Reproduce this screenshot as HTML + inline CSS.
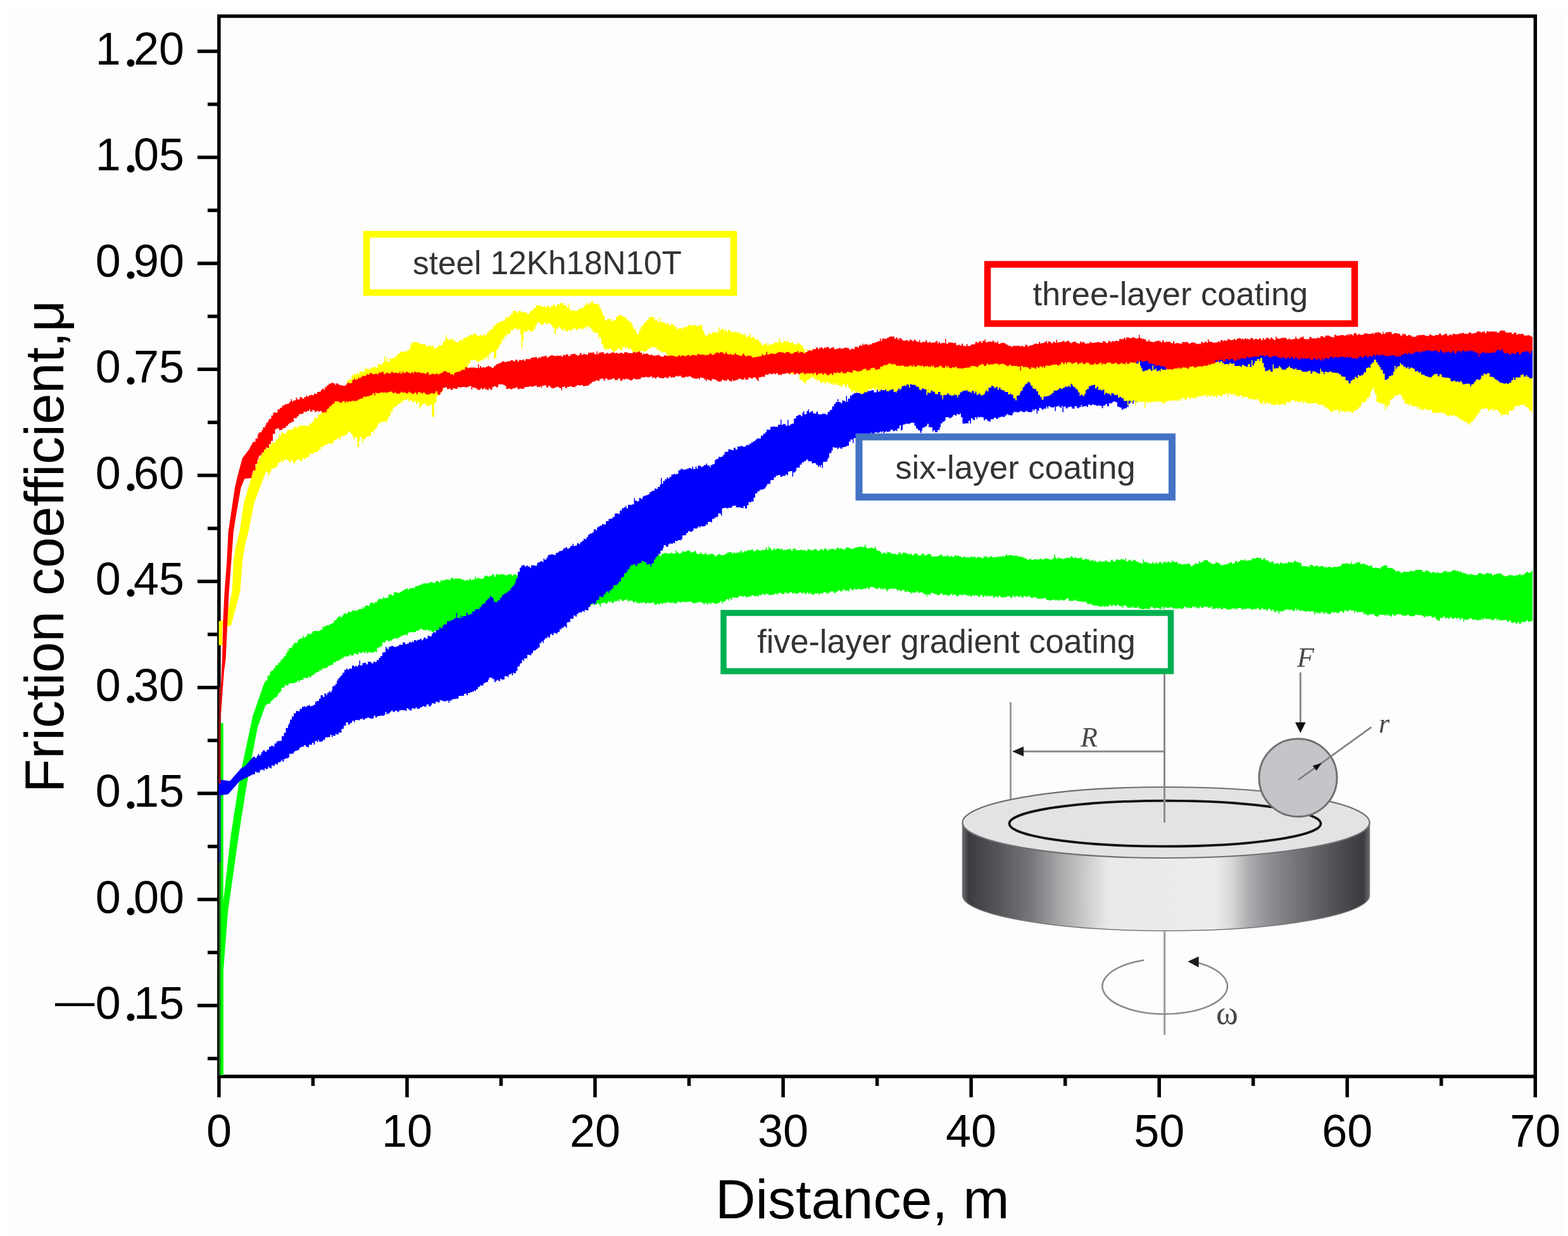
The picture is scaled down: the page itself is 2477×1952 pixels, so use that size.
<!DOCTYPE html>
<html><head><meta charset="utf-8"><title>Friction coefficient vs distance</title>
<style>
html,body{margin:0;padding:0;background:#fff;width:2477px;height:1952px;overflow:hidden}
svg{display:block}
.tk{font-family:"Liberation Sans",Arial,sans-serif;font-size:72px;fill:#000}
.tk .dot{font-family:"Liberation Serif",serif;font-weight:bold;font-size:74px}
.mn{font-weight:normal}
.ttl{font-family:"Liberation Sans",Arial,sans-serif;font-size:87.5px;fill:#000}
.lg{font-family:"Liberation Sans",Arial,sans-serif;font-size:52px;fill:#333}
.it{font-family:"Liberation Serif","Times New Roman",serif;font-style:italic;fill:#484848}
.sf{font-family:"Liberation Serif","Times New Roman",serif;fill:#484848}
</style></head><body>
<svg width="2477" height="1952" viewBox="0 0 2477 1952">
<rect width="2477" height="1952" fill="#ffffff"/><rect x="15" y="14" width="2454" height="1938" fill="#fdfdfd"/>
<rect x="345.9" y="25.5" width="2079.4" height="1674.5" fill="none" stroke="#000" stroke-width="5.5"/>
<line x1="312" y1="81.0" x2="346" y2="81.0" stroke="#000" stroke-width="5.5"/>
<line x1="328" y1="164.7" x2="346" y2="164.7" stroke="#000" stroke-width="5.5"/>
<line x1="312" y1="248.4" x2="346" y2="248.4" stroke="#000" stroke-width="5.5"/>
<line x1="328" y1="332.2" x2="346" y2="332.2" stroke="#000" stroke-width="5.5"/>
<line x1="312" y1="415.9" x2="346" y2="415.9" stroke="#000" stroke-width="5.5"/>
<line x1="328" y1="499.6" x2="346" y2="499.6" stroke="#000" stroke-width="5.5"/>
<line x1="312" y1="583.3" x2="346" y2="583.3" stroke="#000" stroke-width="5.5"/>
<line x1="328" y1="667.1" x2="346" y2="667.1" stroke="#000" stroke-width="5.5"/>
<line x1="312" y1="750.8" x2="346" y2="750.8" stroke="#000" stroke-width="5.5"/>
<line x1="328" y1="834.5" x2="346" y2="834.5" stroke="#000" stroke-width="5.5"/>
<line x1="312" y1="918.2" x2="346" y2="918.2" stroke="#000" stroke-width="5.5"/>
<line x1="328" y1="1001.9" x2="346" y2="1001.9" stroke="#000" stroke-width="5.5"/>
<line x1="312" y1="1085.7" x2="346" y2="1085.7" stroke="#000" stroke-width="5.5"/>
<line x1="328" y1="1169.4" x2="346" y2="1169.4" stroke="#000" stroke-width="5.5"/>
<line x1="312" y1="1253.1" x2="346" y2="1253.1" stroke="#000" stroke-width="5.5"/>
<line x1="328" y1="1336.8" x2="346" y2="1336.8" stroke="#000" stroke-width="5.5"/>
<line x1="312" y1="1420.6" x2="346" y2="1420.6" stroke="#000" stroke-width="5.5"/>
<line x1="328" y1="1504.3" x2="346" y2="1504.3" stroke="#000" stroke-width="5.5"/>
<line x1="312" y1="1588.0" x2="346" y2="1588.0" stroke="#000" stroke-width="5.5"/>
<line x1="328" y1="1671.7" x2="346" y2="1671.7" stroke="#000" stroke-width="5.5"/>
<line x1="345.9" y1="1700" x2="345.9" y2="1733" stroke="#000" stroke-width="5.5"/>
<line x1="494.4" y1="1700" x2="494.4" y2="1715" stroke="#000" stroke-width="5.5"/>
<line x1="643.0" y1="1700" x2="643.0" y2="1733" stroke="#000" stroke-width="5.5"/>
<line x1="791.5" y1="1700" x2="791.5" y2="1715" stroke="#000" stroke-width="5.5"/>
<line x1="940.0" y1="1700" x2="940.0" y2="1733" stroke="#000" stroke-width="5.5"/>
<line x1="1088.5" y1="1700" x2="1088.5" y2="1715" stroke="#000" stroke-width="5.5"/>
<line x1="1237.1" y1="1700" x2="1237.1" y2="1733" stroke="#000" stroke-width="5.5"/>
<line x1="1385.6" y1="1700" x2="1385.6" y2="1715" stroke="#000" stroke-width="5.5"/>
<line x1="1534.1" y1="1700" x2="1534.1" y2="1733" stroke="#000" stroke-width="5.5"/>
<line x1="1682.7" y1="1700" x2="1682.7" y2="1715" stroke="#000" stroke-width="5.5"/>
<line x1="1831.2" y1="1700" x2="1831.2" y2="1733" stroke="#000" stroke-width="5.5"/>
<line x1="1979.7" y1="1700" x2="1979.7" y2="1715" stroke="#000" stroke-width="5.5"/>
<line x1="2128.2" y1="1700" x2="2128.2" y2="1733" stroke="#000" stroke-width="5.5"/>
<line x1="2276.8" y1="1700" x2="2276.8" y2="1715" stroke="#000" stroke-width="5.5"/>
<line x1="2425.3" y1="1700" x2="2425.3" y2="1733" stroke="#000" stroke-width="5.5"/>
<rect x="348.3" y="1142" width="4.5" height="556" fill="#00ff00"/>
<path d="M348.3 1698.0 L348.3 1500.0 L351.0 1440.0 L364.5 1320.0 L378.5 1230.0 L381.2 1215.6 L399.3 1130.5 L417.3 1079.0 L420.0 1074.5 L422.5 1074.5 L422.5 1067.8 L424.0 1067.8 L424.0 1066.6 L426.5 1066.6 L426.5 1060.9 L428.5 1060.9 L428.5 1058.9 L430.0 1058.9 L430.0 1059.2 L431.5 1059.2 L431.5 1056.6 L433.5 1056.6 L433.5 1054.6 L435.0 1054.6 L435.0 1050.7 L437.0 1050.7 L437.0 1050.0 L439.5 1050.0 L439.5 1046.5 L443.0 1046.5 L443.0 1042.5 L445.0 1042.5 L445.0 1040.7 L447.0 1040.7 L447.0 1039.0 L448.5 1039.0 L448.5 1036.3 L451.5 1036.3 L451.5 1031.5 L454.0 1031.5 L454.0 1027.3 L456.5 1027.3 L456.5 1023.2 L458.5 1023.2 L458.5 1022.9 L461.5 1022.9 L461.5 1018.9 L464.0 1018.9 L464.0 1015.6 L467.5 1015.6 L467.5 1015.4 L469.5 1015.4 L469.5 1013.2 L471.0 1013.2 L471.0 1009.9 L473.5 1009.9 L473.5 1008.6 L476.5 1008.6 L476.5 1008.4 L478.0 1008.4 L478.0 1004.2 L479.5 1004.2 L479.5 1006.8 L483.0 1006.8 L483.0 1004.4 L485.5 1004.4 L485.5 1000.5 L488.0 1000.5 L488.0 1001.8 L490.0 1001.8 L490.0 1001.6 L492.0 1001.6 L492.0 999.2 L494.0 999.2 L494.0 996.8 L497.0 996.8 L497.0 996.2 L500.5 996.2 L500.5 997.0 L503.5 997.0 L503.5 995.9 L506.5 995.9 L506.5 994.3 L509.5 994.3 L509.5 989.9 L511.5 989.9 L511.5 990.3 L513.0 990.3 L513.0 988.5 L515.5 988.5 L515.5 987.4 L519.0 987.4 L519.0 987.3 L521.0 987.3 L521.0 985.3 L524.5 985.3 L524.5 984.0 L527.5 984.0 L527.5 979.6 L531.0 979.6 L531.0 978.2 L532.5 978.2 L532.5 975.3 L534.5 975.3 L534.5 974.1 L536.5 974.1 L536.5 972.4 L538.0 972.4 L538.0 975.2 L539.5 975.2 L539.5 973.8 L541.0 973.8 L541.0 971.6 L543.0 971.6 L543.0 968.6 L546.5 968.6 L546.5 969.6 L549.5 969.6 L549.5 966.0 L552.5 966.0 L552.5 966.9 L555.0 966.9 L555.0 965.3 L557.0 965.3 L557.0 963.9 L560.5 963.9 L560.5 964.7 L562.0 964.7 L562.0 964.0 L563.5 964.0 L563.5 964.3 L566.0 964.3 L566.0 962.1 L568.0 962.1 L568.0 961.8 L570.5 961.8 L570.5 961.8 L572.5 961.8 L572.5 958.5 L574.5 958.5 L574.5 960.8 L576.0 960.8 L576.0 956.7 L579.0 956.7 L579.0 956.1 L581.5 956.1 L581.5 956.9 L584.0 956.9 L584.0 952.4 L586.0 952.4 L586.0 951.6 L588.5 951.6 L588.5 952.7 L592.0 952.7 L592.0 951.1 L594.5 951.1 L594.5 950.7 L596.0 950.7 L596.0 948.2 L598.0 948.2 L598.0 945.7 L600.5 945.7 L600.5 946.1 L603.5 946.1 L603.5 946.2 L605.0 946.2 L605.0 942.7 L607.0 942.7 L607.0 944.7 L610.0 944.7 L610.0 944.1 L613.5 944.1 L613.5 939.5 L616.0 939.5 L616.0 938.1 L617.5 938.1 L617.5 939.6 L619.0 939.6 L619.0 940.5 L622.0 940.5 L622.0 935.6 L624.0 935.6 L624.0 935.6 L627.5 935.6 L627.5 935.9 L630.0 935.9 L630.0 936.7 L631.5 936.7 L631.5 935.1 L634.5 935.1 L634.5 933.1 L638.0 933.1 L638.0 930.9 L641.5 930.9 L641.5 929.5 L645.0 929.5 L645.0 931.0 L647.0 931.0 L647.0 928.6 L649.0 928.6 L649.0 929.6 L650.5 929.6 L650.5 928.5 L654.0 928.5 L654.0 928.9 L655.5 928.9 L655.5 925.8 L657.5 925.8 L657.5 925.4 L661.0 925.4 L661.0 924.4 L662.5 924.4 L662.5 924.0 L666.0 924.0 L666.0 922.2 L668.5 922.2 L668.5 921.3 L671.5 921.3 L671.5 921.5 L675.0 921.5 L675.0 921.0 L677.5 921.0 L677.5 920.7 L679.5 920.7 L679.5 918.9 L681.0 918.9 L681.0 919.0 L683.0 919.0 L683.0 920.4 L685.5 920.4 L685.5 921.1 L687.5 921.1 L687.5 917.9 L690.0 917.9 L690.0 917.8 L693.0 917.8 L693.0 919.8 L696.0 919.8 L696.0 916.3 L698.0 916.3 L698.0 916.7 L701.5 916.7 L701.5 915.7 L704.0 915.7 L704.0 915.3 L705.5 915.3 L705.5 915.1 L707.0 915.1 L707.0 915.2 L709.5 915.2 L709.5 916.5 L711.5 916.5 L711.5 913.2 L714.0 913.2 L714.0 912.6 L716.0 912.6 L716.0 914.7 L719.0 914.7 L719.0 913.2 L721.5 913.2 L721.5 914.1 L725.0 914.1 L725.0 913.2 L726.5 913.2 L726.5 914.0 L728.5 914.0 L728.5 915.0 L730.0 915.0 L730.0 915.0 L731.5 915.0 L731.5 916.2 L734.0 916.2 L734.0 917.0 L736.5 917.0 L736.5 915.7 L739.0 915.7 L739.0 917.2 L741.0 917.2 L741.0 913.9 L743.5 913.9 L743.5 916.5 L746.0 916.5 L746.0 915.3 L748.0 915.3 L748.0 914.8 L750.0 914.8 L750.0 910.4 L751.5 910.4 L751.5 914.8 L753.5 914.8 L753.5 912.4 L756.5 912.4 L756.5 913.8 L759.5 913.8 L759.5 914.2 L762.5 914.2 L762.5 913.5 L764.5 913.5 L764.5 910.6 L766.5 910.6 L766.5 908.7 L768.0 908.7 L768.0 909.6 L770.5 909.6 L770.5 910.6 L773.5 910.6 L773.5 909.4 L776.0 909.4 L776.0 908.8 L777.5 908.8 L777.5 907.0 L780.5 907.0 L780.5 910.8 L783.0 910.8 L783.0 907.0 L785.0 907.0 L785.0 905.7 L786.5 905.7 L786.5 907.9 L789.5 907.9 L789.5 906.5 L791.0 906.5 L791.0 907.2 L792.5 907.2 L792.5 906.7 L795.5 906.7 L795.5 906.9 L797.5 906.9 L797.5 909.1 L799.5 909.1 L799.5 908.0 L803.0 908.0 L803.0 907.0 L806.0 907.0 L806.0 906.5 L808.0 906.5 L808.0 908.8 L811.5 908.8 L811.5 906.7 L815.0 906.7 L815.0 908.4 L818.5 908.4 L818.5 909.3 L820.0 909.3 L820.0 906.3 L822.0 906.3 L822.0 909.5 L824.5 909.5 L824.5 907.5 L827.5 907.5 L827.5 907.6 L831.0 907.6 L831.0 906.3 L832.5 906.3 L832.5 907.8 L836.0 907.8 L836.0 903.9 L839.5 903.9 L839.5 906.5 L842.0 906.5 L842.0 905.9 L844.0 905.9 L844.0 904.6 L847.0 904.6 L847.0 905.8 L850.0 905.8 L850.0 904.3 L851.5 904.3 L851.5 904.0 L853.0 904.0 L853.0 903.9 L855.5 903.9 L855.5 901.2 L858.5 901.2 L858.5 903.4 L860.0 903.4 L860.0 903.2 L862.5 903.2 L862.5 901.9 L865.5 901.9 L865.5 900.3 L869.0 900.3 L869.0 899.2 L872.0 899.2 L872.0 902.5 L875.5 902.5 L875.5 899.8 L878.0 899.8 L878.0 898.2 L880.0 898.2 L880.0 898.6 L883.5 898.6 L883.5 900.3 L887.0 900.3 L887.0 899.5 L888.5 899.5 L888.5 897.9 L891.5 897.9 L891.5 898.7 L894.5 898.7 L894.5 897.3 L896.5 897.3 L896.5 895.3 L898.0 895.3 L898.0 895.5 L901.0 895.5 L901.0 898.3 L902.5 898.3 L902.5 894.7 L905.0 894.7 L905.0 894.3 L908.5 894.3 L908.5 897.0 L911.0 897.0 L911.0 896.7 L912.5 896.7 L912.5 894.1 L914.5 894.1 L914.5 894.0 L918.0 894.0 L918.0 895.8 L921.0 895.8 L921.0 895.5 L924.0 895.5 L924.0 892.2 L927.5 892.2 L927.5 892.7 L930.5 892.7 L930.5 892.5 L933.0 892.5 L933.0 890.6 L936.5 890.6 L936.5 890.8 L939.0 890.8 L939.0 891.0 L941.5 891.0 L941.5 891.2 L944.5 891.2 L944.5 891.2 L946.5 891.2 L946.5 891.8 L950.0 891.8 L950.0 889.7 L952.0 889.7 L952.0 889.2 L955.0 889.2 L955.0 887.5 L957.0 887.5 L957.0 888.2 L958.5 888.2 L958.5 887.4 L962.0 887.4 L962.0 887.6 L965.0 887.6 L965.0 887.3 L967.0 887.3 L967.0 887.5 L968.5 887.5 L968.5 885.7 L971.0 885.7 L971.0 885.3 L973.0 885.3 L973.0 886.2 L976.0 886.2 L976.0 887.6 L978.5 887.6 L978.5 884.4 L980.0 884.4 L980.0 887.5 L983.0 887.5 L983.0 884.8 L984.5 884.8 L984.5 886.3 L988.0 886.3 L988.0 885.7 L990.0 885.7 L990.0 884.3 L992.0 884.3 L992.0 882.2 L995.0 882.2 L995.0 884.7 L996.5 884.7 L996.5 884.0 L998.0 884.0 L998.0 883.6 L1000.0 883.6 L1000.0 883.6 L1003.0 883.6 L1003.0 881.7 L1004.5 881.7 L1004.5 881.8 L1006.5 881.8 L1006.5 879.8 L1010.0 879.8 L1010.0 880.5 L1013.0 880.5 L1013.0 880.9 L1015.0 880.9 L1015.0 878.9 L1017.0 878.9 L1017.0 878.7 L1019.5 878.7 L1019.5 878.4 L1022.5 878.4 L1022.5 881.3 L1025.5 881.3 L1025.5 880.1 L1027.0 880.1 L1027.0 879.8 L1029.5 879.8 L1029.5 879.6 L1032.0 879.6 L1032.0 878.4 L1034.0 878.4 L1034.0 877.0 L1036.0 877.0 L1036.0 876.2 L1038.5 876.2 L1038.5 876.1 L1042.0 876.1 L1042.0 878.3 L1045.0 878.3 L1045.0 874.6 L1048.5 874.6 L1048.5 873.6 L1050.5 873.6 L1050.5 873.2 L1053.5 873.2 L1053.5 874.2 L1056.5 874.2 L1056.5 874.8 L1059.0 874.8 L1059.0 872.7 L1061.0 872.7 L1061.0 874.1 L1064.5 874.1 L1064.5 874.3 L1067.5 874.3 L1067.5 869.2 L1069.0 869.2 L1069.0 872.3 L1071.5 872.3 L1071.5 874.3 L1075.0 874.3 L1075.0 873.3 L1077.5 873.3 L1077.5 870.4 L1080.5 870.4 L1080.5 871.4 L1082.5 871.4 L1082.5 871.1 L1084.5 871.1 L1084.5 869.8 L1087.5 869.8 L1087.5 869.6 L1090.5 869.6 L1090.5 872.5 L1092.0 872.5 L1092.0 872.6 L1094.0 872.6 L1094.0 871.4 L1096.5 871.4 L1096.5 870.5 L1100.0 870.5 L1100.0 874.5 L1102.5 874.5 L1102.5 874.9 L1106.0 874.9 L1106.0 871.7 L1107.5 871.7 L1107.5 874.8 L1110.5 874.8 L1110.5 875.6 L1113.5 875.6 L1113.5 873.4 L1116.5 873.4 L1116.5 876.4 L1118.0 876.4 L1118.0 875.9 L1120.0 875.9 L1120.0 875.6 L1122.5 875.6 L1122.5 874.5 L1126.0 874.5 L1126.0 875.6 L1128.0 875.6 L1128.0 876.8 L1129.5 876.8 L1129.5 879.1 L1131.5 879.1 L1131.5 876.4 L1133.0 876.4 L1133.0 876.8 L1134.5 876.8 L1134.5 875.3 L1137.5 875.3 L1137.5 876.5 L1140.5 876.5 L1140.5 876.8 L1144.0 876.8 L1144.0 876.0 L1145.5 876.0 L1145.5 874.8 L1148.0 874.8 L1148.0 872.8 L1150.5 872.8 L1150.5 872.5 L1152.5 872.5 L1152.5 871.8 L1156.0 871.8 L1156.0 874.4 L1158.5 874.4 L1158.5 872.6 L1160.5 872.6 L1160.5 873.4 L1163.5 873.4 L1163.5 872.7 L1166.5 872.7 L1166.5 872.6 L1169.5 872.6 L1169.5 869.7 L1172.0 869.7 L1172.0 872.5 L1175.5 872.5 L1175.5 869.9 L1177.0 869.9 L1177.0 870.7 L1180.0 870.7 L1180.0 868.5 L1181.5 868.5 L1181.5 869.3 L1185.0 869.3 L1185.0 868.3 L1187.5 868.3 L1187.5 867.7 L1190.0 867.7 L1190.0 870.7 L1192.0 870.7 L1192.0 870.0 L1195.0 870.0 L1195.0 867.4 L1197.5 867.4 L1197.5 869.1 L1200.5 869.1 L1200.5 869.9 L1202.0 869.9 L1202.0 869.2 L1204.0 869.2 L1204.0 868.1 L1206.0 868.1 L1206.0 869.0 L1208.5 869.0 L1208.5 867.5 L1210.0 867.5 L1210.0 864.3 L1211.5 864.3 L1211.5 868.6 L1214.0 868.6 L1214.0 862.8 L1215.5 862.8 L1215.5 866.1 L1218.5 866.1 L1218.5 869.0 L1222.0 869.0 L1222.0 865.8 L1224.0 865.8 L1224.0 867.8 L1226.0 867.8 L1226.0 867.6 L1227.5 867.6 L1227.5 866.0 L1231.0 866.0 L1231.0 867.5 L1233.0 867.5 L1233.0 867.0 L1234.5 867.0 L1234.5 866.8 L1236.5 866.8 L1236.5 869.5 L1238.0 869.5 L1238.0 868.1 L1239.5 868.1 L1239.5 869.3 L1241.0 869.3 L1241.0 868.3 L1243.0 868.3 L1243.0 867.5 L1246.5 867.5 L1246.5 866.7 L1249.5 866.7 L1249.5 869.8 L1252.5 869.8 L1252.5 866.6 L1255.0 866.6 L1255.0 866.4 L1257.0 866.4 L1257.0 869.0 L1258.5 869.0 L1258.5 868.8 L1261.5 868.8 L1261.5 869.0 L1264.0 869.0 L1264.0 868.2 L1266.0 868.2 L1266.0 868.6 L1269.0 868.6 L1269.0 869.2 L1270.5 869.2 L1270.5 868.5 L1272.5 868.5 L1272.5 870.2 L1275.5 870.2 L1275.5 867.3 L1278.5 867.3 L1278.5 868.5 L1281.5 868.5 L1281.5 869.2 L1285.0 869.2 L1285.0 867.5 L1287.0 867.5 L1287.0 867.3 L1290.5 867.3 L1290.5 869.4 L1293.5 869.4 L1293.5 870.1 L1295.0 870.1 L1295.0 867.3 L1296.5 867.3 L1296.5 867.5 L1299.5 867.5 L1299.5 869.0 L1301.5 869.0 L1301.5 866.4 L1303.5 866.4 L1303.5 866.6 L1306.0 866.6 L1306.0 869.4 L1308.5 869.4 L1308.5 867.6 L1311.0 867.6 L1311.0 867.8 L1313.0 867.8 L1313.0 866.6 L1315.0 866.6 L1315.0 866.8 L1317.0 866.8 L1317.0 867.8 L1319.5 867.8 L1319.5 868.1 L1321.5 868.1 L1321.5 864.9 L1325.0 864.9 L1325.0 866.7 L1328.0 866.7 L1328.0 865.3 L1329.5 865.3 L1329.5 867.1 L1332.5 867.1 L1332.5 868.0 L1335.5 868.0 L1335.5 865.1 L1338.0 865.1 L1338.0 864.4 L1340.0 864.4 L1340.0 864.7 L1341.5 864.7 L1341.5 866.0 L1344.0 866.0 L1344.0 866.9 L1347.5 866.9 L1347.5 866.1 L1349.0 866.1 L1349.0 865.5 L1351.5 865.5 L1351.5 864.4 L1355.0 864.4 L1355.0 863.8 L1358.0 863.8 L1358.0 863.1 L1359.5 863.1 L1359.5 863.2 L1362.0 863.2 L1362.0 864.4 L1364.0 864.4 L1364.0 863.5 L1366.0 863.5 L1366.0 859.8 L1367.5 859.8 L1367.5 864.4 L1369.5 864.4 L1369.5 866.1 L1371.5 866.1 L1371.5 865.8 L1374.5 865.8 L1374.5 865.1 L1376.0 865.1 L1376.0 864.8 L1378.5 864.8 L1378.5 866.3 L1382.0 866.3 L1382.0 863.3 L1383.5 863.3 L1383.5 866.9 L1385.0 866.9 L1385.0 869.9 L1386.5 869.9 L1386.5 870.1 L1390.0 870.1 L1390.0 871.4 L1392.0 871.4 L1392.0 874.2 L1395.5 874.2 L1395.5 872.7 L1399.0 872.7 L1399.0 874.5 L1401.5 874.5 L1401.5 871.2 L1403.0 871.2 L1403.0 872.3 L1406.0 872.3 L1406.0 872.9 L1408.0 872.9 L1408.0 874.6 L1410.0 874.6 L1410.0 874.8 L1412.5 874.8 L1412.5 874.7 L1416.0 874.7 L1416.0 875.9 L1419.5 875.9 L1419.5 872.3 L1421.5 872.3 L1421.5 873.0 L1423.5 873.0 L1423.5 875.8 L1425.5 875.8 L1425.5 872.8 L1428.0 872.8 L1428.0 873.1 L1431.5 873.1 L1431.5 874.3 L1435.0 874.3 L1435.0 876.0 L1436.5 876.0 L1436.5 875.0 L1438.5 875.0 L1438.5 874.4 L1440.5 874.4 L1440.5 876.7 L1444.0 876.7 L1444.0 873.7 L1445.5 873.7 L1445.5 874.8 L1447.5 874.8 L1447.5 873.6 L1449.0 873.6 L1449.0 876.4 L1450.5 876.4 L1450.5 877.2 L1452.0 877.2 L1452.0 877.1 L1454.0 877.1 L1454.0 877.5 L1455.5 877.5 L1455.5 874.6 L1458.5 874.6 L1458.5 874.5 L1460.0 874.5 L1460.0 877.8 L1461.5 877.8 L1461.5 876.5 L1464.0 876.5 L1464.0 876.0 L1466.0 876.0 L1466.0 875.0 L1468.5 875.0 L1468.5 875.3 L1471.0 875.3 L1471.0 878.4 L1473.5 878.4 L1473.5 878.9 L1476.5 878.9 L1476.5 878.8 L1478.0 878.8 L1478.0 878.8 L1481.5 878.8 L1481.5 877.9 L1483.0 877.9 L1483.0 878.1 L1484.5 878.1 L1484.5 875.9 L1487.5 875.9 L1487.5 875.9 L1489.0 875.9 L1489.0 878.7 L1492.0 878.7 L1492.0 878.4 L1495.0 878.4 L1495.0 877.2 L1498.5 877.2 L1498.5 879.5 L1501.0 879.5 L1501.0 878.2 L1503.0 878.2 L1503.0 878.3 L1504.5 878.3 L1504.5 879.5 L1508.0 879.5 L1508.0 876.8 L1510.5 876.8 L1510.5 878.2 L1512.0 878.2 L1512.0 877.4 L1514.5 877.4 L1514.5 878.6 L1518.0 878.6 L1518.0 880.5 L1520.0 880.5 L1520.0 879.8 L1523.5 879.8 L1523.5 878.2 L1525.0 878.2 L1525.0 880.5 L1527.0 880.5 L1527.0 880.2 L1530.5 880.2 L1530.5 880.4 L1533.5 880.4 L1533.5 878.4 L1535.5 878.4 L1535.5 880.1 L1537.5 880.1 L1537.5 878.9 L1541.0 878.9 L1541.0 881.5 L1543.0 881.5 L1543.0 879.5 L1545.5 879.5 L1545.5 880.1 L1547.5 880.1 L1547.5 879.8 L1549.0 879.8 L1549.0 880.5 L1551.0 880.5 L1551.0 881.7 L1553.5 881.7 L1553.5 879.0 L1555.5 879.0 L1555.5 879.1 L1558.0 879.1 L1558.0 878.2 L1559.5 878.2 L1559.5 880.7 L1562.5 880.7 L1562.5 879.5 L1565.0 879.5 L1565.0 878.1 L1566.5 878.1 L1566.5 880.0 L1569.5 880.0 L1569.5 880.3 L1572.5 880.3 L1572.5 880.0 L1576.0 880.0 L1576.0 878.1 L1577.5 878.1 L1577.5 879.7 L1579.0 879.7 L1579.0 878.8 L1582.0 878.8 L1582.0 879.1 L1584.5 879.1 L1584.5 878.0 L1586.0 878.0 L1586.0 878.9 L1588.0 878.9 L1588.0 876.7 L1589.5 876.7 L1589.5 875.1 L1591.0 875.1 L1591.0 877.7 L1593.0 877.7 L1593.0 876.7 L1595.0 876.7 L1595.0 876.4 L1598.5 876.4 L1598.5 877.3 L1601.5 877.3 L1601.5 877.9 L1604.0 877.9 L1604.0 877.2 L1607.0 877.2 L1607.0 879.0 L1610.0 879.0 L1610.0 879.0 L1613.5 879.0 L1613.5 879.7 L1616.0 879.7 L1616.0 880.2 L1617.5 880.2 L1617.5 881.3 L1620.0 881.3 L1620.0 882.4 L1622.5 882.4 L1622.5 884.0 L1626.0 884.0 L1626.0 882.6 L1629.0 882.6 L1629.0 884.4 L1630.5 884.4 L1630.5 884.2 L1633.5 884.2 L1633.5 882.9 L1635.5 882.9 L1635.5 883.2 L1638.5 883.2 L1638.5 883.7 L1642.0 883.7 L1642.0 882.3 L1645.0 882.3 L1645.0 883.6 L1647.5 883.6 L1647.5 883.3 L1650.5 883.3 L1650.5 881.8 L1653.0 881.8 L1653.0 882.2 L1655.5 882.2 L1655.5 882.8 L1657.0 882.8 L1657.0 883.4 L1659.5 883.4 L1659.5 883.5 L1663.0 883.5 L1663.0 881.8 L1665.0 881.8 L1665.0 875.7 L1666.5 875.7 L1666.5 880.4 L1669.0 880.4 L1669.0 882.7 L1671.0 882.7 L1671.0 880.5 L1674.0 880.5 L1674.0 882.1 L1677.0 882.1 L1677.0 882.7 L1680.5 882.7 L1680.5 881.7 L1684.0 881.7 L1684.0 880.4 L1686.0 880.4 L1686.0 881.3 L1687.5 881.3 L1687.5 880.4 L1689.0 880.4 L1689.0 881.4 L1691.0 881.4 L1691.0 878.4 L1694.5 878.4 L1694.5 881.4 L1696.5 881.4 L1696.5 881.0 L1698.5 881.0 L1698.5 879.8 L1700.0 879.8 L1700.0 881.5 L1703.5 881.5 L1703.5 881.5 L1706.5 881.5 L1706.5 881.0 L1708.0 881.0 L1708.0 880.6 L1709.5 880.6 L1709.5 884.1 L1712.0 884.1 L1712.0 883.2 L1715.0 883.2 L1715.0 882.4 L1716.5 882.4 L1716.5 883.2 L1718.5 883.2 L1718.5 883.6 L1721.0 883.6 L1721.0 885.7 L1724.5 885.7 L1724.5 884.5 L1727.5 884.5 L1727.5 886.8 L1729.0 886.8 L1729.0 885.4 L1732.0 885.4 L1732.0 887.7 L1734.5 887.7 L1734.5 887.2 L1736.5 887.2 L1736.5 885.7 L1739.0 885.7 L1739.0 887.5 L1741.0 887.5 L1741.0 886.6 L1742.5 886.6 L1742.5 887.0 L1745.5 887.0 L1745.5 884.9 L1748.0 884.9 L1748.0 886.7 L1751.0 886.7 L1751.0 887.5 L1754.5 887.5 L1754.5 884.1 L1758.0 884.1 L1758.0 886.7 L1761.5 886.7 L1761.5 885.6 L1763.0 885.6 L1763.0 883.2 L1765.0 883.2 L1765.0 884.3 L1766.5 884.3 L1766.5 883.9 L1768.0 883.9 L1768.0 884.5 L1770.5 884.5 L1770.5 882.7 L1773.0 882.7 L1773.0 883.5 L1774.5 883.5 L1774.5 883.6 L1776.0 883.6 L1776.0 884.9 L1777.5 884.9 L1777.5 881.4 L1779.0 881.4 L1779.0 886.4 L1782.5 886.4 L1782.5 884.8 L1784.5 884.8 L1784.5 883.5 L1786.0 883.5 L1786.0 886.0 L1788.0 886.0 L1788.0 886.5 L1789.5 886.5 L1789.5 884.9 L1791.0 884.9 L1791.0 884.5 L1794.0 884.5 L1794.0 886.6 L1796.0 886.6 L1796.0 886.6 L1797.5 886.6 L1797.5 888.3 L1799.5 888.3 L1799.5 888.7 L1803.0 888.7 L1803.0 890.0 L1805.5 890.0 L1805.5 883.6 L1807.0 883.6 L1807.0 887.4 L1810.5 887.4 L1810.5 888.2 L1814.0 888.2 L1814.0 889.8 L1817.0 889.8 L1817.0 890.0 L1820.5 890.0 L1820.5 887.5 L1822.5 887.5 L1822.5 890.6 L1825.0 890.6 L1825.0 888.5 L1828.0 888.5 L1828.0 890.2 L1831.0 890.2 L1831.0 887.5 L1834.5 887.5 L1834.5 889.9 L1838.0 889.9 L1838.0 887.1 L1841.5 887.1 L1841.5 888.9 L1843.0 888.9 L1843.0 887.8 L1845.5 887.8 L1845.5 886.8 L1847.5 886.8 L1847.5 888.5 L1851.0 888.5 L1851.0 884.9 L1852.5 884.9 L1852.5 886.9 L1855.5 886.9 L1855.5 887.8 L1857.0 887.8 L1857.0 887.6 L1860.5 887.6 L1860.5 890.4 L1864.0 890.4 L1864.0 890.3 L1866.5 890.3 L1866.5 891.8 L1869.5 891.8 L1869.5 890.2 L1871.5 890.2 L1871.5 891.3 L1874.5 891.3 L1874.5 889.7 L1876.0 889.7 L1876.0 890.6 L1879.5 890.6 L1879.5 891.6 L1881.0 891.6 L1881.0 894.5 L1883.5 894.5 L1883.5 892.7 L1886.5 892.7 L1886.5 890.3 L1888.5 890.3 L1888.5 890.0 L1891.0 890.0 L1891.0 890.4 L1894.0 890.4 L1894.0 886.4 L1896.0 886.4 L1896.0 888.7 L1898.5 888.7 L1898.5 887.1 L1901.5 887.1 L1901.5 884.6 L1905.0 884.6 L1905.0 885.1 L1908.5 885.1 L1908.5 887.6 L1912.0 887.6 L1912.0 889.8 L1914.5 889.8 L1914.5 890.2 L1916.0 890.2 L1916.0 890.7 L1919.5 890.7 L1919.5 888.6 L1921.0 888.6 L1921.0 887.9 L1924.0 887.9 L1924.0 889.5 L1927.5 889.5 L1927.5 892.4 L1930.5 892.4 L1930.5 892.4 L1932.0 892.4 L1932.0 892.0 L1933.5 892.0 L1933.5 891.7 L1936.0 891.7 L1936.0 891.1 L1939.5 891.1 L1939.5 890.3 L1941.5 890.3 L1941.5 889.0 L1943.5 889.0 L1943.5 888.0 L1946.0 888.0 L1946.0 890.6 L1947.5 890.6 L1947.5 889.5 L1951.0 889.5 L1951.0 886.1 L1954.0 886.1 L1954.0 889.0 L1955.5 889.0 L1955.5 887.1 L1958.0 887.1 L1958.0 886.2 L1959.5 886.2 L1959.5 884.2 L1962.5 884.2 L1962.5 885.0 L1964.5 885.0 L1964.5 884.8 L1966.0 884.8 L1966.0 883.3 L1967.5 883.3 L1967.5 886.1 L1969.0 886.1 L1969.0 885.2 L1971.0 885.2 L1971.0 885.0 L1974.0 885.0 L1974.0 885.0 L1977.0 885.0 L1977.0 882.5 L1979.0 882.5 L1979.0 881.6 L1981.0 881.6 L1981.0 882.7 L1983.0 882.7 L1983.0 881.3 L1985.0 881.3 L1985.0 880.7 L1988.0 880.7 L1988.0 881.5 L1990.5 881.5 L1990.5 881.0 L1992.5 881.0 L1992.5 884.4 L1995.5 884.4 L1995.5 882.1 L1999.0 882.1 L1999.0 885.1 L2001.0 885.1 L2001.0 884.4 L2002.5 884.4 L2002.5 885.8 L2005.0 885.8 L2005.0 888.5 L2007.0 888.5 L2007.0 887.2 L2009.5 887.2 L2009.5 887.0 L2012.0 887.0 L2012.0 890.6 L2015.0 890.6 L2015.0 889.9 L2017.0 889.9 L2017.0 889.5 L2020.5 889.5 L2020.5 891.7 L2022.0 891.7 L2022.0 888.4 L2025.5 888.4 L2025.5 890.3 L2029.0 890.3 L2029.0 889.3 L2031.0 889.3 L2031.0 889.4 L2034.5 889.4 L2034.5 886.9 L2036.5 886.9 L2036.5 888.2 L2038.5 888.2 L2038.5 888.3 L2040.0 888.3 L2040.0 887.4 L2041.5 887.4 L2041.5 888.5 L2044.0 888.5 L2044.0 885.8 L2047.0 885.8 L2047.0 887.2 L2050.0 887.2 L2050.0 888.5 L2052.0 888.5 L2052.0 888.8 L2054.5 888.8 L2054.5 889.4 L2056.0 889.4 L2056.0 894.3 L2059.0 894.3 L2059.0 894.0 L2061.5 894.0 L2061.5 894.5 L2064.0 894.5 L2064.0 894.6 L2067.5 894.6 L2067.5 895.6 L2069.0 895.6 L2069.0 892.2 L2072.5 892.2 L2072.5 892.4 L2074.5 892.4 L2074.5 895.0 L2076.5 895.0 L2076.5 893.7 L2079.0 893.7 L2079.0 892.9 L2080.5 892.9 L2080.5 894.1 L2082.5 894.1 L2082.5 895.1 L2086.0 895.1 L2086.0 894.0 L2089.0 894.0 L2089.0 894.0 L2091.0 894.0 L2091.0 896.3 L2094.0 896.3 L2094.0 894.7 L2095.5 894.7 L2095.5 896.5 L2097.5 896.5 L2097.5 895.1 L2099.5 895.1 L2099.5 895.2 L2102.5 895.2 L2102.5 896.6 L2105.5 896.6 L2105.5 895.2 L2109.0 895.2 L2109.0 895.6 L2110.5 895.6 L2110.5 895.5 L2112.5 895.5 L2112.5 894.7 L2116.0 894.7 L2116.0 894.1 L2119.0 894.1 L2119.0 890.6 L2122.5 890.6 L2122.5 890.3 L2125.0 890.3 L2125.0 890.3 L2126.5 890.3 L2126.5 889.7 L2128.0 889.7 L2128.0 889.0 L2129.5 889.0 L2129.5 890.7 L2132.5 890.7 L2132.5 890.5 L2134.0 890.5 L2134.0 887.4 L2135.5 887.4 L2135.5 891.0 L2138.0 891.0 L2138.0 890.5 L2141.5 890.5 L2141.5 888.3 L2143.0 888.3 L2143.0 888.2 L2146.0 888.2 L2146.0 888.5 L2147.5 888.5 L2147.5 887.5 L2149.0 887.5 L2149.0 890.9 L2152.5 890.9 L2152.5 890.3 L2156.0 890.3 L2156.0 891.1 L2157.5 891.1 L2157.5 892.1 L2160.5 892.1 L2160.5 893.6 L2162.0 893.6 L2162.0 893.9 L2165.0 893.9 L2165.0 893.3 L2168.0 893.3 L2168.0 897.1 L2171.0 897.1 L2171.0 896.5 L2174.0 896.5 L2174.0 896.8 L2176.0 896.8 L2176.0 897.0 L2179.5 897.0 L2179.5 898.4 L2181.0 898.4 L2181.0 895.4 L2183.0 895.4 L2183.0 894.6 L2185.5 894.6 L2185.5 892.9 L2188.0 892.9 L2188.0 893.0 L2191.5 893.0 L2191.5 896.7 L2194.5 896.7 L2194.5 896.7 L2197.5 896.7 L2197.5 897.4 L2201.0 897.4 L2201.0 899.3 L2203.0 899.3 L2203.0 901.1 L2205.0 901.1 L2205.0 902.6 L2207.5 902.6 L2207.5 901.5 L2210.5 901.5 L2210.5 903.1 L2212.5 903.1 L2212.5 904.9 L2215.5 904.9 L2215.5 903.1 L2218.5 903.1 L2218.5 902.8 L2220.5 902.8 L2220.5 903.2 L2224.0 903.2 L2224.0 903.2 L2227.0 903.2 L2227.0 901.2 L2229.5 901.2 L2229.5 902.1 L2233.0 902.1 L2233.0 902.5 L2234.5 902.5 L2234.5 900.6 L2237.5 900.6 L2237.5 899.9 L2241.0 899.9 L2241.0 899.9 L2244.5 899.9 L2244.5 900.1 L2247.0 900.1 L2247.0 903.0 L2249.0 903.0 L2249.0 903.1 L2252.0 903.1 L2252.0 900.1 L2253.5 900.1 L2253.5 901.4 L2256.5 901.4 L2256.5 902.8 L2259.0 902.8 L2259.0 904.4 L2262.5 904.4 L2262.5 903.2 L2265.5 903.2 L2265.5 904.7 L2269.0 904.7 L2269.0 904.5 L2270.5 904.5 L2270.5 903.3 L2272.0 903.3 L2272.0 905.1 L2275.5 905.1 L2275.5 905.1 L2277.5 905.1 L2277.5 904.1 L2280.5 904.1 L2280.5 902.1 L2284.0 902.1 L2284.0 901.2 L2285.5 901.2 L2285.5 903.7 L2287.0 903.7 L2287.0 902.9 L2288.5 902.9 L2288.5 903.4 L2291.0 903.4 L2291.0 902.4 L2294.0 902.4 L2294.0 900.5 L2297.5 900.5 L2297.5 901.1 L2300.5 901.1 L2300.5 901.6 L2304.0 901.6 L2304.0 902.9 L2305.5 902.9 L2305.5 902.4 L2309.0 902.4 L2309.0 905.4 L2310.5 905.4 L2310.5 904.2 L2312.5 904.2 L2312.5 905.2 L2316.0 905.2 L2316.0 907.1 L2319.5 907.1 L2319.5 907.3 L2321.5 907.3 L2321.5 907.7 L2323.5 907.7 L2323.5 906.0 L2325.0 906.0 L2325.0 907.5 L2328.5 907.5 L2328.5 908.6 L2331.5 908.6 L2331.5 908.0 L2333.0 908.0 L2333.0 908.1 L2335.0 908.1 L2335.0 905.3 L2337.0 905.3 L2337.0 905.3 L2340.5 905.3 L2340.5 906.5 L2344.0 906.5 L2344.0 907.2 L2347.0 907.2 L2347.0 905.0 L2350.0 905.0 L2350.0 904.9 L2352.0 904.9 L2352.0 905.9 L2354.0 905.9 L2354.0 905.7 L2357.0 905.7 L2357.0 908.4 L2360.0 908.4 L2360.0 907.3 L2363.0 907.3 L2363.0 906.2 L2366.0 906.2 L2366.0 905.4 L2369.0 905.4 L2369.0 906.2 L2370.5 906.2 L2370.5 905.7 L2372.5 905.7 L2372.5 908.2 L2375.5 908.2 L2375.5 909.8 L2379.0 909.8 L2379.0 910.4 L2380.5 910.4 L2380.5 909.0 L2383.0 909.0 L2383.0 908.2 L2386.0 908.2 L2386.0 908.5 L2387.5 908.5 L2387.5 908.5 L2389.5 908.5 L2389.5 908.8 L2391.5 908.8 L2391.5 910.2 L2393.5 910.2 L2393.5 908.5 L2395.5 908.5 L2395.5 908.6 L2398.5 908.6 L2398.5 907.5 L2400.5 907.5 L2400.5 906.6 L2402.5 906.6 L2402.5 908.8 L2404.5 908.8 L2404.5 907.8 L2408.0 907.8 L2408.0 905.4 L2410.5 905.4 L2410.5 903.2 L2414.0 903.2 L2414.0 904.5 L2415.5 904.5 L2415.5 904.4 L2418.0 904.4 L2418.0 903.8 L2419.5 903.8 L2419.5 901.0 L2421.0 901.0 L2421.0 979.5 L2420.5 979.5 L2420.5 981.0 L2417.0 981.0 L2417.0 982.0 L2414.0 982.0 L2414.0 980.2 L2410.5 980.2 L2410.5 981.9 L2408.5 981.9 L2408.5 982.3 L2406.5 982.3 L2406.5 982.2 L2403.0 982.2 L2403.0 984.9 L2399.5 984.9 L2399.5 981.8 L2397.5 981.8 L2397.5 984.7 L2394.5 984.7 L2394.5 983.1 L2393.0 983.1 L2393.0 982.2 L2391.0 982.2 L2391.0 983.9 L2388.5 983.9 L2388.5 983.4 L2387.0 983.4 L2387.0 980.0 L2384.0 980.0 L2384.0 982.1 L2380.5 982.1 L2380.5 978.9 L2378.0 978.9 L2378.0 979.3 L2374.5 979.3 L2374.5 979.5 L2372.5 979.5 L2372.5 979.8 L2369.5 979.8 L2369.5 979.8 L2368.0 979.8 L2368.0 977.8 L2366.0 977.8 L2366.0 980.2 L2364.5 980.2 L2364.5 976.8 L2361.0 976.8 L2361.0 978.9 L2359.5 978.9 L2359.5 979.4 L2357.0 979.4 L2357.0 978.2 L2353.5 978.2 L2353.5 977.5 L2350.5 977.5 L2350.5 977.4 L2347.5 977.4 L2347.5 976.9 L2346.0 976.9 L2346.0 976.4 L2343.5 976.4 L2343.5 979.6 L2342.0 979.6 L2342.0 976.4 L2340.5 976.4 L2340.5 978.9 L2338.5 978.9 L2338.5 979.0 L2335.5 979.0 L2335.5 979.7 L2332.0 979.7 L2332.0 978.3 L2328.5 978.3 L2328.5 979.1 L2326.0 979.1 L2326.0 976.9 L2324.5 976.9 L2324.5 976.5 L2322.5 976.5 L2322.5 977.0 L2320.0 977.0 L2320.0 978.6 L2318.0 978.6 L2318.0 979.3 L2316.5 979.3 L2316.5 978.3 L2313.0 978.3 L2313.0 982.1 L2311.5 982.1 L2311.5 976.4 L2308.0 976.4 L2308.0 978.6 L2305.5 978.6 L2305.5 975.6 L2303.0 975.6 L2303.0 976.9 L2300.5 976.9 L2300.5 975.7 L2297.0 975.7 L2297.0 977.5 L2295.5 977.5 L2295.5 976.8 L2293.0 976.8 L2293.0 974.6 L2290.5 974.6 L2290.5 977.7 L2288.5 977.7 L2288.5 975.5 L2285.0 975.5 L2285.0 976.7 L2282.5 976.7 L2282.5 973.7 L2279.5 973.7 L2279.5 976.1 L2277.5 976.1 L2277.5 975.9 L2274.5 975.9 L2274.5 980.6 L2271.0 980.6 L2271.0 978.3 L2268.0 978.3 L2268.0 974.6 L2266.5 974.6 L2266.5 974.6 L2264.5 974.6 L2264.5 975.5 L2261.5 975.5 L2261.5 973.1 L2258.5 973.1 L2258.5 972.8 L2256.0 972.8 L2256.0 974.1 L2254.0 974.1 L2254.0 972.0 L2252.5 972.0 L2252.5 974.5 L2249.5 974.5 L2249.5 973.3 L2247.0 973.3 L2247.0 971.4 L2243.5 971.4 L2243.5 971.5 L2240.0 971.5 L2240.0 971.0 L2238.0 971.0 L2238.0 971.0 L2235.0 971.0 L2235.0 972.9 L2232.5 972.9 L2232.5 973.3 L2229.5 973.3 L2229.5 973.1 L2226.5 973.1 L2226.5 971.6 L2224.5 971.6 L2224.5 970.7 L2223.0 970.7 L2223.0 972.0 L2221.5 972.0 L2221.5 972.5 L2219.0 972.5 L2219.0 971.9 L2216.5 971.9 L2216.5 972.4 L2215.0 972.4 L2215.0 971.2 L2213.0 971.2 L2213.0 970.0 L2211.0 970.0 L2211.0 970.6 L2209.5 970.6 L2209.5 969.7 L2207.0 969.7 L2207.0 971.1 L2204.5 971.1 L2204.5 972.7 L2201.5 972.7 L2201.5 970.2 L2199.0 970.2 L2199.0 973.7 L2197.0 973.7 L2197.0 972.3 L2194.0 972.3 L2194.0 972.0 L2192.0 972.0 L2192.0 970.1 L2190.5 970.1 L2190.5 972.1 L2187.5 972.1 L2187.5 971.1 L2184.5 971.1 L2184.5 971.1 L2181.0 971.1 L2181.0 970.9 L2178.0 970.9 L2178.0 973.7 L2176.5 973.7 L2176.5 973.4 L2173.5 973.4 L2173.5 973.0 L2171.5 973.0 L2171.5 969.7 L2168.5 969.7 L2168.5 970.2 L2166.5 970.2 L2166.5 970.1 L2163.5 970.1 L2163.5 971.2 L2162.0 971.2 L2162.0 971.5 L2158.5 971.5 L2158.5 969.3 L2156.0 969.3 L2156.0 970.0 L2154.0 970.0 L2154.0 966.6 L2150.5 966.6 L2150.5 966.6 L2148.0 966.6 L2148.0 966.8 L2145.5 966.8 L2145.5 966.8 L2143.0 966.8 L2143.0 965.0 L2140.5 965.0 L2140.5 968.2 L2139.0 968.2 L2139.0 964.1 L2137.0 964.1 L2137.0 964.7 L2135.0 964.7 L2135.0 963.7 L2133.0 963.7 L2133.0 963.3 L2130.5 963.3 L2130.5 965.6 L2127.0 965.6 L2127.0 964.0 L2123.5 964.0 L2123.5 967.5 L2120.5 967.5 L2120.5 965.1 L2118.0 965.1 L2118.0 966.1 L2116.0 966.1 L2116.0 967.7 L2114.0 967.7 L2114.0 968.4 L2111.5 968.4 L2111.5 966.8 L2108.5 966.8 L2108.5 968.3 L2107.0 968.3 L2107.0 966.5 L2104.5 966.5 L2104.5 967.4 L2102.0 967.4 L2102.0 970.1 L2099.0 970.1 L2099.0 969.2 L2096.0 969.2 L2096.0 967.2 L2092.5 967.2 L2092.5 969.8 L2090.5 969.8 L2090.5 966.5 L2088.0 966.5 L2088.0 967.2 L2085.5 967.2 L2085.5 969.0 L2083.5 969.0 L2083.5 967.3 L2081.5 967.3 L2081.5 968.8 L2079.5 968.8 L2079.5 966.5 L2077.5 966.5 L2077.5 970.5 L2076.0 970.5 L2076.0 966.8 L2074.5 966.8 L2074.5 965.0 L2071.0 965.0 L2071.0 966.1 L2068.5 966.1 L2068.5 965.5 L2066.0 965.5 L2066.0 964.7 L2064.0 964.7 L2064.0 966.3 L2061.5 966.3 L2061.5 965.0 L2058.5 965.0 L2058.5 964.3 L2055.0 964.3 L2055.0 964.8 L2052.5 964.8 L2052.5 963.0 L2050.5 963.0 L2050.5 962.2 L2049.0 962.2 L2049.0 964.8 L2047.5 964.8 L2047.5 960.9 L2046.0 960.9 L2046.0 964.8 L2043.5 964.8 L2043.5 964.6 L2041.5 964.6 L2041.5 962.4 L2038.5 962.4 L2038.5 963.9 L2037.0 963.9 L2037.0 962.4 L2035.5 962.4 L2035.5 962.5 L2032.0 962.5 L2032.0 962.9 L2029.0 962.9 L2029.0 964.8 L2027.0 964.8 L2027.0 965.6 L2023.5 965.6 L2023.5 965.5 L2021.0 965.5 L2021.0 969.3 L2019.5 969.3 L2019.5 965.0 L2018.0 965.0 L2018.0 964.2 L2016.5 964.2 L2016.5 966.3 L2014.5 966.3 L2014.5 966.2 L2012.0 966.2 L2012.0 962.7 L2010.0 962.7 L2010.0 964.4 L2007.0 964.4 L2007.0 961.7 L2005.0 961.7 L2005.0 961.3 L2003.0 961.3 L2003.0 964.8 L2001.0 964.8 L2001.0 962.1 L1999.0 962.1 L1999.0 962.4 L1996.5 962.4 L1996.5 962.2 L1995.0 962.2 L1995.0 960.3 L1993.0 960.3 L1993.0 962.7 L1990.5 962.7 L1990.5 962.8 L1988.0 962.8 L1988.0 960.1 L1985.5 960.1 L1985.5 961.9 L1982.5 961.9 L1982.5 961.2 L1981.0 961.2 L1981.0 962.4 L1977.5 962.4 L1977.5 962.5 L1976.0 962.5 L1976.0 961.2 L1974.5 961.2 L1974.5 960.9 L1972.0 960.9 L1972.0 961.0 L1969.0 961.0 L1969.0 961.9 L1966.0 961.9 L1966.0 960.9 L1964.5 960.9 L1964.5 962.7 L1961.0 962.7 L1961.0 959.9 L1957.5 959.9 L1957.5 960.4 L1954.5 960.4 L1954.5 962.5 L1952.5 962.5 L1952.5 960.7 L1951.0 960.7 L1951.0 961.6 L1948.0 961.6 L1948.0 960.8 L1946.0 960.8 L1946.0 962.1 L1944.0 962.1 L1944.0 962.2 L1942.5 962.2 L1942.5 962.9 L1939.0 962.9 L1939.0 961.8 L1936.0 961.8 L1936.0 960.6 L1933.5 960.6 L1933.5 959.7 L1932.0 959.7 L1932.0 961.9 L1930.0 961.9 L1930.0 962.2 L1928.0 962.2 L1928.0 960.0 L1926.5 960.0 L1926.5 960.1 L1924.5 960.1 L1924.5 962.3 L1923.0 962.3 L1923.0 960.1 L1920.5 960.1 L1920.5 961.3 L1917.0 961.3 L1917.0 962.0 L1915.0 962.0 L1915.0 958.1 L1912.5 958.1 L1912.5 960.1 L1909.0 960.1 L1909.0 959.2 L1907.5 959.2 L1907.5 958.1 L1906.0 958.1 L1906.0 958.6 L1902.5 958.6 L1902.5 957.8 L1901.0 957.8 L1901.0 960.4 L1899.5 960.4 L1899.5 959.7 L1897.0 959.7 L1897.0 957.5 L1895.0 957.5 L1895.0 960.5 L1892.5 960.5 L1892.5 960.7 L1891.0 960.7 L1891.0 959.0 L1889.0 959.0 L1889.0 958.9 L1886.5 958.9 L1886.5 958.1 L1883.5 958.1 L1883.5 960.2 L1880.0 960.2 L1880.0 960.4 L1878.5 960.4 L1878.5 959.0 L1877.0 959.0 L1877.0 960.5 L1875.5 960.5 L1875.5 960.4 L1874.0 960.4 L1874.0 958.3 L1870.5 958.3 L1870.5 960.3 L1868.5 960.3 L1868.5 961.7 L1866.0 961.7 L1866.0 960.9 L1863.5 960.9 L1863.5 960.4 L1860.5 960.4 L1860.5 962.0 L1859.0 962.0 L1859.0 960.9 L1857.5 960.9 L1857.5 960.7 L1856.0 960.7 L1856.0 960.9 L1852.5 960.9 L1852.5 959.2 L1849.0 959.2 L1849.0 959.1 L1847.0 959.1 L1847.0 960.4 L1845.5 960.4 L1845.5 960.0 L1843.0 960.0 L1843.0 958.9 L1839.5 958.9 L1839.5 961.9 L1837.5 961.9 L1837.5 958.3 L1835.0 958.3 L1835.0 961.8 L1831.5 961.8 L1831.5 960.5 L1828.5 960.5 L1828.5 959.4 L1826.0 959.4 L1826.0 961.3 L1823.0 961.3 L1823.0 960.1 L1821.0 960.1 L1821.0 958.4 L1818.5 958.4 L1818.5 959.3 L1816.5 959.3 L1816.5 962.1 L1813.0 962.1 L1813.0 961.5 L1810.0 961.5 L1810.0 961.0 L1808.5 961.0 L1808.5 962.0 L1807.0 962.0 L1807.0 962.0 L1805.0 962.0 L1805.0 962.0 L1802.0 962.0 L1802.0 960.4 L1800.0 960.4 L1800.0 961.0 L1798.5 961.0 L1798.5 958.0 L1796.5 958.0 L1796.5 959.9 L1793.0 959.9 L1793.0 960.3 L1790.5 960.3 L1790.5 957.3 L1789.0 957.3 L1789.0 960.1 L1787.0 960.1 L1787.0 959.1 L1784.5 959.1 L1784.5 959.9 L1781.0 959.9 L1781.0 958.3 L1779.0 958.3 L1779.0 956.2 L1776.0 956.2 L1776.0 955.8 L1774.5 955.8 L1774.5 959.9 L1773.0 959.9 L1773.0 957.3 L1771.5 957.3 L1771.5 957.5 L1768.0 957.5 L1768.0 956.0 L1766.5 956.0 L1766.5 954.0 L1765.0 954.0 L1765.0 956.7 L1761.5 956.7 L1761.5 956.3 L1759.5 956.3 L1759.5 954.8 L1758.0 954.8 L1758.0 957.3 L1755.0 957.3 L1755.0 954.7 L1752.5 954.7 L1752.5 957.4 L1749.0 957.4 L1749.0 958.2 L1747.0 958.2 L1747.0 956.9 L1745.5 956.9 L1745.5 958.6 L1743.5 958.6 L1743.5 956.6 L1742.0 956.6 L1742.0 958.3 L1740.0 958.3 L1740.0 957.3 L1738.5 957.3 L1738.5 958.5 L1736.5 958.5 L1736.5 957.1 L1733.5 957.1 L1733.5 956.4 L1730.5 956.4 L1730.5 956.2 L1728.5 956.2 L1728.5 956.3 L1727.0 956.3 L1727.0 955.4 L1724.0 955.4 L1724.0 953.4 L1721.0 953.4 L1721.0 954.3 L1717.5 954.3 L1717.5 951.5 L1715.0 951.5 L1715.0 949.6 L1713.0 949.6 L1713.0 951.0 L1710.0 951.0 L1710.0 949.9 L1707.5 949.9 L1707.5 950.1 L1704.0 950.1 L1704.0 949.3 L1702.5 949.3 L1702.5 949.1 L1699.0 949.1 L1699.0 947.0 L1697.0 947.0 L1697.0 949.3 L1695.0 949.3 L1695.0 948.7 L1692.0 948.7 L1692.0 948.9 L1689.5 948.9 L1689.5 948.4 L1688.0 948.4 L1688.0 945.1 L1685.0 945.1 L1685.0 946.1 L1683.5 946.1 L1683.5 947.9 L1680.5 947.9 L1680.5 948.2 L1679.0 948.2 L1679.0 948.0 L1676.5 948.0 L1676.5 946.5 L1675.0 946.5 L1675.0 948.6 L1673.5 948.6 L1673.5 948.4 L1671.5 948.4 L1671.5 947.2 L1669.0 947.2 L1669.0 948.5 L1667.0 948.5 L1667.0 947.0 L1663.5 947.0 L1663.5 947.3 L1661.5 947.3 L1661.5 948.2 L1658.0 948.2 L1658.0 947.9 L1655.5 947.9 L1655.5 947.7 L1653.5 947.7 L1653.5 946.2 L1652.0 946.2 L1652.0 944.5 L1650.0 944.5 L1650.0 944.4 L1648.0 944.4 L1648.0 945.4 L1644.5 945.4 L1644.5 945.5 L1641.5 945.5 L1641.5 945.5 L1639.0 945.5 L1639.0 945.8 L1637.5 945.8 L1637.5 943.2 L1634.5 943.2 L1634.5 943.5 L1631.5 943.5 L1631.5 944.5 L1629.0 944.5 L1629.0 942.7 L1626.0 942.7 L1626.0 941.1 L1624.0 941.1 L1624.0 942.7 L1620.5 942.7 L1620.5 941.4 L1618.5 941.4 L1618.5 941.2 L1616.5 941.2 L1616.5 944.2 L1614.0 944.2 L1614.0 942.2 L1612.5 942.2 L1612.5 940.5 L1611.0 940.5 L1611.0 942.7 L1608.0 942.7 L1608.0 941.4 L1605.0 941.4 L1605.0 942.1 L1603.5 942.1 L1603.5 943.7 L1602.0 943.7 L1602.0 940.4 L1599.5 940.4 L1599.5 944.2 L1596.0 944.2 L1596.0 941.5 L1594.0 941.5 L1594.0 941.4 L1590.5 941.4 L1590.5 943.4 L1589.0 943.4 L1589.0 942.7 L1586.0 942.7 L1586.0 943.8 L1583.0 943.8 L1583.0 943.3 L1581.5 943.3 L1581.5 942.3 L1579.5 942.3 L1579.5 940.9 L1577.5 940.9 L1577.5 943.4 L1575.0 943.4 L1575.0 942.0 L1571.5 942.0 L1571.5 943.7 L1570.0 943.7 L1570.0 943.9 L1568.5 943.9 L1568.5 940.6 L1566.0 940.6 L1566.0 942.1 L1564.0 942.1 L1564.0 941.3 L1561.5 941.3 L1561.5 941.3 L1559.0 941.3 L1559.0 942.7 L1557.5 942.7 L1557.5 940.2 L1555.0 940.2 L1555.0 942.8 L1552.0 942.8 L1552.0 939.6 L1548.5 939.6 L1548.5 943.0 L1546.0 943.0 L1546.0 940.4 L1543.5 940.4 L1543.5 941.0 L1542.0 941.0 L1542.0 939.9 L1540.5 939.9 L1540.5 940.8 L1537.5 940.8 L1537.5 939.7 L1536.0 939.7 L1536.0 941.9 L1532.5 941.9 L1532.5 939.5 L1530.5 939.5 L1530.5 941.4 L1528.5 941.4 L1528.5 939.9 L1525.0 939.9 L1525.0 938.4 L1522.5 938.4 L1522.5 939.5 L1520.0 939.5 L1520.0 940.6 L1518.5 940.6 L1518.5 939.1 L1515.0 939.1 L1515.0 941.3 L1512.5 941.3 L1512.5 941.5 L1510.0 941.5 L1510.0 938.8 L1506.5 938.8 L1506.5 940.3 L1504.5 940.3 L1504.5 938.1 L1503.0 938.1 L1503.0 938.3 L1501.0 938.3 L1501.0 940.6 L1499.5 940.6 L1499.5 940.7 L1497.5 940.7 L1497.5 940.1 L1495.0 940.1 L1495.0 939.2 L1492.0 939.2 L1492.0 939.8 L1489.0 939.8 L1489.0 937.2 L1485.5 937.2 L1485.5 939.5 L1483.0 939.5 L1483.0 939.9 L1481.0 939.9 L1481.0 938.9 L1477.5 938.9 L1477.5 937.4 L1475.0 937.4 L1475.0 936.6 L1473.0 936.6 L1473.0 936.4 L1470.0 936.4 L1470.0 939.4 L1466.5 939.4 L1466.5 937.7 L1465.0 937.7 L1465.0 941.9 L1463.5 941.9 L1463.5 938.8 L1462.0 938.8 L1462.0 938.6 L1459.0 938.6 L1459.0 936.0 L1456.5 936.0 L1456.5 935.5 L1453.0 935.5 L1453.0 936.4 L1450.5 936.4 L1450.5 934.0 L1447.5 934.0 L1447.5 936.0 L1444.0 936.0 L1444.0 935.6 L1441.5 935.6 L1441.5 936.2 L1440.0 936.2 L1440.0 937.4 L1438.5 937.4 L1438.5 935.1 L1435.0 935.1 L1435.0 933.5 L1432.5 933.5 L1432.5 934.7 L1429.0 934.7 L1429.0 931.7 L1427.0 931.7 L1427.0 931.9 L1424.5 931.9 L1424.5 933.6 L1421.5 933.6 L1421.5 930.9 L1420.0 930.9 L1420.0 932.5 L1417.0 932.5 L1417.0 930.3 L1414.5 930.3 L1414.5 929.4 L1411.0 929.4 L1411.0 930.4 L1409.5 930.4 L1409.5 929.4 L1406.5 929.4 L1406.5 930.2 L1403.5 930.2 L1403.5 932.1 L1402.0 932.1 L1402.0 934.1 L1400.5 934.1 L1400.5 930.6 L1398.0 930.6 L1398.0 928.6 L1396.5 928.6 L1396.5 930.8 L1394.0 930.8 L1394.0 928.9 L1392.5 928.9 L1392.5 930.7 L1390.5 930.7 L1390.5 927.7 L1388.5 927.7 L1388.5 929.7 L1386.0 929.7 L1386.0 930.4 L1384.5 930.4 L1384.5 928.9 L1381.0 928.9 L1381.0 927.3 L1377.5 927.3 L1377.5 927.0 L1374.0 927.0 L1374.0 930.2 L1371.5 930.2 L1371.5 927.8 L1369.5 927.8 L1369.5 929.7 L1366.5 929.7 L1366.5 929.5 L1364.0 929.5 L1364.0 930.6 L1361.5 930.6 L1361.5 931.1 L1359.5 931.1 L1359.5 930.8 L1358.0 930.8 L1358.0 930.0 L1355.0 930.0 L1355.0 931.3 L1353.5 931.3 L1353.5 931.1 L1351.0 931.1 L1351.0 929.3 L1349.0 929.3 L1349.0 931.8 L1347.0 931.8 L1347.0 931.8 L1345.0 931.8 L1345.0 929.4 L1342.0 929.4 L1342.0 933.4 L1339.5 933.4 L1339.5 932.4 L1336.5 932.4 L1336.5 933.6 L1334.5 933.6 L1334.5 930.8 L1333.0 930.8 L1333.0 931.1 L1331.0 931.1 L1331.0 934.1 L1327.5 934.1 L1327.5 932.6 L1325.5 932.6 L1325.5 932.2 L1324.0 932.2 L1324.0 934.3 L1320.5 934.3 L1320.5 936.6 L1318.0 936.6 L1318.0 935.9 L1316.5 935.9 L1316.5 934.1 L1313.0 934.1 L1313.0 934.1 L1311.5 934.1 L1311.5 936.0 L1308.0 936.0 L1308.0 938.0 L1306.0 938.0 L1306.0 935.8 L1304.0 935.8 L1304.0 935.2 L1300.5 935.2 L1300.5 937.3 L1298.0 937.3 L1298.0 936.9 L1295.0 936.9 L1295.0 939.4 L1293.5 939.4 L1293.5 937.0 L1290.5 937.0 L1290.5 937.1 L1289.0 937.1 L1289.0 937.2 L1287.0 937.2 L1287.0 939.0 L1283.5 939.0 L1283.5 938.2 L1280.5 938.2 L1280.5 935.7 L1279.0 935.7 L1279.0 937.9 L1277.0 937.9 L1277.0 935.8 L1274.0 935.8 L1274.0 938.6 L1271.5 938.6 L1271.5 936.1 L1269.0 936.1 L1269.0 937.2 L1266.0 937.2 L1266.0 935.4 L1263.5 935.4 L1263.5 936.0 L1261.0 936.0 L1261.0 937.5 L1257.5 937.5 L1257.5 937.4 L1255.5 937.4 L1255.5 935.8 L1254.0 935.8 L1254.0 937.4 L1251.5 937.4 L1251.5 935.7 L1250.0 935.7 L1250.0 935.0 L1247.5 935.0 L1247.5 936.9 L1244.0 936.9 L1244.0 937.5 L1242.5 937.5 L1242.5 935.5 L1239.5 935.5 L1239.5 938.0 L1237.5 938.0 L1237.5 938.0 L1234.0 938.0 L1234.0 936.1 L1231.0 936.1 L1231.0 937.1 L1229.0 937.1 L1229.0 939.4 L1227.0 939.4 L1227.0 937.1 L1224.5 937.1 L1224.5 938.8 L1221.0 938.8 L1221.0 939.6 L1219.0 939.6 L1219.0 939.5 L1217.0 939.5 L1217.0 940.0 L1215.5 940.0 L1215.5 939.1 L1212.5 939.1 L1212.5 937.4 L1209.5 937.4 L1209.5 939.8 L1207.5 939.8 L1207.5 938.8 L1205.5 938.8 L1205.5 937.5 L1203.5 937.5 L1203.5 940.3 L1201.0 940.3 L1201.0 939.3 L1199.0 939.3 L1199.0 942.7 L1197.5 942.7 L1197.5 941.1 L1195.5 941.1 L1195.5 941.3 L1192.5 941.3 L1192.5 941.7 L1190.5 941.7 L1190.5 940.0 L1187.5 940.0 L1187.5 941.8 L1185.5 941.8 L1185.5 942.0 L1183.5 942.0 L1183.5 942.4 L1180.0 942.4 L1180.0 944.0 L1178.5 944.0 L1178.5 941.4 L1176.5 941.4 L1176.5 941.2 L1174.5 941.2 L1174.5 942.6 L1171.5 942.6 L1171.5 941.0 L1170.0 941.0 L1170.0 941.5 L1166.5 941.5 L1166.5 944.2 L1164.5 944.2 L1164.5 943.7 L1161.5 943.7 L1161.5 944.1 L1159.0 944.1 L1159.0 943.1 L1156.5 943.1 L1156.5 947.4 L1154.5 947.4 L1154.5 945.0 L1152.0 945.0 L1152.0 948.4 L1150.5 948.4 L1150.5 946.3 L1147.0 946.3 L1147.0 948.7 L1145.5 948.7 L1145.5 950.0 L1143.5 950.0 L1143.5 950.0 L1141.5 950.0 L1141.5 953.4 L1140.0 953.4 L1140.0 949.6 L1137.0 949.6 L1137.0 952.2 L1134.5 952.2 L1134.5 953.1 L1131.5 953.1 L1131.5 953.8 L1130.0 953.8 L1130.0 953.0 L1127.0 953.0 L1127.0 951.6 L1124.0 951.6 L1124.0 953.6 L1121.0 953.6 L1121.0 951.2 L1119.5 951.2 L1119.5 954.4 L1116.5 954.4 L1116.5 952.0 L1113.5 952.0 L1113.5 953.9 L1111.0 953.9 L1111.0 951.8 L1107.5 951.8 L1107.5 950.7 L1104.0 950.7 L1104.0 951.5 L1101.5 951.5 L1101.5 951.7 L1098.5 951.7 L1098.5 952.7 L1097.0 952.7 L1097.0 952.7 L1095.5 952.7 L1095.5 952.2 L1093.0 952.2 L1093.0 950.4 L1091.5 950.4 L1091.5 949.9 L1088.5 949.9 L1088.5 950.5 L1086.0 950.5 L1086.0 950.6 L1084.0 950.6 L1084.0 951.6 L1082.5 951.6 L1082.5 950.2 L1079.5 950.2 L1079.5 950.8 L1076.0 950.8 L1076.0 951.5 L1073.5 951.5 L1073.5 950.3 L1070.0 950.3 L1070.0 952.7 L1067.0 952.7 L1067.0 952.7 L1064.0 952.7 L1064.0 951.2 L1062.5 951.2 L1062.5 952.3 L1059.0 952.3 L1059.0 951.8 L1056.5 951.8 L1056.5 951.0 L1053.5 951.0 L1053.5 951.9 L1052.0 951.9 L1052.0 953.2 L1050.0 953.2 L1050.0 951.4 L1048.0 951.4 L1048.0 954.1 L1046.0 954.1 L1046.0 952.4 L1042.5 952.4 L1042.5 955.1 L1040.5 955.1 L1040.5 953.3 L1038.0 953.3 L1038.0 954.8 L1035.5 954.8 L1035.5 954.9 L1033.5 954.9 L1033.5 951.5 L1031.0 951.5 L1031.0 952.2 L1027.5 952.2 L1027.5 952.6 L1024.5 952.6 L1024.5 952.1 L1021.5 952.1 L1021.5 953.2 L1018.5 953.2 L1018.5 950.9 L1015.0 950.9 L1015.0 952.4 L1012.0 952.4 L1012.0 951.4 L1010.5 951.4 L1010.5 952.9 L1009.0 952.9 L1009.0 952.5 L1007.0 952.5 L1007.0 951.5 L1004.5 951.5 L1004.5 949.3 L1003.0 949.3 L1003.0 951.4 L1000.0 951.4 L1000.0 948.8 L997.0 948.8 L997.0 948.3 L994.5 948.3 L994.5 950.1 L991.5 950.1 L991.5 946.7 L988.0 946.7 L988.0 947.8 L985.5 947.8 L985.5 949.3 L982.0 949.3 L982.0 946.7 L980.5 946.7 L980.5 946.3 L978.5 946.3 L978.5 949.5 L976.5 949.5 L976.5 948.3 L975.0 948.3 L975.0 949.2 L973.5 949.2 L973.5 949.9 L971.5 949.9 L971.5 948.4 L970.0 948.4 L970.0 952.0 L967.0 952.0 L967.0 952.0 L965.5 952.0 L965.5 948.9 L964.0 948.9 L964.0 951.3 L962.0 951.3 L962.0 949.4 L960.5 949.4 L960.5 951.9 L959.0 951.9 L959.0 953.4 L956.0 953.4 L956.0 951.6 L953.0 951.6 L953.0 952.4 L951.0 952.4 L951.0 952.7 L949.0 952.7 L949.0 958.5 L947.5 958.5 L947.5 953.8 L945.0 953.8 L945.0 953.0 L943.0 953.0 L943.0 954.6 L941.5 954.6 L941.5 955.1 L939.5 955.1 L939.5 952.7 L936.5 952.7 L936.5 954.9 L934.0 954.9 L934.0 956.0 L931.0 956.0 L931.0 953.9 L928.5 953.9 L928.5 956.9 L926.0 956.9 L926.0 956.5 L922.5 956.5 L922.5 957.2 L920.0 957.2 L920.0 957.0 L917.5 957.0 L917.5 955.2 L914.5 955.2 L914.5 954.7 L912.5 954.7 L912.5 958.4 L909.5 958.4 L909.5 955.3 L907.0 955.3 L907.0 958.5 L905.5 958.5 L905.5 955.9 L904.0 955.9 L904.0 957.6 L901.0 957.6 L901.0 958.5 L899.0 958.5 L899.0 958.0 L897.0 958.0 L897.0 958.7 L895.0 958.7 L895.0 960.5 L893.0 960.5 L893.0 958.2 L891.0 958.2 L891.0 959.5 L887.5 959.5 L887.5 960.4 L886.0 960.4 L886.0 961.2 L883.0 961.2 L883.0 959.2 L880.5 959.2 L880.5 962.0 L879.0 962.0 L879.0 960.6 L876.5 960.6 L876.5 963.4 L873.0 963.4 L873.0 963.0 L871.5 963.0 L871.5 961.3 L868.0 961.3 L868.0 963.0 L864.5 963.0 L864.5 964.7 L861.0 964.7 L861.0 963.3 L858.5 963.3 L858.5 965.1 L855.0 965.1 L855.0 965.1 L853.5 965.1 L853.5 964.3 L852.0 964.3 L852.0 965.2 L849.5 965.2 L849.5 966.9 L846.5 966.9 L846.5 968.0 L843.5 968.0 L843.5 964.8 L842.0 964.8 L842.0 965.5 L839.5 965.5 L839.5 967.8 L838.0 967.8 L838.0 966.9 L836.0 966.9 L836.0 968.5 L834.5 968.5 L834.5 967.4 L832.5 967.4 L832.5 968.2 L829.0 968.2 L829.0 969.8 L827.0 969.8 L827.0 968.5 L825.5 968.5 L825.5 969.4 L822.0 969.4 L822.0 970.3 L820.5 970.3 L820.5 970.1 L818.0 970.1 L818.0 971.8 L815.5 971.8 L815.5 971.5 L812.5 971.5 L812.5 973.7 L809.5 973.7 L809.5 975.3 L807.0 975.3 L807.0 974.1 L805.5 974.1 L805.5 972.4 L803.0 972.4 L803.0 975.0 L799.5 975.0 L799.5 974.7 L797.5 974.7 L797.5 977.8 L795.0 977.8 L795.0 976.6 L792.0 976.6 L792.0 975.7 L790.0 975.7 L790.0 980.3 L788.0 980.3 L788.0 978.6 L784.5 978.6 L784.5 981.6 L782.0 981.6 L782.0 980.2 L779.0 980.2 L779.0 981.0 L777.0 981.0 L777.0 983.2 L774.5 983.2 L774.5 983.7 L772.5 983.7 L772.5 984.8 L770.0 984.8 L770.0 985.1 L766.5 985.1 L766.5 986.8 L765.0 986.8 L765.0 987.4 L763.5 987.4 L763.5 988.3 L760.0 988.3 L760.0 986.8 L757.5 986.8 L757.5 987.3 L754.5 987.3 L754.5 989.9 L752.5 989.9 L752.5 991.2 L749.5 991.2 L749.5 989.7 L746.5 989.7 L746.5 990.2 L744.0 990.2 L744.0 990.8 L741.0 990.8 L741.0 990.8 L739.5 990.8 L739.5 993.9 L737.0 993.9 L737.0 992.2 L735.5 992.2 L735.5 994.6 L733.5 994.6 L733.5 994.3 L731.5 994.3 L731.5 993.6 L728.0 993.6 L728.0 995.1 L726.0 995.1 L726.0 996.2 L724.5 996.2 L724.5 995.2 L722.5 995.2 L722.5 999.8 L721.0 999.8 L721.0 996.2 L718.5 996.2 L718.5 997.9 L715.5 997.9 L715.5 997.3 L713.5 997.3 L713.5 995.7 L712.0 995.7 L712.0 996.4 L709.0 996.4 L709.0 996.6 L706.0 996.6 L706.0 998.0 L704.0 998.0 L704.0 1000.7 L701.5 1000.7 L701.5 999.4 L698.0 999.4 L698.0 1000.2 L695.5 1000.2 L695.5 998.9 L693.0 998.9 L693.0 999.8 L691.5 999.8 L691.5 999.3 L689.0 999.3 L689.0 996.3 L686.5 996.3 L686.5 997.4 L684.5 997.4 L684.5 998.3 L681.5 998.3 L681.5 995.5 L678.5 995.5 L678.5 996.8 L677.0 996.8 L677.0 994.6 L674.0 994.6 L674.0 994.9 L672.0 994.9 L672.0 995.4 L670.0 995.4 L670.0 995.0 L667.0 995.0 L667.0 992.8 L663.5 992.8 L663.5 994.6 L662.0 994.6 L662.0 995.9 L660.0 995.9 L660.0 996.1 L657.0 996.1 L657.0 998.3 L653.5 998.3 L653.5 998.4 L650.0 998.4 L650.0 998.3 L647.0 998.3 L647.0 999.1 L645.5 999.1 L645.5 999.8 L644.0 999.8 L644.0 1003.5 L642.0 1003.5 L642.0 1002.2 L639.0 1002.2 L639.0 1003.3 L636.0 1003.3 L636.0 1004.4 L632.5 1004.4 L632.5 1006.6 L629.5 1006.6 L629.5 1007.9 L628.0 1007.9 L628.0 1008.6 L625.5 1008.6 L625.5 1007.8 L623.0 1007.8 L623.0 1008.9 L620.5 1008.9 L620.5 1010.1 L619.0 1010.1 L619.0 1011.8 L616.0 1011.8 L616.0 1012.5 L612.5 1012.5 L612.5 1011.2 L609.0 1011.2 L609.0 1014.7 L606.5 1014.7 L606.5 1014.6 L604.0 1014.6 L604.0 1020.2 L602.0 1020.2 L602.0 1021.8 L600.5 1021.8 L600.5 1021.5 L599.0 1021.5 L599.0 1023.3 L595.5 1023.3 L595.5 1030.1 L594.0 1030.1 L594.0 1028.5 L592.5 1028.5 L592.5 1029.7 L589.5 1029.7 L589.5 1030.8 L587.5 1030.8 L587.5 1030.4 L585.0 1030.4 L585.0 1029.7 L582.0 1029.7 L582.0 1031.6 L579.0 1031.6 L579.0 1028.2 L577.5 1028.2 L577.5 1031.4 L575.0 1031.4 L575.0 1029.5 L573.0 1029.5 L573.0 1030.6 L571.0 1030.6 L571.0 1031.6 L568.5 1031.6 L568.5 1029.7 L566.5 1029.7 L566.5 1033.5 L563.0 1033.5 L563.0 1032.2 L561.0 1032.2 L561.0 1031.6 L559.5 1031.6 L559.5 1034.7 L557.0 1034.7 L557.0 1035.4 L554.5 1035.4 L554.5 1033.7 L552.0 1033.7 L552.0 1036.4 L549.0 1036.4 L549.0 1036.5 L545.5 1036.5 L545.5 1037.2 L542.5 1037.2 L542.5 1039.9 L541.0 1039.9 L541.0 1039.7 L538.5 1039.7 L538.5 1042.0 L536.0 1042.0 L536.0 1043.3 L533.5 1043.3 L533.5 1044.0 L531.0 1044.0 L531.0 1046.0 L528.5 1046.0 L528.5 1045.6 L526.5 1045.6 L526.5 1049.7 L523.5 1049.7 L523.5 1050.4 L521.5 1050.4 L521.5 1050.7 L520.0 1050.7 L520.0 1051.9 L518.0 1051.9 L518.0 1053.7 L515.5 1053.7 L515.5 1055.4 L512.0 1055.4 L512.0 1055.6 L509.0 1055.6 L509.0 1058.8 L507.0 1058.8 L507.0 1058.0 L505.5 1058.0 L505.5 1058.7 L504.0 1058.7 L504.0 1061.3 L502.0 1061.3 L502.0 1061.8 L498.5 1061.8 L498.5 1064.3 L496.5 1064.3 L496.5 1065.3 L494.5 1065.3 L494.5 1066.8 L491.5 1066.8 L491.5 1069.7 L488.5 1069.7 L488.5 1068.2 L487.0 1068.2 L487.0 1071.1 L483.5 1071.1 L483.5 1070.5 L482.0 1070.5 L482.0 1070.5 L479.5 1070.5 L479.5 1073.3 L477.5 1073.3 L477.5 1074.1 L474.0 1074.1 L474.0 1076.4 L471.5 1076.4 L471.5 1074.1 L470.0 1074.1 L470.0 1077.2 L467.0 1077.2 L467.0 1078.5 L464.0 1078.5 L464.0 1078.9 L462.0 1078.9 L462.0 1078.9 L458.5 1078.9 L458.5 1079.4 L456.0 1079.4 L456.0 1082.0 L454.5 1082.0 L454.5 1083.0 L452.5 1083.0 L452.5 1081.5 L450.0 1081.5 L450.0 1085.6 L447.5 1085.6 L447.5 1086.0 L444.5 1086.0 L444.5 1092.2 L442.0 1092.2 L442.0 1094.5 L439.5 1094.5 L439.5 1098.4 L437.5 1098.4 L437.5 1101.0 L434.5 1101.0 L434.5 1102.9 L431.5 1102.9 L431.5 1105.6 L430.0 1105.6 L430.0 1106.9 L427.5 1106.9 L427.5 1111.3 L424.0 1111.3 L424.0 1111.6 L422.0 1111.6 L422.0 1113.1 L420.0 1113.1 L419.9 1112.5 L407.0 1148.6 L394.0 1215.6 L388.0 1250.0 L377.0 1320.0 L360.0 1440.0 L352.8 1535.0 L352.8 1698.0Z" fill="#00ff00"/>
<path d="M345.6 1231.0 L363.2 1233.6 L381.2 1213.0 L387.0 1210.0 L400.0 1195.3 L403.0 1195.3 L403.0 1197.1 L405.5 1197.1 L405.5 1193.9 L407.5 1193.9 L407.5 1191.1 L409.5 1191.1 L409.5 1193.5 L411.5 1193.5 L411.5 1191.3 L413.0 1191.3 L413.0 1187.8 L415.0 1187.8 L415.0 1185.0 L418.5 1185.0 L418.5 1187.0 L421.5 1187.0 L421.5 1184.0 L425.0 1184.0 L425.0 1179.3 L428.0 1179.3 L428.0 1177.8 L431.5 1177.8 L431.5 1179.1 L433.5 1179.1 L433.5 1174.2 L436.5 1174.2 L436.5 1171.2 L439.0 1171.2 L439.0 1169.7 L440.5 1169.7 L440.5 1170.5 L442.0 1170.5 L442.0 1170.0 L445.0 1170.0 L445.0 1162.6 L448.5 1162.6 L448.5 1157.2 L451.5 1157.2 L451.5 1149.7 L455.0 1149.7 L455.0 1145.2 L456.5 1145.2 L456.5 1142.0 L458.0 1142.0 L458.0 1136.6 L461.0 1136.6 L461.0 1131.4 L464.0 1131.4 L464.0 1126.5 L467.5 1126.5 L467.5 1122.8 L470.5 1122.8 L470.5 1123.3 L473.5 1123.3 L473.5 1119.2 L475.5 1119.2 L475.5 1119.7 L477.0 1119.7 L477.0 1116.6 L479.5 1116.6 L479.5 1115.5 L482.0 1115.5 L482.0 1116.5 L484.5 1116.5 L484.5 1114.5 L488.0 1114.5 L488.0 1113.2 L489.5 1113.2 L489.5 1115.6 L491.0 1115.6 L491.0 1115.0 L494.0 1115.0 L494.0 1114.1 L495.5 1114.1 L495.5 1113.0 L498.0 1113.0 L498.0 1108.0 L500.5 1108.0 L500.5 1107.0 L504.0 1107.0 L504.0 1103.6 L506.5 1103.6 L506.5 1098.1 L510.0 1098.1 L510.0 1100.7 L512.5 1100.7 L512.5 1095.3 L515.5 1095.3 L515.5 1097.8 L517.0 1097.8 L517.0 1094.2 L519.5 1094.2 L519.5 1092.1 L522.0 1092.1 L522.0 1093.4 L523.5 1093.4 L523.5 1090.4 L525.0 1090.4 L525.0 1084.3 L527.0 1084.3 L527.0 1082.7 L530.0 1082.7 L530.0 1080.0 L532.0 1080.0 L532.0 1075.0 L533.5 1075.0 L533.5 1072.5 L535.0 1072.5 L535.0 1070.6 L537.0 1070.6 L537.0 1068.2 L539.0 1068.2 L539.0 1066.2 L541.0 1066.2 L541.0 1062.5 L544.0 1062.5 L544.0 1057.9 L547.0 1057.9 L547.0 1056.0 L549.0 1056.0 L549.0 1057.4 L551.5 1057.4 L551.5 1055.8 L554.5 1055.8 L554.5 1056.1 L556.0 1056.1 L556.0 1051.3 L559.5 1051.3 L559.5 1053.2 L561.0 1053.2 L561.0 1051.8 L564.0 1051.8 L564.0 1053.0 L565.5 1053.0 L565.5 1050.2 L567.5 1050.2 L567.5 1043.3 L569.0 1043.3 L569.0 1050.7 L572.5 1050.7 L572.5 1047.3 L575.0 1047.3 L575.0 1046.8 L578.5 1046.8 L578.5 1049.3 L581.0 1049.3 L581.0 1045.0 L584.5 1045.0 L584.5 1045.2 L586.5 1045.2 L586.5 1047.6 L590.0 1047.6 L590.0 1044.7 L592.5 1044.7 L592.5 1045.6 L595.0 1045.6 L595.0 1042.4 L598.5 1042.4 L598.5 1038.9 L601.0 1038.9 L601.0 1036.0 L604.0 1036.0 L604.0 1030.6 L606.0 1030.6 L606.0 1030.1 L609.0 1030.1 L609.0 1021.2 L610.5 1021.2 L610.5 1023.8 L612.5 1023.8 L612.5 1025.4 L614.0 1025.4 L614.0 1021.8 L616.5 1021.8 L616.5 1020.6 L619.0 1020.6 L619.0 1019.9 L621.5 1019.9 L621.5 1021.5 L624.0 1021.5 L624.0 1021.5 L627.5 1021.5 L627.5 1020.0 L630.5 1020.0 L630.5 1017.9 L633.0 1017.9 L633.0 1018.5 L636.0 1018.5 L636.0 1014.8 L637.5 1014.8 L637.5 1014.5 L640.0 1014.5 L640.0 1017.3 L643.5 1017.3 L643.5 1016.2 L646.0 1016.2 L646.0 1013.8 L648.0 1013.8 L648.0 1014.4 L651.0 1014.4 L651.0 1012.4 L652.5 1012.4 L652.5 1014.5 L654.0 1014.5 L654.0 1011.1 L657.5 1011.1 L657.5 1012.6 L659.0 1012.6 L659.0 1010.5 L661.5 1010.5 L661.5 1010.5 L663.5 1010.5 L663.5 1008.8 L666.0 1008.8 L666.0 1011.3 L668.0 1011.3 L668.0 1009.4 L669.5 1009.4 L669.5 1006.7 L672.5 1006.7 L672.5 1008.7 L675.5 1008.7 L675.5 1004.0 L678.5 1004.0 L678.5 1005.1 L682.0 1005.1 L682.0 1000.7 L684.0 1000.7 L684.0 998.4 L686.5 998.4 L686.5 999.1 L688.5 999.1 L688.5 995.6 L691.0 995.6 L691.0 994.7 L694.0 994.7 L694.0 990.8 L696.0 990.8 L696.0 992.2 L699.0 992.2 L699.0 988.1 L701.0 988.1 L701.0 986.0 L703.5 986.0 L703.5 986.2 L706.0 986.2 L706.0 981.0 L709.0 981.0 L709.0 981.3 L711.5 981.3 L711.5 979.8 L714.0 979.8 L714.0 979.2 L716.0 979.2 L716.0 977.5 L718.0 977.5 L718.0 976.3 L720.5 976.3 L720.5 968.1 L722.0 968.1 L722.0 975.9 L724.0 975.9 L724.0 975.8 L726.0 975.8 L726.0 976.8 L727.5 976.8 L727.5 972.5 L729.0 972.5 L729.0 975.4 L730.5 975.4 L730.5 973.1 L734.0 973.1 L734.0 972.9 L736.5 972.9 L736.5 967.6 L738.5 967.6 L738.5 971.2 L740.5 971.2 L740.5 970.6 L742.5 970.6 L742.5 969.6 L746.0 969.6 L746.0 965.5 L749.0 965.5 L749.0 965.6 L750.5 965.6 L750.5 962.0 L753.5 962.0 L753.5 961.8 L756.0 961.8 L756.0 962.3 L757.5 962.3 L757.5 958.7 L760.5 958.7 L760.5 955.4 L762.5 955.4 L762.5 953.7 L764.5 953.7 L764.5 952.7 L767.0 952.7 L767.0 948.8 L769.0 948.8 L769.0 947.4 L770.5 947.4 L770.5 945.0 L774.0 945.0 L774.0 941.1 L775.5 941.1 L775.5 943.1 L778.5 943.1 L778.5 945.8 L780.0 945.8 L780.0 950.2 L782.0 950.2 L782.0 951.0 L785.5 951.0 L785.5 948.6 L787.0 948.6 L787.0 948.2 L788.5 948.2 L788.5 947.5 L790.0 947.5 L790.0 944.3 L791.5 944.3 L791.5 943.2 L793.0 943.2 L793.0 939.9 L795.5 939.9 L795.5 938.0 L798.5 938.0 L798.5 936.2 L801.0 936.2 L801.0 935.5 L802.5 935.5 L802.5 933.2 L804.5 933.2 L804.5 932.4 L806.5 932.4 L806.5 928.6 L809.0 928.6 L809.0 926.6 L810.5 926.6 L810.5 924.8 L812.5 924.8 L812.5 921.4 L814.5 921.4 L814.5 915.6 L816.0 915.6 L816.0 912.8 L818.0 912.8 L818.0 902.9 L821.0 902.9 L821.0 896.5 L823.5 896.5 L823.5 893.3 L826.0 893.3 L826.0 892.5 L829.0 892.5 L829.0 894.9 L830.5 894.9 L830.5 894.1 L832.0 894.1 L832.0 893.2 L834.5 893.2 L834.5 895.0 L837.5 895.0 L837.5 896.9 L839.0 896.9 L839.0 892.8 L842.0 892.8 L842.0 892.8 L845.0 892.8 L845.0 893.5 L847.0 893.5 L847.0 893.3 L848.5 893.3 L848.5 888.9 L850.0 888.9 L850.0 888.4 L851.5 888.4 L851.5 887.6 L854.0 887.6 L854.0 886.1 L856.5 886.1 L856.5 887.4 L858.5 887.4 L858.5 882.0 L860.0 882.0 L860.0 884.0 L863.0 884.0 L863.0 881.3 L865.0 881.3 L865.0 877.7 L866.5 877.7 L866.5 876.3 L868.5 876.3 L868.5 875.7 L871.0 875.7 L871.0 875.4 L874.5 875.4 L874.5 876.5 L878.0 876.5 L878.0 873.2 L881.5 873.2 L881.5 871.7 L883.5 871.7 L883.5 870.0 L886.0 870.0 L886.0 870.3 L888.0 870.3 L888.0 868.8 L890.0 868.8 L890.0 865.9 L893.5 865.9 L893.5 864.2 L896.0 864.2 L896.0 866.4 L899.0 866.4 L899.0 865.0 L901.0 865.0 L901.0 862.3 L904.5 862.3 L904.5 858.8 L906.0 858.8 L906.0 862.3 L908.5 862.3 L908.5 861.8 L911.5 861.8 L911.5 858.1 L914.5 858.1 L914.5 859.4 L916.5 859.4 L916.5 856.3 L919.5 856.3 L919.5 854.0 L922.0 854.0 L922.0 850.5 L923.5 850.5 L923.5 851.5 L926.5 851.5 L926.5 848.3 L929.0 848.3 L929.0 844.4 L931.5 844.4 L931.5 842.4 L933.5 842.4 L933.5 842.4 L936.0 842.4 L936.0 840.6 L938.0 840.6 L938.0 835.8 L941.0 835.8 L941.0 837.5 L943.0 837.5 L943.0 833.0 L945.0 833.0 L945.0 831.5 L947.0 831.5 L947.0 830.7 L948.5 830.7 L948.5 829.7 L951.0 829.7 L951.0 827.6 L953.5 827.6 L953.5 828.3 L957.0 828.3 L957.0 822.9 L960.0 822.9 L960.0 823.0 L961.5 823.0 L961.5 819.5 L964.0 819.5 L964.0 819.2 L967.5 819.2 L967.5 816.4 L971.0 816.4 L971.0 811.3 L973.5 811.3 L973.5 810.4 L975.5 810.4 L975.5 811.6 L979.0 811.6 L979.0 806.2 L982.5 806.2 L982.5 802.5 L986.0 802.5 L986.0 801.1 L988.0 801.1 L988.0 798.8 L989.5 798.8 L989.5 802.7 L992.0 802.7 L992.0 797.3 L995.0 797.3 L995.0 797.5 L998.0 797.5 L998.0 796.4 L1001.5 796.4 L1001.5 786.4 L1003.0 786.4 L1003.0 790.7 L1006.0 790.7 L1006.0 791.8 L1009.5 791.8 L1009.5 786.6 L1012.5 786.6 L1012.5 788.1 L1015.0 788.1 L1015.0 784.7 L1016.5 784.7 L1016.5 782.7 L1018.0 782.7 L1018.0 783.2 L1020.0 783.2 L1020.0 782.1 L1023.5 782.1 L1023.5 780.8 L1026.0 780.8 L1026.0 777.2 L1028.0 777.2 L1028.0 777.2 L1029.5 777.2 L1029.5 775.0 L1031.5 775.0 L1031.5 775.1 L1034.0 775.1 L1034.0 771.5 L1036.5 771.5 L1036.5 772.3 L1039.0 772.3 L1039.0 768.9 L1042.5 768.9 L1042.5 765.2 L1044.0 765.2 L1044.0 754.8 L1045.5 754.8 L1045.5 764.0 L1047.5 764.0 L1047.5 759.7 L1050.5 759.7 L1050.5 756.7 L1053.5 756.7 L1053.5 754.0 L1055.0 754.0 L1055.0 755.5 L1057.5 755.5 L1057.5 753.2 L1060.5 753.2 L1060.5 749.4 L1064.0 749.4 L1064.0 748.3 L1066.0 748.3 L1066.0 749.3 L1068.0 749.3 L1068.0 748.5 L1071.5 748.5 L1071.5 742.8 L1075.0 742.8 L1075.0 740.6 L1078.5 740.6 L1078.5 741.7 L1081.0 741.7 L1081.0 741.4 L1084.5 741.4 L1084.5 740.5 L1086.5 740.5 L1086.5 739.8 L1089.0 739.8 L1089.0 739.1 L1091.5 739.1 L1091.5 740.6 L1093.5 740.6 L1093.5 736.7 L1095.0 736.7 L1095.0 740.7 L1098.5 740.7 L1098.5 737.1 L1100.5 737.1 L1100.5 740.1 L1102.5 740.1 L1102.5 735.5 L1104.0 735.5 L1104.0 735.6 L1107.0 735.6 L1107.0 737.5 L1110.0 737.5 L1110.0 736.2 L1112.0 736.2 L1112.0 734.5 L1115.5 734.5 L1115.5 732.0 L1117.0 732.0 L1117.0 734.7 L1118.5 734.7 L1118.5 735.2 L1121.0 735.2 L1121.0 737.9 L1122.5 737.9 L1122.5 734.5 L1125.5 734.5 L1125.5 732.9 L1129.0 732.9 L1129.0 726.4 L1131.5 726.4 L1131.5 724.7 L1135.0 724.7 L1135.0 721.4 L1137.0 721.4 L1137.0 721.8 L1140.0 721.8 L1140.0 721.0 L1142.0 721.0 L1142.0 718.6 L1144.5 718.6 L1144.5 714.1 L1146.5 714.1 L1146.5 713.5 L1148.0 713.5 L1148.0 713.5 L1150.5 713.5 L1150.5 709.6 L1153.5 709.6 L1153.5 710.3 L1156.0 710.3 L1156.0 711.1 L1159.0 711.1 L1159.0 707.2 L1162.0 707.2 L1162.0 710.0 L1165.0 710.0 L1165.0 705.3 L1168.5 705.3 L1168.5 705.1 L1170.5 705.1 L1170.5 704.1 L1172.0 704.1 L1172.0 704.7 L1173.5 704.7 L1173.5 705.6 L1177.0 705.6 L1177.0 705.0 L1178.5 705.0 L1178.5 702.8 L1180.5 702.8 L1180.5 702.8 L1182.5 702.8 L1182.5 702.7 L1184.0 702.7 L1184.0 700.5 L1187.0 700.5 L1187.0 698.6 L1190.0 698.6 L1190.0 696.7 L1193.0 696.7 L1193.0 694.6 L1195.5 694.6 L1195.5 692.5 L1198.5 692.5 L1198.5 692.6 L1202.0 692.6 L1202.0 688.1 L1205.5 688.1 L1205.5 684.9 L1209.0 684.9 L1209.0 682.5 L1211.0 682.5 L1211.0 678.6 L1214.5 678.6 L1214.5 678.8 L1217.0 678.8 L1217.0 674.1 L1220.5 674.1 L1220.5 673.7 L1222.0 673.7 L1222.0 673.5 L1224.0 673.5 L1224.0 674.0 L1227.5 674.0 L1227.5 674.0 L1229.0 674.0 L1229.0 670.7 L1230.5 670.7 L1230.5 670.8 L1233.0 670.8 L1233.0 662.7 L1234.5 662.7 L1234.5 671.2 L1236.5 671.2 L1236.5 669.8 L1239.5 669.8 L1239.5 669.7 L1241.0 669.7 L1241.0 672.5 L1244.0 672.5 L1244.0 663.0 L1245.5 663.0 L1245.5 672.0 L1248.5 672.0 L1248.5 670.1 L1250.5 670.1 L1250.5 669.1 L1254.0 669.1 L1254.0 661.0 L1257.5 661.0 L1257.5 656.9 L1260.5 656.9 L1260.5 655.3 L1263.5 655.3 L1263.5 655.5 L1265.5 655.5 L1265.5 657.4 L1267.5 657.4 L1267.5 652.0 L1269.0 652.0 L1269.0 649.4 L1270.5 649.4 L1270.5 654.5 L1272.5 654.5 L1272.5 653.8 L1274.5 653.8 L1274.5 649.3 L1276.5 649.3 L1276.5 646.6 L1278.0 646.6 L1278.0 651.5 L1280.5 651.5 L1280.5 649.8 L1282.0 649.8 L1282.0 649.6 L1284.5 649.6 L1284.5 653.1 L1288.0 653.1 L1288.0 653.6 L1289.5 653.6 L1289.5 650.3 L1292.0 650.3 L1292.0 654.0 L1294.5 654.0 L1294.5 654.5 L1298.0 654.5 L1298.0 653.7 L1299.5 653.7 L1299.5 653.3 L1302.5 653.3 L1302.5 653.6 L1304.5 653.6 L1304.5 654.8 L1307.5 654.8 L1307.5 650.5 L1310.5 650.5 L1310.5 648.1 L1312.0 648.1 L1312.0 647.2 L1314.5 647.2 L1314.5 641.8 L1317.5 641.8 L1317.5 637.9 L1320.0 637.9 L1320.0 635.1 L1323.0 635.1 L1323.0 630.3 L1324.5 630.3 L1324.5 635.0 L1328.0 635.0 L1328.0 636.8 L1330.5 636.8 L1330.5 632.3 L1332.0 632.3 L1332.0 632.9 L1335.0 632.9 L1335.0 635.0 L1336.5 635.0 L1336.5 625.3 L1338.0 625.3 L1338.0 634.4 L1339.5 634.4 L1339.5 629.6 L1343.0 629.6 L1343.0 624.7 L1346.0 624.7 L1346.0 622.9 L1348.5 622.9 L1348.5 621.1 L1350.0 621.1 L1350.0 621.1 L1352.5 621.1 L1352.5 620.0 L1354.0 620.0 L1354.0 620.6 L1356.0 620.6 L1356.0 620.7 L1358.5 620.7 L1358.5 619.1 L1362.0 619.1 L1362.0 618.1 L1365.5 618.1 L1365.5 616.4 L1369.0 616.4 L1369.0 617.2 L1372.0 617.2 L1372.0 617.8 L1374.5 617.8 L1374.5 617.0 L1377.0 617.0 L1377.0 616.3 L1380.5 616.3 L1380.5 619.7 L1382.5 619.7 L1382.5 619.4 L1385.0 619.4 L1385.0 615.2 L1387.0 615.2 L1387.0 618.4 L1389.0 618.4 L1389.0 615.6 L1390.5 615.6 L1390.5 615.5 L1393.0 615.5 L1393.0 616.0 L1395.0 616.0 L1395.0 615.4 L1396.5 615.4 L1396.5 616.2 L1398.5 616.2 L1398.5 613.9 L1401.5 613.9 L1401.5 613.2 L1404.5 613.2 L1404.5 612.4 L1407.0 612.4 L1407.0 609.0 L1409.5 609.0 L1409.5 606.6 L1413.0 606.6 L1413.0 607.2 L1415.0 607.2 L1415.0 602.5 L1418.5 602.5 L1418.5 601.3 L1420.5 601.3 L1420.5 601.9 L1424.0 601.9 L1424.0 601.3 L1426.5 601.3 L1426.5 598.1 L1429.0 598.1 L1429.0 600.5 L1431.0 600.5 L1431.0 596.4 L1433.0 596.4 L1433.0 596.7 L1436.5 596.7 L1436.5 598.0 L1438.0 598.0 L1438.0 596.1 L1441.5 596.1 L1441.5 599.5 L1444.0 599.5 L1444.0 595.7 L1445.5 595.7 L1445.5 599.0 L1447.0 599.0 L1447.0 594.0 L1450.0 594.0 L1450.0 597.5 L1453.0 597.5 L1453.0 595.3 L1455.0 595.3 L1455.0 593.4 L1458.5 593.4 L1458.5 595.8 L1462.0 595.8 L1462.0 593.5 L1465.0 593.5 L1465.0 587.3 L1466.5 587.3 L1466.5 591.6 L1470.0 591.6 L1470.0 593.8 L1473.0 593.8 L1473.0 595.2 L1475.0 595.2 L1475.0 592.5 L1477.5 592.5 L1477.5 594.0 L1481.0 594.0 L1481.0 592.7 L1483.5 592.7 L1483.5 592.2 L1486.0 592.2 L1486.0 590.9 L1489.5 590.9 L1489.5 589.9 L1492.0 589.9 L1492.0 591.7 L1494.5 591.7 L1494.5 590.2 L1498.0 590.2 L1498.0 589.1 L1501.5 589.1 L1501.5 588.3 L1505.0 588.3 L1505.0 588.4 L1507.0 588.4 L1507.0 588.2 L1509.5 588.2 L1509.5 589.6 L1512.5 589.6 L1512.5 591.2 L1514.5 591.2 L1514.5 587.5 L1517.5 587.5 L1517.5 591.5 L1519.0 591.5 L1519.0 591.8 L1522.5 591.8 L1522.5 590.8 L1524.5 590.8 L1524.5 588.6 L1526.5 588.6 L1526.5 588.8 L1529.5 588.8 L1529.5 579.8 L1531.0 579.8 L1531.0 587.7 L1534.0 587.7 L1534.0 586.8 L1535.5 586.8 L1535.5 590.9 L1538.5 590.9 L1538.5 591.3 L1541.5 591.3 L1541.5 588.3 L1545.0 588.3 L1545.0 589.5 L1548.0 589.5 L1548.0 588.8 L1549.5 588.8 L1549.5 588.7 L1551.0 588.7 L1551.0 588.7 L1552.5 588.7 L1552.5 589.1 L1556.0 589.1 L1556.0 588.4 L1559.5 588.4 L1559.5 586.2 L1562.0 586.2 L1562.0 587.3 L1565.5 587.3 L1565.5 590.3 L1568.5 590.3 L1568.5 588.1 L1572.0 588.1 L1572.0 588.7 L1575.5 588.7 L1575.5 586.7 L1579.0 586.7 L1579.0 590.1 L1582.0 590.1 L1582.0 587.6 L1583.5 587.6 L1583.5 590.2 L1587.0 590.2 L1587.0 586.8 L1590.0 586.8 L1590.0 588.8 L1591.5 588.8 L1591.5 585.9 L1593.0 585.9 L1593.0 589.0 L1594.5 589.0 L1594.5 589.1 L1596.5 589.1 L1596.5 589.2 L1599.5 589.2 L1599.5 589.9 L1603.0 589.9 L1603.0 587.8 L1606.5 587.8 L1606.5 586.1 L1608.0 586.1 L1608.0 589.5 L1611.0 589.5 L1611.0 585.6 L1614.0 585.6 L1614.0 584.8 L1615.5 584.8 L1615.5 584.8 L1618.5 584.8 L1618.5 586.5 L1620.0 586.5 L1620.0 586.1 L1621.5 586.1 L1621.5 585.1 L1624.5 585.1 L1624.5 587.3 L1626.0 587.3 L1626.0 586.8 L1629.0 586.8 L1629.0 585.3 L1630.5 585.3 L1630.5 578.0 L1632.0 578.0 L1632.0 584.7 L1634.5 584.7 L1634.5 587.3 L1637.5 587.3 L1637.5 588.9 L1640.0 588.9 L1640.0 585.5 L1642.0 585.5 L1642.0 588.2 L1644.0 588.2 L1644.0 587.9 L1646.5 587.9 L1646.5 584.5 L1648.5 584.5 L1648.5 585.0 L1650.5 585.0 L1650.5 584.7 L1652.0 584.7 L1652.0 585.2 L1653.5 585.2 L1653.5 588.2 L1656.0 588.2 L1656.0 584.4 L1659.5 584.4 L1659.5 585.5 L1662.0 585.5 L1662.0 583.8 L1664.0 583.8 L1664.0 587.9 L1665.5 587.9 L1665.5 584.6 L1667.5 584.6 L1667.5 586.4 L1670.5 586.4 L1670.5 584.9 L1673.5 584.9 L1673.5 586.7 L1676.5 586.7 L1676.5 584.9 L1680.0 584.9 L1680.0 583.3 L1683.0 583.3 L1683.0 586.6 L1685.5 586.6 L1685.5 585.1 L1688.0 585.1 L1688.0 584.3 L1691.0 584.3 L1691.0 587.4 L1692.5 587.4 L1692.5 584.9 L1696.0 584.9 L1696.0 583.9 L1699.0 583.9 L1699.0 585.9 L1702.5 585.9 L1702.5 584.3 L1706.0 584.3 L1706.0 586.2 L1709.0 586.2 L1709.0 583.5 L1711.5 583.5 L1711.5 586.0 L1713.0 586.0 L1713.0 583.3 L1715.5 583.3 L1715.5 583.3 L1718.0 583.3 L1718.0 583.2 L1721.5 583.2 L1721.5 581.4 L1723.5 581.4 L1723.5 584.7 L1727.0 584.7 L1727.0 581.4 L1728.5 581.4 L1728.5 581.7 L1731.5 581.7 L1731.5 573.8 L1733.0 573.8 L1733.0 583.0 L1735.0 583.0 L1735.0 579.8 L1736.5 579.8 L1736.5 580.8 L1738.5 580.8 L1738.5 581.9 L1741.0 581.9 L1741.0 581.9 L1744.0 581.9 L1744.0 579.7 L1745.5 579.7 L1745.5 581.4 L1747.0 581.4 L1747.0 581.6 L1750.0 581.6 L1750.0 579.2 L1752.0 579.2 L1752.0 580.5 L1755.5 580.5 L1755.5 579.5 L1758.0 579.5 L1758.0 577.5 L1761.0 577.5 L1761.0 578.0 L1764.5 578.0 L1764.5 577.1 L1766.5 577.1 L1766.5 581.1 L1768.0 581.1 L1768.0 578.6 L1770.5 578.6 L1770.5 576.6 L1774.0 576.6 L1774.0 579.3 L1776.0 579.3 L1776.0 576.5 L1779.0 576.5 L1779.0 577.2 L1781.5 577.2 L1781.5 577.1 L1784.0 577.1 L1784.0 573.0 L1785.5 573.0 L1785.5 574.4 L1788.5 574.4 L1788.5 574.4 L1791.5 574.4 L1791.5 568.6 L1794.5 568.6 L1794.5 570.6 L1797.5 570.6 L1797.5 567.4 L1799.5 567.4 L1799.5 567.3 L1802.5 567.3 L1802.5 568.4 L1805.0 568.4 L1805.0 564.7 L1808.5 564.7 L1808.5 565.2 L1812.0 565.2 L1812.0 563.6 L1814.5 563.6 L1814.5 567.4 L1817.5 567.4 L1817.5 566.0 L1820.0 566.0 L1820.0 565.0 L1822.0 565.0 L1822.0 566.3 L1824.5 566.3 L1824.5 567.6 L1827.0 567.6 L1827.0 563.9 L1830.0 563.9 L1830.0 562.1 L1831.5 562.1 L1831.5 566.7 L1834.5 566.7 L1834.5 564.5 L1837.5 564.5 L1837.5 566.5 L1841.0 566.5 L1841.0 565.8 L1842.5 565.8 L1842.5 564.0 L1844.0 564.0 L1844.0 571.2 L1846.0 571.2 L1846.0 575.5 L1849.5 575.5 L1849.5 577.9 L1853.0 577.9 L1853.0 580.2 L1855.0 580.2 L1855.0 575.6 L1856.5 575.6 L1856.5 577.9 L1858.5 577.9 L1858.5 575.5 L1861.0 575.5 L1861.0 579.6 L1863.0 579.6 L1863.0 576.7 L1866.5 576.7 L1866.5 579.1 L1869.5 579.1 L1869.5 575.9 L1873.0 575.9 L1873.0 575.2 L1874.5 575.2 L1874.5 578.0 L1876.5 578.0 L1876.5 574.0 L1879.0 574.0 L1879.0 575.1 L1881.5 575.1 L1881.5 574.2 L1884.0 574.2 L1884.0 575.1 L1886.5 575.1 L1886.5 574.5 L1889.5 574.5 L1889.5 575.5 L1892.5 575.5 L1892.5 576.7 L1896.0 576.7 L1896.0 574.8 L1898.5 574.8 L1898.5 575.3 L1901.0 575.3 L1901.0 575.8 L1903.5 575.8 L1903.5 572.9 L1906.0 572.9 L1906.0 566.5 L1907.5 566.5 L1907.5 568.4 L1909.5 568.4 L1909.5 568.1 L1912.5 568.1 L1912.5 566.1 L1914.0 566.1 L1914.0 566.5 L1917.0 566.5 L1917.0 566.2 L1918.5 566.2 L1918.5 563.3 L1921.0 563.3 L1921.0 562.5 L1924.5 562.5 L1924.5 561.1 L1926.0 561.1 L1926.0 558.1 L1929.0 558.1 L1929.0 559.7 L1931.5 559.7 L1931.5 561.1 L1934.0 561.1 L1934.0 557.1 L1936.5 557.1 L1936.5 557.9 L1939.5 557.9 L1939.5 560.2 L1941.0 560.2 L1941.0 559.7 L1943.0 559.7 L1943.0 557.1 L1945.0 557.1 L1945.0 558.3 L1947.5 558.3 L1947.5 560.1 L1949.0 560.1 L1949.0 560.2 L1952.0 560.2 L1952.0 560.1 L1954.5 560.1 L1954.5 560.1 L1958.0 560.1 L1958.0 556.1 L1960.0 556.1 L1960.0 557.7 L1963.5 557.7 L1963.5 560.2 L1965.0 560.2 L1965.0 550.8 L1966.5 550.8 L1966.5 560.0 L1969.5 560.0 L1969.5 548.8 L1971.0 548.8 L1971.0 557.7 L1973.5 557.7 L1973.5 559.8 L1976.5 559.8 L1976.5 549.7 L1978.0 549.7 L1978.0 556.0 L1981.5 556.0 L1981.5 554.0 L1983.0 554.0 L1983.0 556.9 L1984.5 556.9 L1984.5 559.0 L1987.5 559.0 L1987.5 556.2 L1989.0 556.2 L1989.0 554.9 L1992.0 554.9 L1992.0 557.9 L1995.0 557.9 L1995.0 555.1 L1998.0 555.1 L1998.0 555.9 L1999.5 555.9 L1999.5 554.0 L2003.0 554.0 L2003.0 556.1 L2006.5 556.1 L2006.5 554.2 L2008.5 554.2 L2008.5 555.1 L2010.5 555.1 L2010.5 554.4 L2013.5 554.4 L2013.5 555.9 L2016.5 555.9 L2016.5 557.3 L2018.5 557.3 L2018.5 554.2 L2020.5 554.2 L2020.5 557.4 L2023.5 557.4 L2023.5 556.3 L2026.0 556.3 L2026.0 558.4 L2028.5 558.4 L2028.5 555.7 L2030.5 555.7 L2030.5 556.7 L2033.0 556.7 L2033.0 556.4 L2036.5 556.4 L2036.5 556.8 L2038.0 556.8 L2038.0 556.4 L2041.0 556.4 L2041.0 554.1 L2042.5 554.1 L2042.5 553.8 L2045.5 553.8 L2045.5 555.3 L2049.0 555.3 L2049.0 554.8 L2052.0 554.8 L2052.0 547.3 L2053.5 547.3 L2053.5 556.0 L2056.5 556.0 L2056.5 555.3 L2058.0 555.3 L2058.0 554.3 L2059.5 554.3 L2059.5 557.9 L2062.0 557.9 L2062.0 558.0 L2063.5 558.0 L2063.5 555.7 L2065.5 555.7 L2065.5 555.7 L2068.5 555.7 L2068.5 557.5 L2070.5 557.5 L2070.5 554.1 L2073.0 554.1 L2073.0 558.1 L2076.0 558.1 L2076.0 557.2 L2079.0 557.2 L2079.0 556.8 L2082.0 556.8 L2082.0 554.2 L2085.5 554.2 L2085.5 555.6 L2087.0 555.6 L2087.0 556.4 L2088.5 556.4 L2088.5 556.4 L2090.5 556.4 L2090.5 555.4 L2093.5 555.4 L2093.5 552.0 L2097.0 552.0 L2097.0 550.5 L2098.5 550.5 L2098.5 549.2 L2100.0 549.2 L2100.0 550.7 L2102.0 550.7 L2102.0 549.7 L2103.5 549.7 L2103.5 548.3 L2105.5 548.3 L2105.5 548.2 L2109.0 548.2 L2109.0 548.6 L2111.5 548.6 L2111.5 549.6 L2114.0 549.6 L2114.0 548.6 L2116.5 548.6 L2116.5 548.1 L2120.0 548.1 L2120.0 551.6 L2122.0 551.6 L2122.0 549.2 L2124.0 549.2 L2124.0 551.4 L2127.0 551.4 L2127.0 551.0 L2129.0 551.0 L2129.0 551.3 L2132.0 551.3 L2132.0 552.0 L2134.0 552.0 L2134.0 549.0 L2136.0 549.0 L2136.0 547.7 L2138.0 547.7 L2138.0 549.6 L2141.0 549.6 L2141.0 547.9 L2143.0 547.9 L2143.0 548.3 L2146.5 548.3 L2146.5 547.8 L2149.5 547.8 L2149.5 547.9 L2151.0 547.9 L2151.0 549.3 L2154.5 549.3 L2154.5 550.9 L2157.0 550.9 L2157.0 550.3 L2158.5 550.3 L2158.5 543.7 L2160.0 543.7 L2160.0 547.1 L2163.5 547.1 L2163.5 547.7 L2166.5 547.7 L2166.5 550.4 L2170.0 550.4 L2170.0 550.9 L2171.5 550.9 L2171.5 548.6 L2173.0 548.6 L2173.0 548.1 L2176.5 548.1 L2176.5 551.3 L2178.5 551.3 L2178.5 549.7 L2182.0 549.7 L2182.0 547.8 L2184.5 547.8 L2184.5 551.4 L2186.5 551.4 L2186.5 548.3 L2190.0 548.3 L2190.0 548.1 L2193.0 548.1 L2193.0 550.7 L2195.0 550.7 L2195.0 548.8 L2198.5 548.8 L2198.5 544.1 L2200.0 544.1 L2200.0 548.6 L2203.5 548.6 L2203.5 550.7 L2206.5 550.7 L2206.5 548.0 L2208.0 548.0 L2208.0 546.8 L2209.5 546.8 L2209.5 546.8 L2211.5 546.8 L2211.5 548.6 L2213.0 548.6 L2213.0 549.3 L2216.0 549.3 L2216.0 547.6 L2218.5 547.6 L2218.5 548.2 L2220.5 548.2 L2220.5 547.9 L2223.0 547.9 L2223.0 547.1 L2226.5 547.1 L2226.5 548.6 L2228.0 548.6 L2228.0 550.2 L2231.0 550.2 L2231.0 548.6 L2234.5 548.6 L2234.5 548.7 L2236.0 548.7 L2236.0 550.2 L2238.0 550.2 L2238.0 545.9 L2241.0 545.9 L2241.0 549.3 L2243.0 549.3 L2243.0 547.3 L2245.5 547.3 L2245.5 549.1 L2248.0 549.1 L2248.0 548.9 L2250.5 548.9 L2250.5 547.9 L2253.5 547.9 L2253.5 547.1 L2256.0 547.1 L2256.0 549.3 L2257.5 549.3 L2257.5 549.1 L2260.0 549.1 L2260.0 549.3 L2262.5 549.3 L2262.5 547.7 L2265.0 547.7 L2265.0 549.4 L2266.5 549.4 L2266.5 548.9 L2268.0 548.9 L2268.0 545.6 L2271.0 545.6 L2271.0 546.8 L2274.5 546.8 L2274.5 547.4 L2276.5 547.4 L2276.5 546.0 L2278.0 546.0 L2278.0 550.0 L2280.0 550.0 L2280.0 549.3 L2283.5 549.3 L2283.5 541.1 L2285.0 541.1 L2285.0 547.1 L2287.0 547.1 L2287.0 545.9 L2289.0 545.9 L2289.0 547.1 L2292.5 547.1 L2292.5 545.1 L2295.0 545.1 L2295.0 548.5 L2297.0 548.5 L2297.0 544.4 L2298.5 544.4 L2298.5 548.4 L2300.5 548.4 L2300.5 548.0 L2304.0 548.0 L2304.0 542.2 L2305.5 542.2 L2305.5 547.7 L2308.5 547.7 L2308.5 546.6 L2310.0 546.6 L2310.0 546.7 L2313.0 546.7 L2313.0 545.1 L2316.0 545.1 L2316.0 545.2 L2317.5 545.2 L2317.5 546.1 L2319.5 546.1 L2319.5 547.0 L2321.0 547.0 L2321.0 549.4 L2324.5 549.4 L2324.5 547.7 L2328.0 547.7 L2328.0 548.8 L2330.0 548.8 L2330.0 547.2 L2331.5 547.2 L2331.5 546.7 L2335.0 546.7 L2335.0 549.4 L2337.0 549.4 L2337.0 546.2 L2339.0 546.2 L2339.0 544.8 L2341.5 544.8 L2341.5 549.1 L2344.0 549.1 L2344.0 547.4 L2347.0 547.4 L2347.0 547.8 L2350.5 547.8 L2350.5 546.6 L2353.5 546.6 L2353.5 544.5 L2356.5 544.5 L2356.5 545.9 L2360.0 545.9 L2360.0 548.6 L2363.5 548.6 L2363.5 548.5 L2366.5 548.5 L2366.5 547.9 L2369.0 547.9 L2369.0 545.8 L2370.5 545.8 L2370.5 546.1 L2373.0 546.1 L2373.0 545.7 L2375.5 545.7 L2375.5 544.8 L2378.0 544.8 L2378.0 547.0 L2379.5 547.0 L2379.5 546.3 L2381.0 546.3 L2381.0 548.9 L2383.5 548.9 L2383.5 544.0 L2385.0 544.0 L2385.0 546.6 L2388.0 546.6 L2388.0 546.6 L2390.5 546.6 L2390.5 545.2 L2394.0 545.2 L2394.0 544.2 L2396.5 544.2 L2396.5 548.2 L2399.5 548.2 L2399.5 540.9 L2401.0 540.9 L2401.0 545.6 L2402.5 545.6 L2402.5 546.5 L2404.5 546.5 L2404.5 544.2 L2407.5 544.2 L2407.5 546.3 L2409.0 546.3 L2409.0 544.4 L2410.5 544.4 L2410.5 545.9 L2413.5 545.9 L2413.5 548.2 L2415.5 548.2 L2415.5 548.2 L2418.0 548.2 L2418.0 546.9 L2421.0 546.9 L2421.0 607.7 L2418.5 607.7 L2418.5 605.0 L2415.5 605.0 L2415.5 608.6 L2413.0 608.6 L2413.0 605.3 L2411.5 605.3 L2411.5 604.2 L2409.5 604.2 L2409.5 612.8 L2408.0 612.8 L2408.0 605.2 L2405.0 605.2 L2405.0 606.8 L2402.5 606.8 L2402.5 604.1 L2399.5 604.1 L2399.5 605.5 L2396.0 605.5 L2396.0 607.2 L2393.5 607.2 L2393.5 611.2 L2391.0 611.2 L2391.0 611.5 L2389.0 611.5 L2389.0 612.0 L2386.5 612.0 L2386.5 613.8 L2385.0 613.8 L2385.0 613.9 L2383.0 613.9 L2383.0 617.5 L2381.0 617.5 L2381.0 618.9 L2379.5 618.9 L2379.5 615.9 L2376.0 615.9 L2376.0 617.7 L2373.5 617.7 L2373.5 615.9 L2370.0 615.9 L2370.0 615.4 L2367.0 615.4 L2367.0 610.0 L2365.5 610.0 L2365.5 611.2 L2363.0 611.2 L2363.0 610.5 L2361.5 610.5 L2361.5 610.8 L2359.5 610.8 L2359.5 605.4 L2358.0 605.4 L2358.0 605.3 L2355.5 605.3 L2355.5 610.6 L2354.0 610.6 L2354.0 606.1 L2352.0 606.1 L2352.0 605.5 L2350.5 605.5 L2350.5 601.1 L2349.0 601.1 L2349.0 604.0 L2345.5 604.0 L2345.5 605.6 L2342.0 605.6 L2342.0 604.5 L2340.0 604.5 L2340.0 606.6 L2338.5 606.6 L2338.5 607.7 L2335.0 607.7 L2335.0 613.5 L2333.5 613.5 L2333.5 615.6 L2330.0 615.6 L2330.0 616.6 L2328.5 616.6 L2328.5 616.9 L2325.5 616.9 L2325.5 614.1 L2324.0 614.1 L2324.0 618.2 L2322.5 618.2 L2322.5 616.0 L2320.5 616.0 L2320.5 614.9 L2318.0 614.9 L2318.0 617.2 L2315.0 617.2 L2315.0 615.5 L2311.5 615.5 L2311.5 615.9 L2308.0 615.9 L2308.0 617.3 L2306.0 617.3 L2306.0 613.8 L2303.0 613.8 L2303.0 616.8 L2301.0 616.8 L2301.0 614.3 L2298.5 614.3 L2298.5 616.2 L2296.0 616.2 L2296.0 612.9 L2294.0 612.9 L2294.0 612.8 L2292.0 612.8 L2292.0 611.9 L2290.5 611.9 L2290.5 611.0 L2289.0 611.0 L2289.0 610.5 L2287.0 610.5 L2287.0 608.2 L2285.5 608.2 L2285.5 609.7 L2282.5 609.7 L2282.5 608.7 L2279.0 608.7 L2279.0 607.0 L2276.5 607.0 L2276.5 607.2 L2273.5 607.2 L2273.5 604.9 L2270.5 604.9 L2270.5 606.9 L2269.0 606.9 L2269.0 606.9 L2267.5 606.9 L2267.5 604.8 L2265.5 604.8 L2265.5 607.7 L2263.0 607.7 L2263.0 604.9 L2261.5 604.9 L2261.5 606.2 L2258.0 606.2 L2258.0 604.9 L2254.5 604.9 L2254.5 607.6 L2253.0 607.6 L2253.0 606.0 L2251.0 606.0 L2251.0 604.6 L2248.5 604.6 L2248.5 607.4 L2247.0 607.4 L2247.0 603.4 L2245.0 603.4 L2245.0 604.2 L2242.0 604.2 L2242.0 607.4 L2240.5 607.4 L2240.5 597.9 L2237.5 597.9 L2237.5 598.7 L2234.0 598.7 L2234.0 595.9 L2230.5 595.9 L2230.5 594.3 L2229.0 594.3 L2229.0 591.7 L2226.0 591.7 L2226.0 594.4 L2223.5 594.4 L2223.5 592.4 L2221.0 592.4 L2221.0 588.8 L2218.5 588.8 L2218.5 591.0 L2217.0 591.0 L2217.0 590.5 L2214.0 590.5 L2214.0 590.6 L2212.5 590.6 L2212.5 591.2 L2209.5 591.2 L2209.5 594.3 L2207.5 594.3 L2207.5 595.4 L2204.0 595.4 L2204.0 596.4 L2202.5 596.4 L2202.5 598.4 L2200.0 598.4 L2200.0 604.4 L2197.5 604.4 L2197.5 606.9 L2194.5 606.9 L2194.5 607.9 L2191.5 607.9 L2191.5 608.0 L2190.0 608.0 L2190.0 606.5 L2187.5 606.5 L2187.5 604.1 L2184.0 604.1 L2184.0 599.0 L2181.5 599.0 L2181.5 591.3 L2179.0 591.3 L2179.0 586.8 L2175.5 586.8 L2175.5 582.6 L2173.5 582.6 L2173.5 586.4 L2170.5 586.4 L2170.5 586.4 L2168.0 586.4 L2168.0 587.9 L2166.0 587.9 L2166.0 592.2 L2162.5 592.2 L2162.5 594.5 L2159.5 594.5 L2159.5 598.2 L2156.5 598.2 L2156.5 598.6 L2153.0 598.6 L2153.0 601.9 L2149.5 601.9 L2149.5 607.0 L2146.5 607.0 L2146.5 605.9 L2145.0 605.9 L2145.0 609.4 L2143.5 609.4 L2143.5 609.8 L2140.5 609.8 L2140.5 610.0 L2137.5 610.0 L2137.5 612.5 L2135.0 612.5 L2135.0 612.0 L2131.5 612.0 L2131.5 613.7 L2128.0 613.7 L2128.0 611.8 L2125.0 611.8 L2125.0 609.2 L2123.5 609.2 L2123.5 604.1 L2121.0 604.1 L2121.0 608.3 L2119.5 608.3 L2119.5 603.0 L2117.0 603.0 L2117.0 603.0 L2113.5 603.0 L2113.5 602.1 L2111.5 602.1 L2111.5 600.8 L2109.0 600.8 L2109.0 599.1 L2107.5 599.1 L2107.5 602.1 L2105.5 602.1 L2105.5 600.3 L2102.5 600.3 L2102.5 601.5 L2100.0 601.5 L2100.0 601.8 L2098.0 601.8 L2098.0 599.4 L2094.5 599.4 L2094.5 599.5 L2093.0 599.5 L2093.0 602.1 L2090.5 602.1 L2090.5 599.6 L2087.0 599.6 L2087.0 601.9 L2085.5 601.9 L2085.5 598.7 L2083.5 598.7 L2083.5 602.3 L2082.0 602.3 L2082.0 600.1 L2080.0 600.1 L2080.0 599.7 L2078.5 599.7 L2078.5 599.8 L2076.0 599.8 L2076.0 598.0 L2073.0 598.0 L2073.0 605.9 L2071.5 605.9 L2071.5 600.4 L2068.0 600.4 L2068.0 599.3 L2066.0 599.3 L2066.0 597.0 L2063.0 597.0 L2063.0 598.8 L2060.5 598.8 L2060.5 596.6 L2057.5 596.6 L2057.5 596.4 L2055.0 596.4 L2055.0 596.9 L2053.0 596.9 L2053.0 593.7 L2050.5 593.7 L2050.5 595.4 L2047.5 595.4 L2047.5 591.6 L2044.0 591.6 L2044.0 599.9 L2042.5 599.9 L2042.5 594.6 L2039.0 594.6 L2039.0 592.6 L2037.5 592.6 L2037.5 594.4 L2035.5 594.4 L2035.5 592.5 L2032.0 592.5 L2032.0 593.6 L2030.0 593.6 L2030.0 596.1 L2027.5 596.1 L2027.5 593.2 L2024.5 593.2 L2024.5 593.4 L2023.0 593.4 L2023.0 593.5 L2021.5 593.5 L2021.5 592.9 L2018.0 592.9 L2018.0 593.6 L2015.0 593.6 L2015.0 595.2 L2012.5 595.2 L2012.5 597.8 L2009.5 597.8 L2009.5 594.8 L2007.0 594.8 L2007.0 597.7 L2004.5 597.7 L2004.5 598.3 L2001.0 598.3 L2001.0 595.6 L1999.5 595.6 L1999.5 591.3 L1998.0 591.3 L1998.0 586.4 L1995.0 586.4 L1995.0 586.8 L1992.5 586.8 L1992.5 580.1 L1991.0 580.1 L1991.0 580.3 L1989.0 580.3 L1989.0 581.2 L1986.5 581.2 L1986.5 582.0 L1985.0 582.0 L1985.0 581.8 L1982.0 581.8 L1982.0 588.2 L1980.0 588.2 L1980.0 587.6 L1978.0 587.6 L1978.0 586.4 L1976.5 586.4 L1976.5 588.0 L1975.0 588.0 L1975.0 590.1 L1973.5 590.1 L1973.5 589.3 L1971.5 589.3 L1971.5 589.9 L1969.0 589.9 L1969.0 588.9 L1967.0 588.9 L1967.0 590.0 L1965.5 590.0 L1965.5 590.1 L1963.0 590.1 L1963.0 587.1 L1961.0 587.1 L1961.0 590.4 L1959.5 590.4 L1959.5 587.0 L1956.5 587.0 L1956.5 587.8 L1953.0 587.8 L1953.0 589.7 L1950.5 589.7 L1950.5 585.5 L1947.0 585.5 L1947.0 586.9 L1944.5 586.9 L1944.5 585.4 L1942.0 585.4 L1942.0 585.1 L1938.5 585.1 L1938.5 586.8 L1937.0 586.8 L1937.0 583.6 L1934.5 583.6 L1934.5 584.7 L1932.0 584.7 L1932.0 585.5 L1930.0 585.5 L1930.0 586.7 L1928.5 586.7 L1928.5 585.5 L1926.5 585.5 L1926.5 582.5 L1925.0 582.5 L1925.0 583.8 L1923.5 583.8 L1923.5 586.5 L1920.0 586.5 L1920.0 583.9 L1918.0 583.9 L1918.0 583.4 L1915.0 583.4 L1915.0 582.6 L1912.0 582.6 L1912.0 582.9 L1910.0 582.9 L1910.0 585.6 L1906.5 585.6 L1906.5 584.0 L1903.5 584.0 L1903.5 584.9 L1900.5 584.9 L1900.5 586.9 L1898.5 586.9 L1898.5 586.3 L1896.5 586.3 L1896.5 586.4 L1894.0 586.4 L1894.0 592.1 L1892.5 592.1 L1892.5 587.1 L1890.0 587.1 L1890.0 588.2 L1887.5 588.2 L1887.5 585.5 L1886.0 585.5 L1886.0 585.9 L1883.5 585.9 L1883.5 586.2 L1880.5 586.2 L1880.5 586.7 L1877.5 586.7 L1877.5 590.2 L1876.0 590.2 L1876.0 588.5 L1873.0 588.5 L1873.0 587.7 L1871.0 587.7 L1871.0 587.3 L1868.5 587.3 L1868.5 585.6 L1865.5 585.6 L1865.5 587.4 L1864.0 587.4 L1864.0 586.4 L1862.5 586.4 L1862.5 586.8 L1861.0 586.8 L1861.0 587.3 L1859.0 587.3 L1859.0 585.5 L1855.5 585.5 L1855.5 588.5 L1853.5 588.5 L1853.5 588.9 L1851.5 588.9 L1851.5 586.7 L1848.0 586.7 L1848.0 590.3 L1846.5 590.3 L1846.5 589.4 L1844.0 589.4 L1844.0 593.8 L1842.0 593.8 L1842.0 594.6 L1840.0 594.6 L1840.0 595.6 L1837.5 595.6 L1837.5 598.4 L1835.5 598.4 L1835.5 594.8 L1833.0 594.8 L1833.0 597.6 L1831.0 597.6 L1831.0 603.5 L1829.5 603.5 L1829.5 597.0 L1826.0 597.0 L1826.0 595.3 L1823.0 595.3 L1823.0 597.4 L1820.5 597.4 L1820.5 594.1 L1817.0 594.1 L1817.0 598.2 L1814.0 598.2 L1814.0 597.6 L1812.0 597.6 L1812.0 595.2 L1808.5 595.2 L1808.5 606.1 L1805.0 606.1 L1805.0 609.9 L1803.5 609.9 L1803.5 619.3 L1801.0 619.3 L1801.0 622.1 L1799.5 622.1 L1799.5 629.9 L1796.0 629.9 L1796.0 634.7 L1792.5 634.7 L1792.5 631.8 L1791.0 631.8 L1791.0 637.2 L1788.5 637.2 L1788.5 635.4 L1785.0 635.4 L1785.0 637.7 L1783.0 637.7 L1783.0 642.5 L1780.0 642.5 L1780.0 644.8 L1776.5 644.8 L1776.5 645.7 L1773.5 645.7 L1773.5 647.5 L1772.0 647.5 L1772.0 643.7 L1769.0 643.7 L1769.0 642.8 L1767.5 642.8 L1767.5 642.3 L1765.0 642.3 L1765.0 635.2 L1762.0 635.2 L1762.0 633.9 L1758.5 633.9 L1758.5 635.2 L1757.0 635.2 L1757.0 637.0 L1754.0 637.0 L1754.0 636.8 L1752.0 636.8 L1752.0 641.8 L1750.5 641.8 L1750.5 641.5 L1749.0 641.5 L1749.0 638.1 L1747.5 638.1 L1747.5 638.6 L1746.0 638.6 L1746.0 640.5 L1742.5 640.5 L1742.5 644.6 L1740.5 644.6 L1740.5 640.9 L1738.5 640.9 L1738.5 640.4 L1735.0 640.4 L1735.0 640.6 L1733.5 640.6 L1733.5 641.2 L1732.0 641.2 L1732.0 639.7 L1729.0 639.7 L1729.0 639.2 L1726.5 639.2 L1726.5 638.3 L1725.0 638.3 L1725.0 640.3 L1722.5 640.3 L1722.5 638.9 L1719.0 638.9 L1719.0 642.7 L1717.0 642.7 L1717.0 641.2 L1715.0 641.2 L1715.0 641.6 L1711.5 641.6 L1711.5 642.5 L1709.0 642.5 L1709.0 639.6 L1707.5 639.6 L1707.5 643.1 L1704.5 643.1 L1704.5 644.7 L1702.5 644.7 L1702.5 644.3 L1701.0 644.3 L1701.0 641.4 L1697.5 641.4 L1697.5 645.5 L1695.5 645.5 L1695.5 645.3 L1693.5 645.3 L1693.5 642.5 L1691.5 642.5 L1691.5 641.7 L1690.0 641.7 L1690.0 642.9 L1686.5 642.9 L1686.5 645.1 L1683.5 645.1 L1683.5 642.1 L1680.0 642.1 L1680.0 650.9 L1678.5 650.9 L1678.5 641.1 L1677.0 641.1 L1677.0 643.9 L1675.0 643.9 L1675.0 642.9 L1673.5 642.9 L1673.5 640.7 L1672.0 640.7 L1672.0 641.7 L1670.0 641.7 L1670.0 642.2 L1668.0 642.2 L1668.0 649.2 L1666.5 649.2 L1666.5 642.3 L1665.0 642.3 L1665.0 643.4 L1661.5 643.4 L1661.5 643.2 L1659.5 643.2 L1659.5 641.7 L1658.0 641.7 L1658.0 641.6 L1656.0 641.6 L1656.0 645.2 L1654.5 645.2 L1654.5 642.2 L1652.5 642.2 L1652.5 645.4 L1650.5 645.4 L1650.5 645.2 L1648.5 645.2 L1648.5 646.9 L1646.0 646.9 L1646.0 645.7 L1644.5 645.7 L1644.5 644.1 L1641.5 644.1 L1641.5 648.4 L1639.0 648.4 L1639.0 653.2 L1637.5 653.2 L1637.5 645.9 L1634.5 645.9 L1634.5 648.6 L1632.5 648.6 L1632.5 646.6 L1631.0 646.6 L1631.0 650.5 L1629.0 650.5 L1629.0 651.0 L1626.0 651.0 L1626.0 650.6 L1623.0 650.6 L1623.0 649.3 L1619.5 649.3 L1619.5 651.1 L1617.0 651.1 L1617.0 650.6 L1614.0 650.6 L1614.0 649.1 L1611.5 649.1 L1611.5 650.5 L1609.0 650.5 L1609.0 651.3 L1606.5 651.3 L1606.5 650.8 L1604.0 650.8 L1604.0 650.4 L1601.0 650.4 L1601.0 653.0 L1599.5 653.0 L1599.5 655.9 L1596.0 655.9 L1596.0 655.6 L1592.5 655.6 L1592.5 653.8 L1590.5 653.8 L1590.5 656.1 L1587.5 656.1 L1587.5 658.4 L1584.0 658.4 L1584.0 657.9 L1580.5 657.9 L1580.5 659.2 L1577.0 659.2 L1577.0 661.4 L1573.5 661.4 L1573.5 659.7 L1570.0 659.7 L1570.0 661.9 L1568.0 661.9 L1568.0 662.1 L1565.0 662.1 L1565.0 665.7 L1563.0 665.7 L1563.0 665.6 L1561.5 665.6 L1561.5 664.2 L1559.0 664.2 L1559.0 662.1 L1556.0 662.1 L1556.0 663.7 L1554.0 663.7 L1554.0 659.3 L1550.5 659.3 L1550.5 658.3 L1548.5 658.3 L1548.5 659.4 L1547.0 659.4 L1547.0 658.6 L1544.0 658.6 L1544.0 661.8 L1542.5 661.8 L1542.5 658.9 L1540.0 658.9 L1540.0 663.2 L1536.5 663.2 L1536.5 660.4 L1534.0 660.4 L1534.0 668.7 L1532.5 668.7 L1532.5 664.4 L1530.0 664.4 L1530.0 668.4 L1526.5 668.4 L1526.5 668.8 L1523.5 668.8 L1523.5 669.1 L1520.5 669.1 L1520.5 658.9 L1518.0 658.9 L1518.0 653.0 L1516.5 653.0 L1516.5 654.6 L1513.0 654.6 L1513.0 653.5 L1511.5 653.5 L1511.5 656.2 L1509.0 656.2 L1509.0 655.3 L1505.5 655.3 L1505.5 658.1 L1504.0 658.1 L1504.0 659.5 L1501.5 659.5 L1501.5 660.5 L1499.0 660.5 L1499.0 659.0 L1497.0 659.0 L1497.0 659.0 L1493.5 659.0 L1493.5 664.4 L1491.5 664.4 L1491.5 666.3 L1488.5 666.3 L1488.5 668.8 L1486.0 668.8 L1486.0 674.6 L1484.5 674.6 L1484.5 679.0 L1481.0 679.0 L1481.0 682.4 L1479.0 682.4 L1479.0 682.4 L1477.0 682.4 L1477.0 679.4 L1474.5 679.4 L1474.5 681.7 L1473.0 681.7 L1473.0 675.0 L1470.0 675.0 L1470.0 674.4 L1467.0 674.4 L1467.0 669.3 L1465.0 669.3 L1465.0 672.1 L1463.5 672.1 L1463.5 673.7 L1460.5 673.7 L1460.5 675.5 L1457.0 675.5 L1457.0 680.3 L1455.5 680.3 L1455.5 683.5 L1453.5 683.5 L1453.5 679.4 L1450.0 679.4 L1450.0 676.8 L1447.0 676.8 L1447.0 672.6 L1444.5 672.6 L1444.5 667.8 L1441.5 667.8 L1441.5 667.4 L1440.0 667.4 L1440.0 667.9 L1438.5 667.9 L1438.5 668.6 L1437.0 668.6 L1437.0 669.4 L1434.0 669.4 L1434.0 669.1 L1430.5 669.1 L1430.5 670.3 L1427.5 670.3 L1427.5 671.1 L1426.0 671.1 L1426.0 678.4 L1424.5 678.4 L1424.5 679.9 L1423.0 679.9 L1423.0 671.7 L1421.0 671.7 L1421.0 676.8 L1417.5 676.8 L1417.5 680.8 L1416.0 680.8 L1416.0 679.7 L1413.0 679.7 L1413.0 681.1 L1410.5 681.1 L1410.5 678.5 L1409.0 678.5 L1409.0 678.7 L1406.5 678.7 L1406.5 681.4 L1403.5 681.4 L1403.5 681.9 L1401.0 681.9 L1401.0 680.8 L1399.5 680.8 L1399.5 682.2 L1397.0 682.2 L1397.0 684.7 L1395.5 684.7 L1395.5 680.9 L1393.5 680.9 L1393.5 682.9 L1391.5 682.9 L1391.5 681.2 L1390.0 681.2 L1390.0 683.0 L1388.5 683.0 L1388.5 683.5 L1385.0 683.5 L1385.0 682.8 L1383.5 682.8 L1383.5 683.1 L1381.5 683.1 L1381.5 690.4 L1380.0 690.4 L1380.0 687.6 L1377.5 687.6 L1377.5 683.6 L1375.5 683.6 L1375.5 684.9 L1373.5 684.9 L1373.5 686.0 L1370.5 686.0 L1370.5 686.8 L1367.0 686.8 L1367.0 689.1 L1363.5 689.1 L1363.5 691.9 L1361.0 691.9 L1361.0 687.8 L1359.0 687.8 L1359.0 689.1 L1355.5 689.1 L1355.5 689.9 L1352.0 689.9 L1352.0 692.0 L1348.5 692.0 L1348.5 699.8 L1347.0 699.8 L1347.0 694.1 L1343.5 694.1 L1343.5 697.4 L1341.0 697.4 L1341.0 703.9 L1338.5 703.9 L1338.5 704.3 L1337.0 704.3 L1337.0 705.5 L1335.0 705.5 L1335.0 705.9 L1333.0 705.9 L1333.0 706.3 L1330.5 706.3 L1330.5 708.8 L1327.5 708.8 L1327.5 706.7 L1324.5 706.7 L1324.5 709.3 L1322.5 709.3 L1322.5 706.9 L1319.5 706.9 L1319.5 707.1 L1317.5 707.1 L1317.5 706.1 L1315.5 706.1 L1315.5 711.5 L1313.5 711.5 L1313.5 715.5 L1310.0 715.5 L1310.0 722.6 L1308.5 722.6 L1308.5 725.2 L1307.0 725.2 L1307.0 729.3 L1305.5 729.3 L1305.5 728.9 L1303.5 728.9 L1303.5 729.6 L1300.0 729.6 L1300.0 739.3 L1298.5 739.3 L1298.5 734.3 L1296.5 734.3 L1296.5 737.7 L1295.0 737.7 L1295.0 735.2 L1293.5 735.2 L1293.5 737.5 L1292.0 737.5 L1292.0 734.0 L1289.0 734.0 L1289.0 731.4 L1285.5 731.4 L1285.5 731.2 L1284.0 731.2 L1284.0 731.9 L1282.5 731.9 L1282.5 728.6 L1280.0 728.6 L1280.0 728.4 L1276.5 728.4 L1276.5 725.7 L1273.5 725.7 L1273.5 728.2 L1270.0 728.2 L1270.0 730.3 L1266.5 730.3 L1266.5 733.7 L1263.5 733.7 L1263.5 738.6 L1260.0 738.6 L1260.0 738.8 L1258.0 738.8 L1258.0 744.2 L1256.0 744.2 L1256.0 746.2 L1253.0 746.2 L1253.0 752.8 L1251.5 752.8 L1251.5 744.1 L1248.0 744.1 L1248.0 744.7 L1245.0 744.7 L1245.0 750.4 L1243.0 750.4 L1243.0 748.8 L1241.0 748.8 L1241.0 751.6 L1238.0 751.6 L1238.0 751.6 L1236.0 751.6 L1236.0 753.1 L1232.5 753.1 L1232.5 750.1 L1229.0 750.1 L1229.0 751.2 L1225.5 751.2 L1225.5 754.0 L1222.5 754.0 L1222.5 758.1 L1219.0 758.1 L1219.0 758.5 L1217.0 758.5 L1217.0 764.3 L1215.0 764.3 L1215.0 764.2 L1213.0 764.2 L1213.0 764.5 L1211.5 764.5 L1211.5 767.9 L1209.5 767.9 L1209.5 770.7 L1208.0 770.7 L1208.0 772.2 L1205.5 772.2 L1205.5 773.2 L1202.5 773.2 L1202.5 773.5 L1200.0 773.5 L1200.0 775.7 L1196.5 775.7 L1196.5 779.3 L1193.0 779.3 L1193.0 785.7 L1190.5 785.7 L1190.5 791.9 L1189.0 791.9 L1189.0 791.9 L1186.5 791.9 L1186.5 793.4 L1185.0 793.4 L1185.0 792.9 L1182.5 792.9 L1182.5 797.9 L1180.0 797.9 L1180.0 802.9 L1177.0 802.9 L1177.0 799.3 L1174.5 799.3 L1174.5 802.7 L1173.0 802.7 L1173.0 801.9 L1169.5 801.9 L1169.5 801.2 L1168.0 801.2 L1168.0 801.3 L1164.5 801.3 L1164.5 801.3 L1162.5 801.3 L1162.5 798.6 L1160.0 798.6 L1160.0 798.8 L1157.5 798.8 L1157.5 799.8 L1156.0 799.8 L1156.0 802.1 L1152.5 802.1 L1152.5 801.7 L1150.5 801.7 L1150.5 803.1 L1147.5 803.1 L1147.5 801.7 L1146.0 801.7 L1146.0 801.9 L1143.0 801.9 L1143.0 803.0 L1140.5 803.0 L1140.5 814.6 L1139.0 814.6 L1139.0 811.3 L1137.0 811.3 L1137.0 810.8 L1134.5 810.8 L1134.5 816.0 L1131.5 816.0 L1131.5 817.4 L1128.5 817.4 L1128.5 819.5 L1125.0 819.5 L1125.0 824.7 L1123.0 824.7 L1123.0 824.1 L1120.0 824.1 L1120.0 824.2 L1118.0 824.2 L1118.0 828.5 L1114.5 828.5 L1114.5 831.1 L1111.5 831.1 L1111.5 831.4 L1109.5 831.4 L1109.5 831.1 L1106.5 831.1 L1106.5 833.1 L1105.0 833.1 L1105.0 831.0 L1103.5 831.0 L1103.5 832.9 L1101.5 832.9 L1101.5 834.8 L1099.0 834.8 L1099.0 834.5 L1095.5 834.5 L1095.5 838.4 L1093.0 838.4 L1093.0 839.9 L1090.5 839.9 L1090.5 838.7 L1087.0 838.7 L1087.0 841.6 L1085.5 841.6 L1085.5 842.1 L1084.0 842.1 L1084.0 845.3 L1081.5 845.3 L1081.5 845.5 L1078.0 845.5 L1078.0 851.1 L1076.5 851.1 L1076.5 853.2 L1074.0 853.2 L1074.0 853.0 L1070.5 853.0 L1070.5 854.8 L1068.5 854.8 L1068.5 854.0 L1066.5 854.0 L1066.5 858.0 L1065.0 858.0 L1065.0 856.9 L1063.0 856.9 L1063.0 858.7 L1059.5 858.7 L1059.5 857.7 L1058.0 857.7 L1058.0 859.4 L1055.5 859.4 L1055.5 863.5 L1054.0 863.5 L1054.0 863.5 L1052.0 863.5 L1052.0 860.9 L1048.5 860.9 L1048.5 865.5 L1047.0 865.5 L1047.0 869.5 L1043.5 869.5 L1043.5 874.8 L1040.0 874.8 L1040.0 878.0 L1037.5 878.0 L1037.5 879.9 L1035.5 879.9 L1035.5 883.7 L1033.0 883.7 L1033.0 888.9 L1031.0 888.9 L1031.0 890.4 L1029.0 890.4 L1029.0 895.1 L1027.5 895.1 L1027.5 890.8 L1024.5 890.8 L1024.5 891.3 L1021.0 891.3 L1021.0 887.8 L1018.0 887.8 L1018.0 887.1 L1016.5 887.1 L1016.5 885.8 L1013.5 885.8 L1013.5 889.3 L1010.0 889.3 L1010.0 890.1 L1007.0 890.1 L1007.0 893.6 L1005.5 893.6 L1005.5 893.7 L1003.5 893.7 L1003.5 890.8 L1001.0 890.8 L1001.0 892.4 L999.5 892.4 L999.5 892.3 L996.5 892.3 L996.5 895.1 L994.5 895.1 L994.5 898.9 L991.5 898.9 L991.5 902.7 L989.5 902.7 L989.5 905.3 L986.0 905.3 L986.0 911.5 L982.5 911.5 L982.5 912.5 L981.0 912.5 L981.0 918.2 L978.0 918.2 L978.0 920.2 L976.5 920.2 L976.5 922.5 L974.5 922.5 L974.5 924.3 L972.5 924.3 L972.5 923.9 L969.0 923.9 L969.0 929.6 L966.0 929.6 L966.0 932.4 L962.5 932.4 L962.5 936.5 L961.0 936.5 L961.0 934.1 L958.0 934.1 L958.0 935.8 L956.5 935.8 L956.5 938.5 L955.0 938.5 L955.0 938.7 L953.5 938.7 L953.5 943.1 L950.0 943.1 L950.0 941.9 L946.5 941.9 L946.5 947.3 L943.5 947.3 L943.5 948.1 L942.0 948.1 L942.0 952.4 L939.5 952.4 L939.5 955.4 L938.0 955.4 L938.0 953.1 L935.0 953.1 L935.0 953.9 L932.5 953.9 L932.5 958.8 L929.5 958.8 L929.5 964.1 L926.5 964.1 L926.5 963.3 L925.0 963.3 L925.0 963.2 L923.5 963.2 L923.5 966.7 L922.0 966.7 L922.0 965.1 L919.5 965.1 L919.5 967.2 L917.0 967.2 L917.0 967.2 L913.5 967.2 L913.5 969.8 L911.0 969.8 L911.0 973.8 L909.0 973.8 L909.0 972.1 L906.0 972.1 L906.0 977.3 L902.5 977.3 L902.5 976.7 L901.0 976.7 L901.0 982.3 L898.0 982.3 L898.0 983.1 L895.5 983.1 L895.5 991.7 L894.0 991.7 L894.0 989.2 L890.5 989.2 L890.5 991.6 L887.0 991.6 L887.0 994.0 L884.0 994.0 L884.0 998.1 L881.0 998.1 L881.0 1000.4 L877.5 1000.4 L877.5 999.5 L874.5 999.5 L874.5 1003.1 L872.0 1003.1 L872.0 1001.0 L870.5 1001.0 L870.5 1002.0 L869.0 1002.0 L869.0 1006.7 L866.0 1006.7 L866.0 1005.1 L864.5 1005.1 L864.5 1008.3 L862.5 1008.3 L862.5 1007.7 L861.0 1007.7 L861.0 1010.3 L859.0 1010.3 L859.0 1015.6 L857.5 1015.6 L857.5 1012.6 L855.5 1012.6 L855.5 1015.6 L852.5 1015.6 L852.5 1022.8 L849.5 1022.8 L849.5 1025.1 L847.0 1025.1 L847.0 1027.0 L843.5 1027.0 L843.5 1027.9 L842.0 1027.9 L842.0 1031.5 L839.5 1031.5 L839.5 1034.7 L836.5 1034.7 L836.5 1033.9 L833.0 1033.9 L833.0 1039.8 L831.5 1039.8 L831.5 1039.7 L828.0 1039.7 L828.0 1044.0 L826.5 1044.0 L826.5 1042.0 L824.5 1042.0 L824.5 1047.2 L822.5 1047.2 L822.5 1048.2 L821.0 1048.2 L821.0 1052.5 L817.5 1052.5 L817.5 1059.6 L815.0 1059.6 L815.0 1063.2 L812.0 1063.2 L812.0 1062.5 L810.5 1062.5 L810.5 1066.2 L808.5 1066.2 L808.5 1063.3 L807.0 1063.3 L807.0 1064.7 L805.0 1064.7 L805.0 1065.4 L803.5 1065.4 L803.5 1069.6 L802.0 1069.6 L802.0 1067.9 L798.5 1067.9 L798.5 1068.0 L797.0 1068.0 L797.0 1073.2 L793.5 1073.2 L793.5 1073.0 L791.5 1073.0 L791.5 1071.8 L790.0 1071.8 L790.0 1076.1 L788.5 1076.1 L788.5 1074.7 L786.5 1074.7 L786.5 1073.5 L785.0 1073.5 L785.0 1074.9 L783.0 1074.9 L783.0 1077.3 L781.0 1077.3 L781.0 1072.5 L778.0 1072.5 L778.0 1070.4 L775.5 1070.4 L775.5 1070.3 L772.5 1070.3 L772.5 1073.4 L771.0 1073.4 L771.0 1077.1 L768.5 1077.1 L768.5 1077.7 L765.5 1077.7 L765.5 1079.4 L763.5 1079.4 L763.5 1082.7 L760.5 1082.7 L760.5 1082.0 L758.5 1082.0 L758.5 1084.8 L755.0 1084.8 L755.0 1088.6 L752.0 1088.6 L752.0 1091.5 L750.5 1091.5 L750.5 1090.5 L748.5 1090.5 L748.5 1092.3 L746.0 1092.3 L746.0 1093.2 L742.5 1093.2 L742.5 1094.5 L739.0 1094.5 L739.0 1098.0 L737.0 1098.0 L737.0 1095.3 L734.5 1095.3 L734.5 1095.9 L733.0 1095.9 L733.0 1098.7 L730.0 1098.7 L730.0 1099.1 L728.0 1099.1 L728.0 1099.1 L724.5 1099.1 L724.5 1103.2 L721.5 1103.2 L721.5 1103.8 L718.5 1103.8 L718.5 1103.8 L716.5 1103.8 L716.5 1104.4 L713.5 1104.4 L713.5 1106.6 L710.0 1106.6 L710.0 1109.9 L708.5 1109.9 L708.5 1106.5 L705.5 1106.5 L705.5 1107.4 L702.5 1107.4 L702.5 1107.4 L700.0 1107.4 L700.0 1106.5 L698.5 1106.5 L698.5 1106.5 L696.5 1106.5 L696.5 1105.4 L694.5 1105.4 L694.5 1109.7 L693.0 1109.7 L693.0 1108.9 L691.0 1108.9 L691.0 1108.3 L688.0 1108.3 L688.0 1111.6 L685.5 1111.6 L685.5 1110.4 L682.0 1110.4 L682.0 1113.4 L680.5 1113.4 L680.5 1115.5 L677.0 1115.5 L677.0 1112.0 L675.5 1112.0 L675.5 1112.9 L673.5 1112.9 L673.5 1116.3 L671.0 1116.3 L671.0 1115.8 L669.5 1115.8 L669.5 1115.0 L667.5 1115.0 L667.5 1116.7 L665.5 1116.7 L665.5 1117.2 L663.5 1117.2 L663.5 1119.3 L661.5 1119.3 L661.5 1119.5 L658.5 1119.5 L658.5 1117.3 L656.5 1117.3 L656.5 1119.4 L653.5 1119.4 L653.5 1118.5 L650.5 1118.5 L650.5 1122.0 L647.0 1122.0 L647.0 1120.2 L645.0 1120.2 L645.0 1118.6 L642.5 1118.6 L642.5 1122.7 L640.5 1122.7 L640.5 1121.4 L637.5 1121.4 L637.5 1122.1 L635.5 1122.1 L635.5 1120.8 L634.0 1120.8 L634.0 1121.7 L630.5 1121.7 L630.5 1124.2 L627.5 1124.2 L627.5 1122.3 L624.5 1122.3 L624.5 1123.5 L623.0 1123.5 L623.0 1124.5 L620.5 1124.5 L620.5 1122.3 L618.0 1122.3 L618.0 1124.3 L616.0 1124.3 L616.0 1126.3 L613.5 1126.3 L613.5 1127.8 L610.5 1127.8 L610.5 1124.5 L608.5 1124.5 L608.5 1129.3 L606.5 1129.3 L606.5 1130.6 L605.0 1130.6 L605.0 1130.3 L601.5 1130.3 L601.5 1130.5 L599.0 1130.5 L599.0 1131.0 L595.5 1131.0 L595.5 1133.2 L593.0 1133.2 L593.0 1130.3 L590.5 1130.3 L590.5 1134.5 L588.0 1134.5 L588.0 1134.9 L585.0 1134.9 L585.0 1134.0 L583.0 1134.0 L583.0 1133.2 L580.0 1133.2 L580.0 1134.6 L576.5 1134.6 L576.5 1136.2 L575.0 1136.2 L575.0 1137.0 L573.5 1137.0 L573.5 1134.6 L572.0 1134.6 L572.0 1135.6 L568.5 1135.6 L568.5 1137.5 L565.5 1137.5 L565.5 1137.0 L563.5 1137.0 L563.5 1137.2 L560.5 1137.2 L560.5 1140.7 L559.0 1140.7 L559.0 1138.5 L556.0 1138.5 L556.0 1141.7 L553.0 1141.7 L553.0 1144.2 L550.0 1144.2 L550.0 1140.9 L548.0 1140.9 L548.0 1141.0 L546.5 1141.0 L546.5 1146.1 L543.0 1146.1 L543.0 1151.1 L539.5 1151.1 L539.5 1156.9 L537.0 1156.9 L537.0 1156.8 L535.0 1156.8 L535.0 1160.1 L531.5 1160.1 L531.5 1158.4 L530.0 1158.4 L530.0 1162.1 L527.0 1162.1 L527.0 1161.6 L525.5 1161.6 L525.5 1164.2 L524.0 1164.2 L524.0 1160.6 L521.5 1160.6 L521.5 1164.1 L518.0 1164.1 L518.0 1164.6 L515.0 1164.6 L515.0 1164.8 L513.5 1164.8 L513.5 1168.5 L510.0 1168.5 L510.0 1171.1 L507.5 1171.1 L507.5 1171.6 L504.0 1171.6 L504.0 1168.5 L502.5 1168.5 L502.5 1172.1 L501.0 1172.1 L501.0 1170.3 L497.5 1170.3 L497.5 1175.9 L495.5 1175.9 L495.5 1173.0 L493.0 1173.0 L493.0 1176.3 L490.5 1176.3 L490.5 1176.1 L488.0 1176.1 L488.0 1179.9 L484.5 1179.9 L484.5 1178.8 L483.0 1178.8 L483.0 1177.1 L480.0 1177.1 L480.0 1179.2 L477.0 1179.2 L477.0 1179.8 L474.5 1179.8 L474.5 1181.5 L472.5 1181.5 L472.5 1184.7 L469.0 1184.7 L469.0 1185.7 L466.0 1185.7 L466.0 1187.3 L464.0 1187.3 L464.0 1190.2 L460.5 1190.2 L460.5 1190.5 L457.0 1190.5 L457.0 1196.1 L455.5 1196.1 L455.5 1197.5 L453.5 1197.5 L453.5 1197.4 L451.5 1197.4 L451.5 1198.6 L448.5 1198.6 L448.5 1202.4 L446.0 1202.4 L446.0 1199.7 L444.5 1199.7 L444.5 1202.4 L443.0 1202.4 L443.0 1203.8 L441.0 1203.8 L441.0 1203.9 L439.0 1203.9 L439.0 1207.4 L437.0 1207.4 L437.0 1206.4 L434.0 1206.4 L434.0 1209.5 L431.0 1209.5 L431.0 1208.5 L429.0 1208.5 L429.0 1213.4 L427.0 1213.4 L427.0 1212.5 L425.0 1212.5 L425.0 1210.6 L423.5 1210.6 L423.5 1213.9 L422.0 1213.9 L422.0 1215.1 L420.0 1215.1 L420.0 1213.6 L418.0 1213.6 L418.0 1217.2 L416.5 1217.2 L416.5 1215.5 L413.0 1215.5 L413.0 1216.2 L410.5 1216.2 L410.5 1220.2 L408.5 1220.2 L408.5 1219.9 L405.0 1219.9 L405.0 1218.8 L403.0 1218.8 L403.0 1222.8 L400.0 1222.8 L378.7 1233.6 L360.6 1254.2 L348.5 1256.0 L348.5 1362.0 L345.6 1362.0Z" fill="#0000ff"/>
<path d="M345.6 1019.0 L345.6 981.0 L357.0 979.0 L366.5 934.0 L368.8 887.0 L372.3 864.0 L378.2 841.0 L385.2 794.0 L399.3 747.0 L408.0 727.0 L413.8 717.0 L420.0 701.7 L421.5 701.7 L421.5 709.2 L423.0 709.2 L423.0 707.3 L425.0 707.3 L425.0 704.8 L427.0 704.8 L427.0 702.0 L428.5 702.0 L428.5 700.4 L430.0 700.4 L430.0 698.9 L432.5 698.9 L432.5 698.9 L435.5 698.9 L435.5 694.1 L438.5 694.1 L438.5 692.5 L440.5 692.5 L440.5 686.4 L442.0 686.4 L442.0 688.6 L444.0 688.6 L444.0 683.0 L447.0 683.0 L447.0 684.1 L448.5 684.1 L448.5 685.0 L452.0 685.0 L452.0 683.0 L453.5 683.0 L453.5 679.3 L456.0 679.3 L456.0 678.2 L457.5 678.2 L457.5 678.7 L460.0 678.7 L460.0 678.5 L463.0 678.5 L463.0 675.7 L465.5 675.7 L465.5 673.5 L467.0 673.5 L467.0 674.9 L469.0 674.9 L469.0 675.4 L471.5 675.4 L471.5 672.1 L473.0 672.1 L473.0 672.0 L475.0 672.0 L475.0 672.4 L478.5 672.4 L478.5 672.1 L482.0 672.1 L482.0 672.4 L485.5 672.4 L485.5 672.7 L488.5 672.7 L488.5 668.7 L491.5 668.7 L491.5 668.8 L493.0 668.8 L493.0 665.7 L496.0 665.7 L496.0 659.8 L499.0 659.8 L499.0 660.7 L502.0 660.7 L502.0 655.2 L504.5 655.2 L504.5 654.9 L507.0 654.9 L507.0 650.7 L510.5 650.7 L510.5 650.7 L514.0 650.7 L514.0 644.6 L517.0 644.6 L517.0 645.1 L518.5 645.1 L518.5 642.1 L521.0 642.1 L521.0 634.0 L522.5 634.0 L522.5 638.1 L525.5 638.1 L525.5 632.3 L527.0 632.3 L527.0 629.6 L529.5 629.6 L529.5 629.3 L533.0 629.3 L533.0 624.2 L535.5 624.2 L535.5 621.4 L539.0 621.4 L539.0 614.2 L542.5 614.2 L542.5 611.0 L546.0 611.0 L546.0 607.6 L548.0 607.6 L548.0 600.9 L551.5 600.9 L551.5 598.5 L553.0 598.5 L553.0 598.9 L555.5 598.9 L555.5 592.6 L559.0 592.6 L559.0 590.5 L561.5 590.5 L561.5 591.6 L564.0 591.6 L564.0 587.9 L566.0 587.9 L566.0 591.1 L568.0 591.1 L568.0 585.7 L569.5 585.7 L569.5 587.1 L573.0 587.1 L573.0 586.8 L576.5 586.8 L576.5 580.0 L578.0 580.0 L578.0 582.5 L580.5 582.5 L580.5 582.6 L583.5 582.6 L583.5 584.9 L585.0 584.9 L585.0 581.1 L588.0 581.1 L588.0 579.7 L591.0 579.7 L591.0 579.8 L594.5 579.8 L594.5 580.6 L597.0 580.6 L597.0 575.1 L600.5 575.1 L600.5 575.9 L604.0 575.9 L604.0 572.7 L607.0 572.7 L607.0 563.0 L608.5 563.0 L608.5 570.5 L610.5 570.5 L610.5 564.6 L612.0 564.6 L612.0 572.1 L615.5 572.1 L615.5 566.6 L619.0 566.6 L619.0 565.7 L621.5 565.7 L621.5 565.1 L625.0 565.1 L625.0 561.9 L627.5 561.9 L627.5 559.4 L630.5 559.4 L630.5 556.9 L632.5 556.9 L632.5 555.2 L636.0 555.2 L636.0 555.8 L639.0 555.8 L639.0 555.0 L641.0 555.0 L641.0 554.7 L643.5 554.7 L643.5 553.1 L647.0 553.1 L647.0 548.6 L649.0 548.6 L649.0 542.9 L650.5 542.9 L650.5 540.9 L654.0 540.9 L654.0 540.0 L657.0 540.0 L657.0 540.4 L660.5 540.4 L660.5 541.7 L663.5 541.7 L663.5 543.3 L666.5 543.3 L666.5 543.9 L669.0 543.9 L669.0 543.1 L672.0 543.1 L672.0 546.5 L675.0 546.5 L675.0 547.1 L678.0 547.1 L678.0 545.6 L680.0 545.6 L680.0 547.2 L683.0 547.2 L683.0 545.8 L685.0 545.8 L685.0 550.6 L687.5 550.6 L687.5 549.5 L691.0 549.5 L691.0 547.5 L693.5 547.5 L693.5 544.2 L695.0 544.2 L695.0 545.8 L696.5 545.8 L696.5 544.9 L699.5 544.9 L699.5 539.8 L702.5 539.8 L702.5 537.3 L704.0 537.3 L704.0 529.2 L705.5 529.2 L705.5 535.1 L708.0 535.1 L708.0 536.5 L711.5 536.5 L711.5 535.3 L713.0 535.3 L713.0 536.0 L714.5 536.0 L714.5 535.5 L717.0 535.5 L717.0 539.1 L720.0 539.1 L720.0 539.8 L722.0 539.8 L722.0 540.4 L725.0 540.4 L725.0 538.6 L726.5 538.6 L726.5 536.7 L730.0 536.7 L730.0 537.9 L732.0 537.9 L732.0 533.7 L735.0 533.7 L735.0 533.3 L737.5 533.3 L737.5 531.7 L739.5 531.7 L739.5 530.9 L742.0 530.9 L742.0 528.7 L745.0 528.7 L745.0 529.9 L747.0 529.9 L747.0 526.4 L750.5 526.4 L750.5 527.4 L752.0 527.4 L752.0 529.7 L755.5 529.7 L755.5 530.3 L759.0 530.3 L759.0 528.6 L760.5 528.6 L760.5 530.2 L763.5 530.2 L763.5 528.6 L767.0 528.6 L767.0 529.8 L769.0 529.8 L769.0 525.2 L772.0 525.2 L772.0 522.1 L775.0 522.1 L775.0 519.9 L778.5 519.9 L778.5 515.7 L781.5 515.7 L781.5 513.6 L783.0 513.6 L783.0 511.1 L786.0 511.1 L786.0 510.7 L787.5 510.7 L787.5 508.5 L790.5 508.5 L790.5 507.4 L794.0 507.4 L794.0 506.2 L796.5 506.2 L796.5 506.5 L798.0 506.5 L798.0 501.2 L801.0 501.2 L801.0 501.3 L802.5 501.3 L802.5 500.2 L805.5 500.2 L805.5 497.7 L807.0 497.7 L807.0 495.8 L810.0 495.8 L810.0 490.7 L813.0 490.7 L813.0 491.0 L814.5 491.0 L814.5 492.6 L817.5 492.6 L817.5 494.2 L819.0 494.2 L819.0 491.1 L820.5 491.1 L820.5 491.3 L823.5 491.3 L823.5 493.3 L827.0 493.3 L827.0 492.4 L829.0 492.4 L829.0 493.5 L832.5 493.5 L832.5 496.1 L836.0 496.1 L836.0 493.4 L838.0 493.4 L838.0 491.1 L840.0 491.1 L840.0 489.7 L843.0 489.7 L843.0 486.2 L844.5 486.2 L844.5 486.2 L846.5 486.2 L846.5 481.7 L848.5 481.7 L848.5 483.1 L852.0 483.1 L852.0 482.0 L853.5 482.0 L853.5 481.8 L855.0 481.8 L855.0 484.5 L858.5 484.5 L858.5 484.3 L861.0 484.3 L861.0 485.0 L864.0 485.0 L864.0 483.1 L867.5 483.1 L867.5 485.7 L870.5 485.7 L870.5 482.9 L874.0 482.9 L874.0 480.9 L877.0 480.9 L877.0 483.9 L879.5 483.9 L879.5 480.8 L881.5 480.8 L881.5 480.7 L884.5 480.7 L884.5 479.0 L887.5 479.0 L887.5 478.3 L890.0 478.3 L890.0 481.7 L892.5 481.7 L892.5 481.9 L895.5 481.9 L895.5 486.3 L898.0 486.3 L898.0 479.6 L899.5 479.6 L899.5 489.6 L903.0 489.6 L903.0 491.1 L905.0 491.1 L905.0 490.0 L908.0 490.0 L908.0 491.1 L911.0 491.1 L911.0 491.0 L913.0 491.0 L913.0 488.2 L914.5 488.2 L914.5 488.3 L916.5 488.3 L916.5 486.8 L919.5 486.8 L919.5 486.4 L922.5 486.4 L922.5 482.6 L926.0 482.6 L926.0 479.1 L928.5 479.1 L928.5 481.3 L931.0 481.3 L931.0 478.5 L934.5 478.5 L934.5 475.0 L936.5 475.0 L936.5 479.0 L939.0 479.0 L939.0 480.1 L942.0 480.1 L942.0 479.4 L943.5 479.4 L943.5 481.1 L947.0 481.1 L947.0 487.5 L950.5 487.5 L950.5 493.5 L952.5 493.5 L952.5 498.8 L955.5 498.8 L955.5 506.0 L959.0 506.0 L959.0 503.7 L962.5 503.7 L962.5 504.0 L966.0 504.0 L966.0 507.0 L969.5 507.0 L969.5 505.5 L973.0 505.5 L973.0 501.1 L975.0 501.1 L975.0 499.4 L977.5 499.4 L977.5 496.4 L979.0 496.4 L979.0 497.9 L982.5 497.9 L982.5 499.5 L986.0 499.5 L986.0 500.7 L989.0 500.7 L989.0 503.9 L991.5 503.9 L991.5 506.7 L994.0 506.7 L994.0 507.8 L997.0 507.8 L997.0 511.1 L999.0 511.1 L999.0 515.6 L1000.5 515.6 L1000.5 519.1 L1004.0 519.1 L1004.0 524.3 L1006.0 524.3 L1006.0 528.0 L1009.5 528.0 L1009.5 521.5 L1012.0 521.5 L1012.0 515.8 L1015.5 515.8 L1015.5 511.9 L1017.5 511.9 L1017.5 509.7 L1020.0 509.7 L1020.0 508.5 L1021.5 508.5 L1021.5 505.1 L1024.5 505.1 L1024.5 501.8 L1026.5 501.8 L1026.5 500.4 L1029.0 500.4 L1029.0 500.5 L1032.0 500.5 L1032.0 500.9 L1034.0 500.9 L1034.0 506.3 L1036.5 506.3 L1036.5 504.8 L1038.5 504.8 L1038.5 509.0 L1041.5 509.0 L1041.5 501.7 L1043.0 501.7 L1043.0 508.8 L1046.0 508.8 L1046.0 508.2 L1048.0 508.2 L1048.0 510.1 L1051.5 510.1 L1051.5 511.6 L1053.5 511.6 L1053.5 511.0 L1056.5 511.0 L1056.5 514.1 L1059.0 514.1 L1059.0 514.1 L1060.5 514.1 L1060.5 510.8 L1062.5 510.8 L1062.5 513.1 L1065.0 513.1 L1065.0 516.0 L1068.5 516.0 L1068.5 519.9 L1070.5 519.9 L1070.5 518.8 L1073.5 518.8 L1073.5 517.9 L1075.0 517.9 L1075.0 517.9 L1077.0 517.9 L1077.0 520.1 L1079.0 520.1 L1079.0 516.4 L1081.5 516.4 L1081.5 516.7 L1085.0 516.7 L1085.0 515.2 L1087.0 515.2 L1087.0 513.2 L1089.5 513.2 L1089.5 513.6 L1092.0 513.6 L1092.0 514.2 L1095.5 514.2 L1095.5 514.2 L1097.0 514.2 L1097.0 513.0 L1099.5 513.0 L1099.5 515.3 L1102.5 515.3 L1102.5 514.0 L1106.0 514.0 L1106.0 513.6 L1109.5 513.6 L1109.5 521.1 L1111.0 521.1 L1111.0 523.3 L1112.5 523.3 L1112.5 528.9 L1116.0 528.9 L1116.0 530.9 L1118.5 530.9 L1118.5 526.1 L1121.5 526.1 L1121.5 527.4 L1125.0 527.4 L1125.0 524.8 L1128.5 524.8 L1128.5 524.5 L1132.0 524.5 L1132.0 525.5 L1135.0 525.5 L1135.0 516.7 L1136.5 516.7 L1136.5 521.5 L1140.0 521.5 L1140.0 519.3 L1143.5 519.3 L1143.5 522.9 L1145.5 522.9 L1145.5 520.4 L1148.0 520.4 L1148.0 524.4 L1150.0 524.4 L1150.0 521.0 L1153.0 521.0 L1153.0 523.5 L1156.0 523.5 L1156.0 524.5 L1158.0 524.5 L1158.0 524.8 L1160.5 524.8 L1160.5 523.8 L1163.0 523.8 L1163.0 525.1 L1166.5 525.1 L1166.5 525.5 L1169.5 525.5 L1169.5 527.2 L1171.5 527.2 L1171.5 527.4 L1173.0 527.4 L1173.0 528.9 L1176.5 528.9 L1176.5 526.9 L1178.0 526.9 L1178.0 532.0 L1180.5 532.0 L1180.5 531.5 L1182.5 531.5 L1182.5 530.4 L1184.0 530.4 L1184.0 526.3 L1185.5 526.3 L1185.5 533.6 L1188.5 533.6 L1188.5 532.1 L1191.0 532.1 L1191.0 532.9 L1192.5 532.9 L1192.5 537.0 L1194.5 537.0 L1194.5 535.6 L1198.0 535.6 L1198.0 538.7 L1200.5 538.7 L1200.5 541.5 L1203.0 541.5 L1203.0 545.0 L1205.0 545.0 L1205.0 544.4 L1208.5 544.4 L1208.5 542.2 L1212.0 542.2 L1212.0 545.9 L1214.5 545.9 L1214.5 543.2 L1217.5 543.2 L1217.5 544.2 L1220.0 544.2 L1220.0 543.2 L1222.5 543.2 L1222.5 540.6 L1224.0 540.6 L1224.0 540.9 L1227.5 540.9 L1227.5 541.0 L1230.0 541.0 L1230.0 534.7 L1231.5 534.7 L1231.5 538.7 L1233.0 538.7 L1233.0 540.2 L1234.5 540.2 L1234.5 541.9 L1237.5 541.9 L1237.5 538.4 L1240.5 538.4 L1240.5 539.8 L1243.5 539.8 L1243.5 537.3 L1245.5 537.3 L1245.5 541.3 L1247.5 541.3 L1247.5 541.8 L1249.0 541.8 L1249.0 541.3 L1250.5 541.3 L1250.5 539.7 L1253.0 539.7 L1253.0 543.7 L1255.0 543.7 L1255.0 543.6 L1257.5 543.6 L1257.5 543.9 L1260.0 543.9 L1260.0 541.7 L1263.0 541.7 L1263.0 543.5 L1265.5 543.5 L1265.5 546.1 L1269.0 546.1 L1269.0 551.0 L1271.5 551.0 L1271.5 556.3 L1274.5 556.3 L1274.5 550.9 L1276.0 550.9 L1276.0 557.4 L1279.5 557.4 L1279.5 556.0 L1281.0 556.0 L1281.0 550.2 L1282.5 550.2 L1282.5 559.1 L1284.0 559.1 L1284.0 559.4 L1287.5 559.4 L1287.5 563.1 L1290.5 563.1 L1290.5 560.2 L1294.0 560.2 L1294.0 561.4 L1296.5 561.4 L1296.5 563.4 L1298.5 563.4 L1298.5 563.1 L1301.5 563.1 L1301.5 562.9 L1304.5 562.9 L1304.5 564.3 L1307.5 564.3 L1307.5 567.7 L1309.5 567.7 L1309.5 564.0 L1311.0 564.0 L1311.0 564.3 L1314.5 564.3 L1314.5 563.5 L1316.5 563.5 L1316.5 565.2 L1320.0 565.2 L1320.0 563.5 L1322.0 563.5 L1322.0 566.2 L1325.5 566.2 L1325.5 562.9 L1327.0 562.9 L1327.0 566.4 L1330.0 566.4 L1330.0 565.7 L1333.0 565.7 L1333.0 565.9 L1335.5 565.9 L1335.5 564.1 L1339.0 564.1 L1339.0 566.3 L1341.5 566.3 L1341.5 565.1 L1345.0 565.1 L1345.0 566.5 L1347.5 566.5 L1347.5 566.9 L1349.5 566.9 L1349.5 567.4 L1351.5 567.4 L1351.5 566.4 L1353.5 566.4 L1353.5 567.1 L1356.5 567.1 L1356.5 568.2 L1358.5 568.2 L1358.5 566.8 L1360.5 566.8 L1360.5 564.7 L1363.5 564.7 L1363.5 565.3 L1365.0 565.3 L1365.0 569.3 L1368.5 569.3 L1368.5 568.3 L1371.5 568.3 L1371.5 568.2 L1375.0 568.2 L1375.0 566.7 L1378.0 566.7 L1378.0 568.7 L1380.0 568.7 L1380.0 566.4 L1383.0 566.4 L1383.0 565.4 L1385.0 565.4 L1385.0 568.9 L1388.5 568.9 L1388.5 569.6 L1391.0 569.6 L1391.0 565.6 L1393.5 565.6 L1393.5 567.4 L1397.0 567.4 L1397.0 568.4 L1399.0 568.4 L1399.0 569.9 L1402.5 569.9 L1402.5 566.4 L1404.0 566.4 L1404.0 568.6 L1407.0 568.6 L1407.0 569.8 L1409.0 569.8 L1409.0 566.8 L1411.5 566.8 L1411.5 565.6 L1413.5 565.6 L1413.5 570.2 L1415.0 570.2 L1415.0 566.5 L1418.5 566.5 L1418.5 570.3 L1421.5 570.3 L1421.5 567.9 L1425.0 567.9 L1425.0 566.1 L1428.0 566.1 L1428.0 568.1 L1430.5 568.1 L1430.5 566.6 L1432.5 566.6 L1432.5 566.0 L1434.0 566.0 L1434.0 569.6 L1437.5 569.6 L1437.5 568.0 L1440.5 568.0 L1440.5 566.7 L1443.0 566.7 L1443.0 569.9 L1445.5 569.9 L1445.5 566.7 L1447.5 566.7 L1447.5 570.2 L1449.0 570.2 L1449.0 566.6 L1451.0 566.6 L1451.0 569.5 L1452.5 569.5 L1452.5 569.2 L1455.5 569.2 L1455.5 566.7 L1459.0 566.7 L1459.0 567.7 L1462.5 567.7 L1462.5 570.0 L1466.0 570.0 L1466.0 569.2 L1467.5 569.2 L1467.5 568.1 L1470.5 568.1 L1470.5 569.0 L1473.5 569.0 L1473.5 566.5 L1475.0 566.5 L1475.0 569.2 L1478.5 569.2 L1478.5 570.0 L1482.0 570.0 L1482.0 567.2 L1484.5 567.2 L1484.5 569.2 L1487.0 569.2 L1487.0 567.0 L1489.5 567.0 L1489.5 569.5 L1491.5 569.5 L1491.5 569.3 L1493.0 569.3 L1493.0 569.0 L1496.0 569.0 L1496.0 570.4 L1499.5 570.4 L1499.5 567.0 L1501.5 567.0 L1501.5 570.3 L1503.0 570.3 L1503.0 567.4 L1506.5 567.4 L1506.5 570.1 L1508.5 570.1 L1508.5 568.6 L1511.5 568.6 L1511.5 567.5 L1514.0 567.5 L1514.0 568.0 L1515.5 568.0 L1515.5 566.7 L1517.0 566.7 L1517.0 568.3 L1520.0 568.3 L1520.0 568.0 L1523.5 568.0 L1523.5 567.0 L1526.5 567.0 L1526.5 565.7 L1530.0 565.7 L1530.0 565.9 L1533.0 565.9 L1533.0 568.4 L1536.0 568.4 L1536.0 569.5 L1539.0 569.5 L1539.0 568.1 L1542.0 568.1 L1542.0 568.0 L1545.0 568.0 L1545.0 568.5 L1547.5 568.5 L1547.5 568.0 L1549.0 568.0 L1549.0 569.9 L1551.5 569.9 L1551.5 568.3 L1554.5 568.3 L1554.5 567.2 L1557.0 567.2 L1557.0 568.3 L1559.0 568.3 L1559.0 568.1 L1561.0 568.1 L1561.0 565.4 L1564.0 565.4 L1564.0 566.6 L1567.5 566.6 L1567.5 566.8 L1571.0 566.8 L1571.0 567.0 L1572.5 567.0 L1572.5 568.8 L1575.0 568.8 L1575.0 569.3 L1578.0 569.3 L1578.0 568.0 L1581.5 568.0 L1581.5 569.5 L1584.0 569.5 L1584.0 566.8 L1587.5 566.8 L1587.5 564.7 L1589.0 564.7 L1589.0 565.4 L1592.5 565.4 L1592.5 567.2 L1596.0 567.2 L1596.0 566.6 L1599.5 566.6 L1599.5 565.6 L1601.5 565.6 L1601.5 566.4 L1605.0 566.4 L1605.0 565.7 L1607.5 565.7 L1607.5 568.7 L1610.0 568.7 L1610.0 560.8 L1611.5 560.8 L1611.5 565.8 L1615.0 565.8 L1615.0 568.9 L1618.0 568.9 L1618.0 565.9 L1619.5 565.9 L1619.5 565.2 L1623.0 565.2 L1623.0 566.8 L1624.5 566.8 L1624.5 566.8 L1627.0 566.8 L1627.0 565.3 L1630.5 565.3 L1630.5 564.6 L1633.5 564.6 L1633.5 566.0 L1635.5 566.0 L1635.5 565.7 L1637.5 565.7 L1637.5 564.3 L1641.0 564.3 L1641.0 564.9 L1644.5 564.9 L1644.5 568.2 L1648.0 568.2 L1648.0 562.2 L1649.5 562.2 L1649.5 566.7 L1651.5 566.7 L1651.5 568.2 L1653.0 568.2 L1653.0 565.6 L1655.5 565.6 L1655.5 564.4 L1657.5 564.4 L1657.5 567.2 L1660.5 567.2 L1660.5 567.8 L1663.5 567.8 L1663.5 566.7 L1665.5 566.7 L1665.5 563.9 L1668.5 563.9 L1668.5 564.5 L1671.0 564.5 L1671.0 568.2 L1674.5 568.2 L1674.5 565.3 L1677.5 565.3 L1677.5 568.0 L1679.0 568.0 L1679.0 564.4 L1682.0 564.4 L1682.0 565.1 L1684.0 565.1 L1684.0 564.0 L1686.0 564.0 L1686.0 565.0 L1689.5 565.0 L1689.5 565.2 L1693.0 565.2 L1693.0 564.1 L1696.0 564.1 L1696.0 567.5 L1697.5 567.5 L1697.5 566.3 L1700.5 566.3 L1700.5 563.7 L1703.5 563.7 L1703.5 567.8 L1705.5 567.8 L1705.5 566.3 L1707.0 566.3 L1707.0 566.7 L1709.5 566.7 L1709.5 569.2 L1712.5 569.2 L1712.5 566.2 L1715.5 566.2 L1715.5 568.4 L1718.0 568.4 L1718.0 566.2 L1720.5 566.2 L1720.5 565.6 L1722.0 565.6 L1722.0 570.0 L1725.0 570.0 L1725.0 570.3 L1728.5 570.3 L1728.5 568.9 L1731.5 568.9 L1731.5 566.5 L1733.5 566.5 L1733.5 570.2 L1736.0 570.2 L1736.0 567.3 L1738.0 567.3 L1738.0 566.9 L1739.5 566.9 L1739.5 567.3 L1743.0 567.3 L1743.0 570.1 L1744.5 570.1 L1744.5 570.8 L1748.0 570.8 L1748.0 567.8 L1751.0 567.8 L1751.0 569.6 L1753.0 569.6 L1753.0 571.0 L1755.0 571.0 L1755.0 571.4 L1758.5 571.4 L1758.5 568.2 L1761.0 568.2 L1761.0 571.6 L1764.0 571.6 L1764.0 568.5 L1766.5 568.5 L1766.5 568.3 L1769.0 568.3 L1769.0 569.8 L1771.5 569.8 L1771.5 569.7 L1775.0 569.7 L1775.0 569.7 L1778.0 569.7 L1778.0 572.3 L1781.5 572.3 L1781.5 569.7 L1784.5 569.7 L1784.5 570.2 L1786.5 570.2 L1786.5 569.5 L1788.5 569.5 L1788.5 570.0 L1791.5 570.0 L1791.5 569.8 L1793.0 569.8 L1793.0 572.2 L1795.0 572.2 L1795.0 574.3 L1798.5 574.3 L1798.5 571.3 L1801.0 571.3 L1801.0 577.8 L1802.5 577.8 L1802.5 581.4 L1804.5 581.4 L1804.5 586.3 L1808.0 586.3 L1808.0 585.3 L1811.5 585.3 L1811.5 584.2 L1814.5 584.2 L1814.5 582.5 L1816.5 582.5 L1816.5 583.2 L1818.0 583.2 L1818.0 585.7 L1820.5 585.7 L1820.5 577.1 L1822.0 577.1 L1822.0 583.9 L1825.0 583.9 L1825.0 582.2 L1827.0 582.2 L1827.0 586.3 L1830.0 586.3 L1830.0 585.0 L1832.0 585.0 L1832.0 586.5 L1833.5 586.5 L1833.5 582.4 L1836.0 582.4 L1836.0 583.9 L1839.5 583.9 L1839.5 583.7 L1841.5 583.7 L1841.5 584.1 L1843.0 584.1 L1843.0 578.4 L1846.0 578.4 L1846.0 575.3 L1848.5 575.3 L1848.5 574.9 L1850.0 574.9 L1850.0 575.8 L1853.5 575.8 L1853.5 572.6 L1856.5 572.6 L1856.5 573.7 L1858.0 573.7 L1858.0 573.5 L1860.5 573.5 L1860.5 572.8 L1862.5 572.8 L1862.5 573.2 L1865.5 573.2 L1865.5 576.0 L1867.0 576.0 L1867.0 572.3 L1868.5 572.3 L1868.5 573.4 L1871.5 573.4 L1871.5 575.0 L1875.0 575.0 L1875.0 572.1 L1877.5 572.1 L1877.5 574.3 L1880.0 574.3 L1880.0 574.7 L1882.0 574.7 L1882.0 575.1 L1883.5 575.1 L1883.5 572.4 L1885.5 572.4 L1885.5 573.8 L1889.0 573.8 L1889.0 570.1 L1890.5 570.1 L1890.5 573.6 L1894.0 573.6 L1894.0 574.9 L1897.0 574.9 L1897.0 574.0 L1899.0 574.0 L1899.0 574.4 L1900.5 574.4 L1900.5 575.6 L1904.0 575.6 L1904.0 574.5 L1905.5 574.5 L1905.5 575.3 L1907.0 575.3 L1907.0 574.9 L1910.5 574.9 L1910.5 575.4 L1912.5 575.4 L1912.5 574.3 L1915.0 574.3 L1915.0 573.6 L1917.0 573.6 L1917.0 571.6 L1920.0 571.6 L1920.0 572.0 L1923.0 572.0 L1923.0 570.9 L1926.0 570.9 L1926.0 572.9 L1927.5 572.9 L1927.5 570.6 L1930.5 570.6 L1930.5 572.8 L1933.0 572.8 L1933.0 575.3 L1935.0 575.3 L1935.0 575.1 L1938.5 575.1 L1938.5 574.7 L1940.0 574.7 L1940.0 575.6 L1942.0 575.6 L1942.0 573.3 L1945.0 573.3 L1945.0 574.7 L1948.0 574.7 L1948.0 573.8 L1950.0 573.8 L1950.0 578.0 L1953.5 578.0 L1953.5 578.0 L1956.0 578.0 L1956.0 577.7 L1959.5 577.7 L1959.5 578.9 L1962.0 578.9 L1962.0 576.0 L1963.5 576.0 L1963.5 576.6 L1965.5 576.6 L1965.5 578.2 L1968.0 578.2 L1968.0 579.0 L1971.5 579.0 L1971.5 575.1 L1974.5 575.1 L1974.5 579.7 L1977.0 579.7 L1977.0 568.7 L1978.5 568.7 L1978.5 576.9 L1981.0 576.9 L1981.0 573.4 L1982.5 573.4 L1982.5 569.7 L1984.5 569.7 L1984.5 570.1 L1986.0 570.1 L1986.0 567.0 L1989.0 567.0 L1989.0 569.9 L1990.5 569.9 L1990.5 565.4 L1994.0 565.4 L1994.0 573.2 L1996.5 573.2 L1996.5 580.2 L1998.5 580.2 L1998.5 586.2 L2000.5 586.2 L2000.5 585.5 L2004.0 585.5 L2004.0 583.6 L2005.5 583.6 L2005.5 583.8 L2007.0 583.8 L2007.0 586.9 L2010.5 586.9 L2010.5 575.5 L2012.0 575.5 L2012.0 582.3 L2015.0 582.3 L2015.0 581.2 L2016.5 581.2 L2016.5 581.6 L2020.0 581.6 L2020.0 578.1 L2021.5 578.1 L2021.5 579.8 L2023.0 579.8 L2023.0 580.5 L2024.5 580.5 L2024.5 583.5 L2028.0 583.5 L2028.0 584.1 L2031.5 584.1 L2031.5 581.4 L2034.0 581.4 L2034.0 580.5 L2035.5 580.5 L2035.5 578.7 L2038.0 578.7 L2038.0 581.3 L2041.0 581.3 L2041.0 582.1 L2043.0 582.1 L2043.0 583.2 L2046.5 583.2 L2046.5 581.2 L2048.0 581.2 L2048.0 584.0 L2049.5 584.0 L2049.5 584.3 L2052.0 584.3 L2052.0 583.9 L2055.0 583.9 L2055.0 585.4 L2057.0 585.4 L2057.0 586.7 L2058.5 586.7 L2058.5 587.3 L2060.0 587.3 L2060.0 586.9 L2061.5 586.9 L2061.5 587.3 L2065.0 587.3 L2065.0 586.4 L2067.0 586.4 L2067.0 585.5 L2070.5 585.5 L2070.5 590.1 L2073.0 590.1 L2073.0 586.6 L2075.5 586.6 L2075.5 586.4 L2078.0 586.4 L2078.0 587.9 L2080.0 587.9 L2080.0 589.0 L2082.0 589.0 L2082.0 589.9 L2085.5 589.9 L2085.5 582.2 L2087.0 582.2 L2087.0 586.6 L2089.5 586.6 L2089.5 587.9 L2091.0 587.9 L2091.0 591.1 L2092.5 591.1 L2092.5 587.0 L2094.0 587.0 L2094.0 587.3 L2096.5 587.3 L2096.5 588.0 L2100.0 588.0 L2100.0 586.4 L2103.0 586.4 L2103.0 588.0 L2106.5 588.0 L2106.5 588.8 L2110.0 588.8 L2110.0 588.8 L2112.5 588.8 L2112.5 589.2 L2115.0 589.2 L2115.0 591.2 L2118.5 591.2 L2118.5 594.4 L2122.0 594.4 L2122.0 595.1 L2125.5 595.1 L2125.5 600.5 L2127.5 600.5 L2127.5 600.9 L2130.5 600.9 L2130.5 605.6 L2133.5 605.6 L2133.5 601.5 L2135.0 601.5 L2135.0 600.8 L2136.5 600.8 L2136.5 598.9 L2140.0 598.9 L2140.0 595.0 L2143.0 595.0 L2143.0 597.0 L2145.0 597.0 L2145.0 592.3 L2147.5 592.3 L2147.5 594.1 L2149.5 594.1 L2149.5 592.6 L2153.0 592.6 L2153.0 591.0 L2154.5 591.0 L2154.5 588.1 L2158.0 588.1 L2158.0 581.3 L2161.0 581.3 L2161.0 579.9 L2162.5 579.9 L2162.5 580.7 L2165.0 580.7 L2165.0 575.3 L2167.5 575.3 L2167.5 572.4 L2170.5 572.4 L2170.5 567.9 L2174.0 567.9 L2174.0 572.4 L2176.5 572.4 L2176.5 575.9 L2178.5 575.9 L2178.5 579.5 L2181.0 579.5 L2181.0 584.1 L2184.5 584.1 L2184.5 590.0 L2187.5 590.0 L2187.5 600.0 L2190.5 600.0 L2190.5 598.8 L2192.5 598.8 L2192.5 597.4 L2194.0 597.4 L2194.0 594.1 L2197.5 594.1 L2197.5 592.4 L2201.0 592.4 L2201.0 586.7 L2203.0 586.7 L2203.0 577.8 L2204.5 577.8 L2204.5 582.7 L2206.0 582.7 L2206.0 579.4 L2208.5 579.4 L2208.5 578.3 L2211.5 578.3 L2211.5 573.6 L2213.5 573.6 L2213.5 576.3 L2217.0 576.3 L2217.0 579.2 L2220.5 579.2 L2220.5 581.5 L2223.5 581.5 L2223.5 579.3 L2225.0 579.3 L2225.0 582.4 L2227.5 582.4 L2227.5 580.5 L2230.5 580.5 L2230.5 580.9 L2232.5 580.9 L2232.5 582.5 L2235.0 582.5 L2235.0 586.4 L2238.0 586.4 L2238.0 585.9 L2240.5 585.9 L2240.5 588.6 L2243.5 588.6 L2243.5 587.3 L2245.0 587.3 L2245.0 591.4 L2248.5 591.4 L2248.5 592.3 L2251.0 592.3 L2251.0 593.9 L2254.5 593.9 L2254.5 594.9 L2258.0 594.9 L2258.0 596.3 L2259.5 596.3 L2259.5 595.8 L2262.0 595.8 L2262.0 593.4 L2264.5 593.4 L2264.5 591.2 L2267.5 591.2 L2267.5 590.6 L2271.0 590.6 L2271.0 594.3 L2274.0 594.3 L2274.0 591.1 L2277.5 591.1 L2277.5 595.5 L2279.0 595.5 L2279.0 595.7 L2282.0 595.7 L2282.0 596.6 L2285.5 596.6 L2285.5 596.5 L2287.5 596.5 L2287.5 596.7 L2289.5 596.7 L2289.5 597.5 L2291.5 597.5 L2291.5 602.3 L2295.0 602.3 L2295.0 601.7 L2297.0 601.7 L2297.0 601.0 L2299.0 601.0 L2299.0 603.0 L2301.0 603.0 L2301.0 602.6 L2304.0 602.6 L2304.0 603.5 L2306.0 603.5 L2306.0 602.3 L2309.0 602.3 L2309.0 604.3 L2310.5 604.3 L2310.5 606.9 L2314.0 606.9 L2314.0 606.0 L2317.5 606.0 L2317.5 606.1 L2319.0 606.1 L2319.0 605.9 L2322.5 605.9 L2322.5 610.3 L2324.0 610.3 L2324.0 607.5 L2325.5 607.5 L2325.5 606.6 L2328.5 606.6 L2328.5 603.3 L2331.0 603.3 L2331.0 600.2 L2332.5 600.2 L2332.5 599.1 L2335.0 599.1 L2335.0 599.9 L2338.5 599.9 L2338.5 597.7 L2340.0 597.7 L2340.0 592.9 L2342.0 592.9 L2342.0 593.7 L2343.5 593.7 L2343.5 590.3 L2346.5 590.3 L2346.5 590.9 L2349.5 590.9 L2349.5 588.9 L2352.0 588.9 L2352.0 590.1 L2353.5 590.1 L2353.5 595.0 L2357.0 595.0 L2357.0 595.6 L2359.0 595.6 L2359.0 596.4 L2361.0 596.4 L2361.0 599.0 L2363.5 599.0 L2363.5 600.2 L2365.5 600.2 L2365.5 601.4 L2368.0 601.4 L2368.0 604.1 L2371.5 604.1 L2371.5 604.7 L2373.5 604.7 L2373.5 605.2 L2375.5 605.2 L2375.5 605.9 L2378.0 605.9 L2378.0 605.2 L2381.0 605.2 L2381.0 606.3 L2384.0 606.3 L2384.0 604.2 L2387.5 604.2 L2387.5 600.3 L2390.5 600.3 L2390.5 596.3 L2392.0 596.3 L2392.0 599.9 L2394.0 599.9 L2394.0 595.7 L2396.5 595.7 L2396.5 596.2 L2399.5 596.2 L2399.5 596.1 L2402.0 596.1 L2402.0 592.2 L2405.0 592.2 L2405.0 591.3 L2407.0 591.3 L2407.0 594.7 L2408.5 594.7 L2408.5 594.7 L2410.5 594.7 L2410.5 592.5 L2412.5 592.5 L2412.5 595.2 L2415.5 595.2 L2415.5 597.4 L2418.5 597.4 L2418.5 596.7 L2420.0 596.7 L2420.0 597.6 L2421.0 597.6 L2421.0 653.6 L2420.0 653.6 L2420.0 648.4 L2417.0 648.4 L2417.0 649.0 L2415.5 649.0 L2415.5 643.8 L2412.5 643.8 L2412.5 642.8 L2409.5 642.8 L2409.5 638.5 L2407.0 638.5 L2407.0 640.6 L2405.5 640.6 L2405.5 638.8 L2404.0 638.8 L2404.0 640.0 L2401.0 640.0 L2401.0 641.1 L2398.0 641.1 L2398.0 641.5 L2395.5 641.5 L2395.5 641.6 L2392.5 641.6 L2392.5 646.3 L2390.0 646.3 L2390.0 648.8 L2386.5 648.8 L2386.5 648.6 L2383.5 648.6 L2383.5 656.3 L2382.0 656.3 L2382.0 654.0 L2379.0 654.0 L2379.0 654.2 L2377.0 654.2 L2377.0 655.0 L2374.0 655.0 L2374.0 654.4 L2372.5 654.4 L2372.5 658.1 L2371.0 658.1 L2371.0 651.9 L2367.5 651.9 L2367.5 647.7 L2364.5 647.7 L2364.5 647.1 L2362.0 647.1 L2362.0 647.2 L2360.0 647.2 L2360.0 649.9 L2358.5 649.9 L2358.5 645.5 L2356.0 645.5 L2356.0 647.4 L2353.0 647.4 L2353.0 649.3 L2351.0 649.3 L2351.0 645.5 L2348.0 645.5 L2348.0 644.0 L2346.0 644.0 L2346.0 645.8 L2343.0 645.8 L2343.0 645.6 L2339.5 645.6 L2339.5 648.4 L2337.0 648.4 L2337.0 653.4 L2333.5 653.4 L2333.5 657.2 L2331.0 657.2 L2331.0 662.1 L2327.5 662.1 L2327.5 665.3 L2324.5 665.3 L2324.5 667.4 L2322.5 667.4 L2322.5 671.8 L2321.0 671.8 L2321.0 669.0 L2318.5 669.0 L2318.5 667.2 L2315.5 667.2 L2315.5 665.2 L2314.0 665.2 L2314.0 665.4 L2311.0 665.4 L2311.0 662.4 L2307.5 662.4 L2307.5 663.3 L2306.0 663.3 L2306.0 660.9 L2304.0 660.9 L2304.0 658.1 L2302.5 658.1 L2302.5 658.0 L2301.0 658.0 L2301.0 657.8 L2298.0 657.8 L2298.0 655.4 L2295.5 655.4 L2295.5 656.7 L2292.5 656.7 L2292.5 654.9 L2290.0 654.9 L2290.0 657.3 L2287.5 657.3 L2287.5 656.7 L2285.5 656.7 L2285.5 654.8 L2283.0 654.8 L2283.0 652.3 L2279.5 652.3 L2279.5 652.3 L2276.5 652.3 L2276.5 651.0 L2274.5 651.0 L2274.5 651.7 L2271.5 651.7 L2271.5 651.9 L2269.0 651.9 L2269.0 652.2 L2265.5 652.2 L2265.5 651.8 L2262.0 651.8 L2262.0 647.0 L2258.5 647.0 L2258.5 647.3 L2257.0 647.3 L2257.0 648.0 L2255.0 648.0 L2255.0 646.8 L2253.0 646.8 L2253.0 646.7 L2251.5 646.7 L2251.5 645.6 L2249.0 645.6 L2249.0 647.6 L2246.5 647.6 L2246.5 646.9 L2244.0 646.9 L2244.0 643.2 L2242.5 643.2 L2242.5 645.8 L2239.5 645.8 L2239.5 641.8 L2238.0 641.8 L2238.0 642.3 L2236.0 642.3 L2236.0 641.0 L2233.5 641.0 L2233.5 642.2 L2230.0 642.2 L2230.0 638.8 L2228.5 638.8 L2228.5 638.0 L2227.0 638.0 L2227.0 641.4 L2225.5 641.4 L2225.5 638.2 L2222.0 638.2 L2222.0 637.5 L2220.5 637.5 L2220.5 636.3 L2218.5 636.3 L2218.5 630.5 L2215.0 630.5 L2215.0 624.8 L2212.5 624.8 L2212.5 622.8 L2210.0 622.8 L2210.0 623.8 L2208.5 623.8 L2208.5 625.0 L2206.0 625.0 L2206.0 624.6 L2202.5 624.6 L2202.5 628.4 L2199.5 628.4 L2199.5 629.9 L2198.0 629.9 L2198.0 632.1 L2195.5 632.1 L2195.5 640.0 L2192.0 640.0 L2192.0 643.4 L2190.5 643.4 L2190.5 639.5 L2189.0 639.5 L2189.0 646.9 L2187.5 646.9 L2187.5 638.1 L2185.5 638.1 L2185.5 637.6 L2182.0 637.6 L2182.0 635.7 L2180.0 635.7 L2180.0 636.9 L2178.0 636.9 L2178.0 634.7 L2174.5 634.7 L2174.5 622.7 L2172.5 622.7 L2172.5 620.0 L2171.0 620.0 L2171.0 612.2 L2169.0 612.2 L2169.0 614.9 L2167.0 614.9 L2167.0 618.8 L2165.0 618.8 L2165.0 625.9 L2162.5 625.9 L2162.5 628.8 L2159.0 628.8 L2159.0 633.4 L2156.5 633.4 L2156.5 635.7 L2153.5 635.7 L2153.5 635.6 L2150.5 635.6 L2150.5 641.3 L2149.0 641.3 L2149.0 643.5 L2147.5 643.5 L2147.5 642.8 L2146.0 642.8 L2146.0 646.2 L2143.5 646.2 L2143.5 647.5 L2140.5 647.5 L2140.5 649.1 L2138.0 649.1 L2138.0 652.3 L2134.5 652.3 L2134.5 649.2 L2133.0 649.2 L2133.0 650.6 L2131.5 650.6 L2131.5 649.0 L2129.5 649.0 L2129.5 651.0 L2128.0 651.0 L2128.0 649.4 L2125.0 649.4 L2125.0 650.8 L2123.0 650.8 L2123.0 649.6 L2119.5 649.6 L2119.5 647.2 L2117.5 647.2 L2117.5 651.5 L2116.0 651.5 L2116.0 651.2 L2114.5 651.2 L2114.5 646.8 L2111.5 646.8 L2111.5 648.7 L2108.0 648.7 L2108.0 646.5 L2106.5 646.5 L2106.5 650.2 L2103.0 650.2 L2103.0 650.8 L2101.5 650.8 L2101.5 647.3 L2098.5 647.3 L2098.5 644.8 L2095.5 644.8 L2095.5 642.3 L2094.0 642.3 L2094.0 645.0 L2092.5 645.0 L2092.5 640.2 L2089.0 640.2 L2089.0 639.4 L2087.5 639.4 L2087.5 639.2 L2084.5 639.2 L2084.5 639.9 L2082.5 639.9 L2082.5 637.2 L2079.0 637.2 L2079.0 636.8 L2076.0 636.8 L2076.0 636.7 L2074.0 636.7 L2074.0 636.4 L2071.0 636.4 L2071.0 637.6 L2069.0 637.6 L2069.0 636.9 L2066.0 636.9 L2066.0 636.8 L2063.0 636.8 L2063.0 633.8 L2060.5 633.8 L2060.5 637.2 L2058.5 637.2 L2058.5 632.7 L2056.5 632.7 L2056.5 635.1 L2055.0 635.1 L2055.0 634.7 L2052.0 634.7 L2052.0 635.3 L2050.5 635.3 L2050.5 633.6 L2047.5 633.6 L2047.5 634.5 L2045.0 634.5 L2045.0 631.9 L2043.0 631.9 L2043.0 631.9 L2040.0 631.9 L2040.0 634.7 L2037.0 634.7 L2037.0 635.9 L2034.5 635.9 L2034.5 634.7 L2031.0 634.7 L2031.0 639.4 L2029.5 639.4 L2029.5 638.8 L2027.0 638.8 L2027.0 637.8 L2024.5 637.8 L2024.5 639.3 L2022.0 639.3 L2022.0 640.3 L2019.5 640.3 L2019.5 637.5 L2017.5 637.5 L2017.5 638.5 L2015.5 638.5 L2015.5 639.5 L2014.0 639.5 L2014.0 639.5 L2010.5 639.5 L2010.5 638.9 L2008.0 638.9 L2008.0 636.9 L2006.5 636.9 L2006.5 637.7 L2003.5 637.7 L2003.5 635.6 L2002.0 635.6 L2002.0 635.5 L2000.5 635.5 L2000.5 638.0 L1997.5 638.0 L1997.5 633.6 L1995.0 633.6 L1995.0 639.6 L1993.5 639.6 L1993.5 636.7 L1990.0 636.7 L1990.0 632.9 L1987.5 632.9 L1987.5 630.2 L1985.0 630.2 L1985.0 630.9 L1982.0 630.9 L1982.0 631.3 L1980.0 631.3 L1980.0 631.5 L1978.5 631.5 L1978.5 629.5 L1976.5 629.5 L1976.5 629.8 L1973.5 629.8 L1973.5 630.7 L1972.0 630.7 L1972.0 626.9 L1969.5 626.9 L1969.5 627.1 L1966.5 627.1 L1966.5 626.1 L1965.0 626.1 L1965.0 627.9 L1962.0 627.9 L1962.0 624.1 L1959.5 624.1 L1959.5 625.9 L1956.0 625.9 L1956.0 625.7 L1953.0 625.7 L1953.0 624.8 L1950.5 624.8 L1950.5 621.4 L1947.5 621.4 L1947.5 624.3 L1945.5 624.3 L1945.5 622.5 L1944.0 622.5 L1944.0 621.5 L1940.5 621.5 L1940.5 626.4 L1939.0 626.4 L1939.0 621.1 L1936.5 621.1 L1936.5 622.6 L1933.5 622.6 L1933.5 622.9 L1931.0 622.9 L1931.0 625.9 L1928.0 625.9 L1928.0 625.0 L1926.5 625.0 L1926.5 624.2 L1923.0 624.2 L1923.0 628.2 L1921.5 628.2 L1921.5 624.7 L1918.5 624.7 L1918.5 626.4 L1915.0 626.4 L1915.0 622.6 L1913.5 622.6 L1913.5 625.7 L1910.0 625.7 L1910.0 624.1 L1908.5 624.1 L1908.5 627.3 L1906.5 627.3 L1906.5 623.0 L1904.5 623.0 L1904.5 626.3 L1903.0 626.3 L1903.0 624.1 L1901.0 624.1 L1901.0 625.7 L1898.0 625.7 L1898.0 625.6 L1895.0 625.6 L1895.0 626.5 L1893.0 626.5 L1893.0 626.4 L1890.0 626.4 L1890.0 629.1 L1888.5 629.1 L1888.5 628.6 L1887.0 628.6 L1887.0 628.9 L1884.0 628.9 L1884.0 627.8 L1882.5 627.8 L1882.5 629.2 L1880.5 629.2 L1880.5 629.8 L1878.5 629.8 L1878.5 626.9 L1875.5 626.9 L1875.5 631.1 L1872.5 631.1 L1872.5 630.3 L1870.0 630.3 L1870.0 628.4 L1868.5 628.4 L1868.5 628.2 L1866.5 628.2 L1866.5 632.7 L1864.0 632.7 L1864.0 630.5 L1861.5 630.5 L1861.5 633.0 L1858.0 633.0 L1858.0 632.6 L1855.0 632.6 L1855.0 632.1 L1851.5 632.1 L1851.5 633.5 L1848.5 633.5 L1848.5 632.3 L1847.0 632.3 L1847.0 633.0 L1844.5 633.0 L1844.5 633.9 L1841.0 633.9 L1841.0 637.6 L1838.0 637.6 L1838.0 635.4 L1835.5 635.4 L1835.5 636.3 L1834.0 636.3 L1834.0 634.0 L1832.0 634.0 L1832.0 633.3 L1830.5 633.3 L1830.5 634.7 L1827.0 634.7 L1827.0 633.4 L1825.0 633.4 L1825.0 635.3 L1821.5 635.3 L1821.5 633.8 L1820.0 633.8 L1820.0 635.6 L1816.5 635.6 L1816.5 634.7 L1814.0 634.7 L1814.0 636.2 L1812.0 636.2 L1812.0 634.6 L1809.5 634.6 L1809.5 644.2 L1808.0 644.2 L1808.0 634.8 L1805.0 634.8 L1805.0 633.4 L1803.5 633.4 L1803.5 635.7 L1801.5 635.7 L1801.5 633.5 L1798.5 633.5 L1798.5 635.8 L1796.5 635.8 L1796.5 634.0 L1794.5 634.0 L1794.5 640.9 L1793.0 640.9 L1793.0 632.3 L1789.5 632.3 L1789.5 636.0 L1787.0 636.0 L1787.0 633.6 L1785.5 633.6 L1785.5 632.7 L1782.5 632.7 L1782.5 640.2 L1781.0 640.2 L1781.0 633.1 L1778.5 633.1 L1778.5 633.2 L1775.0 633.2 L1775.0 628.8 L1771.5 628.8 L1771.5 626.8 L1768.5 626.8 L1768.5 628.0 L1766.0 628.0 L1766.0 623.5 L1763.5 623.5 L1763.5 624.0 L1760.0 624.0 L1760.0 621.5 L1758.0 621.5 L1758.0 621.0 L1755.5 621.0 L1755.5 624.7 L1754.0 624.7 L1754.0 622.2 L1752.0 622.2 L1752.0 621.6 L1749.0 621.6 L1749.0 620.4 L1746.0 620.4 L1746.0 623.6 L1744.5 623.6 L1744.5 615.3 L1741.5 615.3 L1741.5 616.9 L1739.5 616.9 L1739.5 615.0 L1737.5 615.0 L1737.5 615.9 L1735.0 615.9 L1735.0 610.7 L1732.5 610.7 L1732.5 613.5 L1730.0 613.5 L1730.0 607.7 L1727.0 607.7 L1727.0 608.5 L1723.5 608.5 L1723.5 609.8 L1720.0 609.8 L1720.0 614.1 L1717.5 614.1 L1717.5 615.8 L1715.0 615.8 L1715.0 622.3 L1713.0 622.3 L1713.0 625.5 L1710.5 625.5 L1710.5 623.5 L1707.0 623.5 L1707.0 625.0 L1705.5 625.0 L1705.5 619.7 L1703.0 619.7 L1703.0 616.1 L1701.5 616.1 L1701.5 614.3 L1699.0 614.3 L1699.0 611.6 L1696.0 611.6 L1696.0 609.4 L1694.0 609.4 L1694.0 606.3 L1691.5 606.3 L1691.5 611.2 L1689.5 611.2 L1689.5 608.5 L1688.0 608.5 L1688.0 611.1 L1685.5 611.1 L1685.5 610.4 L1682.0 610.4 L1682.0 612.4 L1680.5 612.4 L1680.5 612.7 L1678.5 612.7 L1678.5 614.2 L1675.5 614.2 L1675.5 613.1 L1673.5 613.1 L1673.5 614.4 L1672.0 614.4 L1672.0 615.9 L1669.5 615.9 L1669.5 617.3 L1668.0 617.3 L1668.0 616.7 L1664.5 616.7 L1664.5 620.5 L1662.0 620.5 L1662.0 622.7 L1659.0 622.7 L1659.0 624.7 L1656.5 624.7 L1656.5 625.6 L1653.5 625.6 L1653.5 626.2 L1651.5 626.2 L1651.5 626.2 L1648.5 626.2 L1648.5 631.2 L1645.5 631.2 L1645.5 627.0 L1643.0 627.0 L1643.0 623.8 L1640.0 623.8 L1640.0 617.9 L1637.0 617.9 L1637.0 614.2 L1633.5 614.2 L1633.5 613.6 L1631.0 613.6 L1631.0 609.3 L1628.0 609.3 L1628.0 605.3 L1626.5 605.3 L1626.5 603.3 L1623.0 603.3 L1623.0 606.2 L1619.5 606.2 L1619.5 609.2 L1618.0 609.2 L1618.0 611.4 L1615.5 611.4 L1615.5 617.0 L1612.5 617.0 L1612.5 620.1 L1611.0 620.1 L1611.0 624.4 L1607.5 624.4 L1607.5 625.0 L1606.0 625.0 L1606.0 632.3 L1604.0 632.3 L1604.0 629.1 L1600.5 629.1 L1600.5 623.2 L1597.0 623.2 L1597.0 621.4 L1595.5 621.4 L1595.5 623.1 L1592.5 623.1 L1592.5 618.9 L1590.0 618.9 L1590.0 619.1 L1587.0 619.1 L1587.0 616.4 L1583.5 616.4 L1583.5 615.6 L1580.5 615.6 L1580.5 612.3 L1578.0 612.3 L1578.0 615.5 L1576.0 615.5 L1576.0 611.1 L1573.5 611.1 L1573.5 612.5 L1570.0 612.5 L1570.0 610.1 L1568.5 610.1 L1568.5 609.2 L1566.0 609.2 L1566.0 612.1 L1564.5 612.1 L1564.5 612.3 L1561.5 612.3 L1561.5 618.2 L1559.0 618.2 L1559.0 615.8 L1557.5 615.8 L1557.5 618.6 L1556.0 618.6 L1556.0 622.1 L1554.5 622.1 L1554.5 623.6 L1552.0 623.6 L1552.0 624.8 L1550.0 624.8 L1550.0 623.0 L1547.5 623.0 L1547.5 620.8 L1546.0 620.8 L1546.0 623.4 L1542.5 623.4 L1542.5 618.6 L1540.5 618.6 L1540.5 621.4 L1538.5 621.4 L1538.5 617.4 L1535.0 617.4 L1535.0 620.5 L1533.5 620.5 L1533.5 619.2 L1532.0 619.2 L1532.0 618.4 L1528.5 618.4 L1528.5 616.2 L1526.5 616.2 L1526.5 616.8 L1523.0 616.8 L1523.0 617.5 L1520.0 617.5 L1520.0 619.4 L1516.5 619.4 L1516.5 623.6 L1513.5 623.6 L1513.5 627.4 L1512.0 627.4 L1512.0 624.1 L1509.0 624.1 L1509.0 622.4 L1507.5 622.4 L1507.5 624.4 L1504.5 624.4 L1504.5 625.1 L1502.0 625.1 L1502.0 623.5 L1498.5 623.5 L1498.5 621.2 L1496.0 621.2 L1496.0 623.8 L1494.5 623.8 L1494.5 623.8 L1491.5 623.8 L1491.5 623.9 L1490.0 623.9 L1490.0 630.4 L1488.5 630.4 L1488.5 624.3 L1485.5 624.3 L1485.5 618.9 L1482.0 618.9 L1482.0 622.4 L1479.0 622.4 L1479.0 622.2 L1477.0 622.2 L1477.0 618.8 L1475.0 618.8 L1475.0 618.5 L1473.0 618.5 L1473.0 616.8 L1470.5 616.8 L1470.5 620.4 L1467.5 620.4 L1467.5 619.9 L1465.0 619.9 L1465.0 624.0 L1463.5 624.0 L1463.5 614.7 L1461.5 614.7 L1461.5 614.8 L1459.5 614.8 L1459.5 613.5 L1456.0 613.5 L1456.0 616.3 L1454.5 616.3 L1454.5 615.5 L1452.0 615.5 L1452.0 611.2 L1450.0 611.2 L1450.0 610.4 L1447.0 610.4 L1447.0 608.6 L1445.5 608.6 L1445.5 607.7 L1442.5 607.7 L1442.5 607.8 L1441.0 607.8 L1441.0 607.0 L1437.5 607.0 L1437.5 612.3 L1436.0 612.3 L1436.0 607.8 L1434.5 607.8 L1434.5 607.0 L1432.0 607.0 L1432.0 610.0 L1430.5 610.0 L1430.5 608.7 L1428.0 608.7 L1428.0 609.7 L1424.5 609.7 L1424.5 613.4 L1422.5 613.4 L1422.5 616.0 L1421.0 616.0 L1421.0 613.6 L1419.0 613.6 L1419.0 616.8 L1416.5 616.8 L1416.5 620.1 L1415.0 620.1 L1415.0 618.8 L1411.5 618.8 L1411.5 614.8 L1408.0 614.8 L1408.0 616.2 L1406.5 616.2 L1406.5 615.9 L1405.0 615.9 L1405.0 618.0 L1403.5 618.0 L1403.5 617.8 L1400.0 617.8 L1400.0 614.8 L1397.0 614.8 L1397.0 616.2 L1394.0 616.2 L1394.0 615.0 L1391.0 615.0 L1391.0 618.0 L1388.5 618.0 L1388.5 615.4 L1386.0 615.4 L1386.0 613.5 L1384.0 613.5 L1384.0 615.4 L1381.5 615.4 L1381.5 612.7 L1379.5 612.7 L1379.5 613.2 L1376.5 613.2 L1376.5 614.7 L1373.5 614.7 L1373.5 614.9 L1370.5 614.9 L1370.5 619.6 L1367.0 619.6 L1367.0 619.0 L1365.5 619.0 L1365.5 621.3 L1363.5 621.3 L1363.5 622.2 L1360.5 622.2 L1360.5 622.3 L1359.0 622.3 L1359.0 620.6 L1356.5 620.6 L1356.5 618.4 L1353.0 618.4 L1353.0 620.9 L1351.0 620.9 L1351.0 616.7 L1348.0 616.7 L1348.0 619.2 L1345.0 619.2 L1345.0 615.6 L1342.5 615.6 L1342.5 612.0 L1339.5 612.0 L1339.5 607.1 L1337.5 607.1 L1337.5 611.5 L1334.5 611.5 L1334.5 607.0 L1333.0 607.0 L1333.0 607.1 L1331.0 607.1 L1331.0 610.6 L1327.5 610.6 L1327.5 608.7 L1324.0 608.7 L1324.0 608.0 L1322.0 608.0 L1322.0 605.6 L1319.5 605.6 L1319.5 608.4 L1317.0 608.4 L1317.0 604.9 L1315.5 604.9 L1315.5 607.4 L1313.5 607.4 L1313.5 605.6 L1310.5 605.6 L1310.5 604.6 L1307.5 604.6 L1307.5 602.3 L1305.5 602.3 L1305.5 606.4 L1303.0 606.4 L1303.0 602.9 L1301.5 602.9 L1301.5 603.8 L1298.5 603.8 L1298.5 604.4 L1297.0 604.4 L1297.0 604.9 L1295.5 604.9 L1295.5 600.3 L1292.0 600.3 L1292.0 601.6 L1290.0 601.6 L1290.0 597.6 L1287.5 597.6 L1287.5 600.1 L1285.5 600.1 L1285.5 595.3 L1282.5 595.3 L1282.5 596.6 L1281.0 596.6 L1281.0 598.7 L1277.5 598.7 L1277.5 600.3 L1276.0 600.3 L1276.0 602.1 L1274.5 602.1 L1274.5 600.0 L1273.0 600.0 L1273.0 605.8 L1271.0 605.8 L1271.0 603.9 L1269.0 603.9 L1269.0 601.3 L1266.5 601.3 L1266.5 599.6 L1263.0 599.6 L1263.0 591.1 L1260.0 591.1 L1260.0 590.1 L1256.5 590.1 L1256.5 590.0 L1254.0 590.0 L1254.0 590.7 L1251.0 590.7 L1251.0 590.2 L1249.5 590.2 L1249.5 590.4 L1248.0 590.4 L1248.0 590.7 L1245.0 590.7 L1245.0 587.4 L1243.0 587.4 L1243.0 587.8 L1241.5 587.8 L1241.5 589.9 L1239.5 589.9 L1239.5 589.5 L1238.0 589.5 L1238.0 588.0 L1235.0 588.0 L1235.0 590.3 L1232.5 590.3 L1232.5 588.1 L1231.0 588.1 L1231.0 589.7 L1228.0 589.7 L1228.0 587.5 L1226.0 587.5 L1226.0 587.5 L1223.0 587.5 L1223.0 588.0 L1220.0 588.0 L1220.0 586.9 L1218.5 586.9 L1218.5 585.4 L1215.0 585.4 L1215.0 585.8 L1212.5 585.8 L1212.5 591.8 L1211.0 591.8 L1211.0 585.3 L1209.5 585.3 L1209.5 585.0 L1208.0 585.0 L1208.0 587.4 L1204.5 587.4 L1204.5 583.7 L1201.5 583.7 L1201.5 586.6 L1199.0 586.6 L1199.0 584.0 L1195.5 584.0 L1195.5 585.6 L1194.0 585.6 L1194.0 584.6 L1190.5 584.6 L1190.5 583.8 L1187.5 583.8 L1187.5 587.2 L1185.0 587.2 L1185.0 583.4 L1181.5 583.4 L1181.5 587.1 L1178.0 587.1 L1178.0 582.9 L1176.5 582.9 L1176.5 585.7 L1175.0 585.7 L1175.0 585.0 L1172.5 585.0 L1172.5 591.9 L1171.0 591.9 L1171.0 586.3 L1168.0 586.3 L1168.0 585.3 L1166.5 585.3 L1166.5 585.7 L1163.5 585.7 L1163.5 586.8 L1161.0 586.8 L1161.0 584.3 L1157.5 584.3 L1157.5 584.1 L1155.5 584.1 L1155.5 583.3 L1152.5 583.3 L1152.5 584.6 L1151.0 584.6 L1151.0 586.5 L1148.0 586.5 L1148.0 586.6 L1146.5 586.6 L1146.5 586.6 L1144.0 586.6 L1144.0 583.3 L1140.5 583.3 L1140.5 584.3 L1137.0 584.3 L1137.0 586.2 L1133.5 586.2 L1133.5 585.5 L1131.0 585.5 L1131.0 584.9 L1129.0 584.9 L1129.0 584.3 L1126.0 584.3 L1126.0 586.3 L1123.5 586.3 L1123.5 582.9 L1122.0 582.9 L1122.0 586.1 L1120.0 586.1 L1120.0 586.1 L1118.5 586.1 L1118.5 587.4 L1116.0 587.4 L1116.0 584.2 L1114.0 584.2 L1114.0 586.1 L1111.0 586.1 L1111.0 586.5 L1108.5 586.5 L1108.5 585.0 L1106.5 585.0 L1106.5 586.5 L1103.0 586.5 L1103.0 587.1 L1101.5 587.1 L1101.5 584.6 L1099.5 584.6 L1099.5 582.0 L1097.5 582.0 L1097.5 584.4 L1096.0 584.4 L1096.0 580.8 L1093.0 580.8 L1093.0 578.2 L1089.5 578.2 L1089.5 588.2 L1088.0 588.2 L1088.0 579.9 L1085.0 579.9 L1085.0 574.4 L1082.0 574.4 L1082.0 574.4 L1078.5 574.4 L1078.5 574.5 L1077.0 574.5 L1077.0 569.5 L1074.5 569.5 L1074.5 572.8 L1073.0 572.8 L1073.0 567.9 L1069.5 567.9 L1069.5 568.1 L1067.0 568.1 L1067.0 564.3 L1064.5 564.3 L1064.5 565.7 L1061.5 565.7 L1061.5 562.2 L1059.5 562.2 L1059.5 563.5 L1058.0 563.5 L1058.0 564.1 L1055.5 564.1 L1055.5 561.9 L1054.0 561.9 L1054.0 559.5 L1051.5 559.5 L1051.5 555.9 L1049.0 555.9 L1049.0 556.1 L1047.5 556.1 L1047.5 556.7 L1045.5 556.7 L1045.5 556.6 L1044.0 556.6 L1044.0 554.1 L1040.5 554.1 L1040.5 552.0 L1037.0 552.0 L1037.0 547.4 L1035.5 547.4 L1035.5 549.0 L1032.0 549.0 L1032.0 547.7 L1028.5 547.7 L1028.5 550.2 L1025.0 550.2 L1025.0 550.7 L1023.5 550.7 L1023.5 553.0 L1021.0 553.0 L1021.0 555.5 L1017.5 555.5 L1017.5 554.7 L1014.5 554.7 L1014.5 554.0 L1012.0 554.0 L1012.0 557.2 L1009.0 557.2 L1009.0 555.3 L1005.5 555.3 L1005.5 556.2 L1002.0 556.2 L1002.0 557.4 L999.5 557.4 L999.5 554.2 L997.5 554.2 L997.5 550.4 L994.5 550.4 L994.5 551.3 L993.0 551.3 L993.0 550.6 L990.5 550.6 L990.5 547.2 L989.0 547.2 L989.0 550.8 L987.0 550.8 L987.0 546.7 L985.0 546.7 L985.0 549.1 L983.0 549.1 L983.0 553.3 L979.5 553.3 L979.5 549.8 L978.0 549.8 L978.0 550.7 L976.5 550.7 L976.5 552.6 L974.0 552.6 L974.0 554.4 L971.0 554.4 L971.0 556.3 L968.0 556.3 L968.0 553.0 L965.5 553.0 L965.5 550.4 L962.5 550.4 L962.5 551.8 L959.5 551.8 L959.5 551.1 L957.0 551.1 L957.0 552.5 L955.0 552.5 L955.0 548.8 L953.0 548.8 L953.0 543.4 L950.0 543.4 L950.0 533.8 L948.0 533.8 L948.0 531.2 L946.5 531.2 L946.5 535.3 L945.0 535.3 L945.0 525.7 L941.5 525.7 L941.5 525.2 L938.0 525.2 L938.0 523.7 L936.0 523.7 L936.0 520.3 L934.0 520.3 L934.0 517.8 L931.0 517.8 L931.0 515.2 L927.5 515.2 L927.5 519.3 L926.0 519.3 L926.0 516.2 L923.5 516.2 L923.5 517.8 L921.5 517.8 L921.5 520.3 L919.0 520.3 L919.0 519.3 L916.0 519.3 L916.0 518.3 L913.5 518.3 L913.5 521.4 L912.0 521.4 L912.0 520.7 L909.5 520.7 L909.5 518.6 L906.5 518.6 L906.5 519.8 L903.0 519.8 L903.0 523.0 L901.0 523.0 L901.0 520.8 L897.5 520.8 L897.5 523.5 L894.5 523.5 L894.5 522.3 L892.0 522.3 L892.0 519.0 L890.0 519.0 L890.0 522.4 L887.5 522.4 L887.5 518.8 L884.0 518.8 L884.0 516.3 L881.5 516.3 L881.5 519.2 L878.0 519.2 L878.0 526.7 L876.0 526.7 L876.0 517.7 L873.0 517.7 L873.0 513.8 L871.5 513.8 L871.5 512.6 L868.5 512.6 L868.5 510.5 L865.0 510.5 L865.0 512.0 L862.0 512.0 L862.0 509.2 L859.5 509.2 L859.5 512.5 L856.0 512.5 L856.0 513.0 L853.5 513.0 L853.5 510.1 L852.0 510.1 L852.0 509.0 L848.5 509.0 L848.5 511.9 L847.0 511.9 L847.0 515.1 L845.5 515.1 L845.5 519.9 L842.5 519.9 L842.5 522.8 L839.5 522.8 L839.5 523.7 L836.5 523.7 L836.5 521.2 L833.0 521.2 L833.0 524.1 L830.5 524.1 L830.5 523.4 L827.0 523.4 L827.0 539.0 L825.0 539.0 L825.0 550.4 L823.5 550.4 L823.5 528.0 L822.0 528.0 L822.0 519.4 L820.0 519.4 L820.0 520.9 L817.0 520.9 L817.0 519.0 L815.0 519.0 L815.0 518.7 L811.5 518.7 L811.5 521.8 L808.5 521.8 L808.5 521.3 L806.5 521.3 L806.5 527.2 L803.5 527.2 L803.5 528.2 L802.0 528.2 L802.0 526.4 L800.5 526.4 L800.5 532.0 L799.0 532.0 L799.0 530.2 L797.0 530.2 L797.0 535.7 L795.5 535.7 L795.5 535.3 L794.0 535.3 L794.0 538.2 L792.0 538.2 L792.0 544.0 L788.5 544.0 L788.5 549.9 L786.5 549.9 L786.5 552.6 L784.0 552.6 L784.0 566.0 L780.5 566.0 L780.5 555.9 L779.0 555.9 L779.0 555.6 L775.5 555.6 L775.5 558.9 L772.0 558.9 L772.0 567.9 L770.5 567.9 L770.5 562.7 L768.0 562.7 L768.0 567.2 L766.5 567.2 L766.5 565.2 L764.0 565.2 L764.0 569.0 L760.5 569.0 L760.5 568.5 L759.0 568.5 L759.0 571.0 L756.5 571.0 L756.5 570.7 L754.0 570.7 L754.0 570.7 L752.0 570.7 L752.0 568.2 L749.0 568.2 L749.0 569.1 L746.5 569.1 L746.5 568.7 L743.0 568.7 L743.0 574.3 L739.5 574.3 L739.5 579.9 L738.0 579.9 L738.0 581.8 L735.5 581.8 L735.5 587.9 L732.5 587.9 L732.5 588.4 L730.5 588.4 L730.5 591.6 L728.0 591.6 L728.0 591.2 L726.5 591.2 L726.5 590.7 L725.0 590.7 L725.0 591.9 L722.0 591.9 L722.0 594.7 L720.0 594.7 L720.0 599.4 L718.5 599.4 L718.5 593.7 L715.5 593.7 L715.5 592.6 L713.0 592.6 L713.0 595.2 L710.5 595.2 L710.5 600.2 L709.0 600.2 L709.0 603.2 L705.5 603.2 L705.5 610.9 L702.0 610.9 L702.0 611.8 L699.5 611.8 L699.5 618.6 L697.0 618.6 L697.0 620.7 L695.0 620.7 L695.0 618.4 L693.0 618.4 L693.0 625.3 L691.5 625.3 L691.5 625.2 L689.5 625.2 L689.5 636.2 L686.0 636.2 L686.0 658.2 L682.5 658.2 L682.5 639.5 L681.0 639.5 L681.0 638.4 L679.5 638.4 L679.5 640.6 L676.5 640.6 L676.5 641.3 L674.0 641.3 L674.0 639.1 L672.0 639.1 L672.0 636.8 L669.0 636.8 L669.0 639.2 L665.5 639.2 L665.5 645.5 L664.0 645.5 L664.0 643.5 L662.5 643.5 L662.5 635.1 L659.5 635.1 L659.5 638.2 L657.0 638.2 L657.0 633.6 L654.5 633.6 L654.5 635.2 L651.0 635.2 L651.0 631.8 L648.5 631.8 L648.5 633.8 L645.5 633.8 L645.5 629.9 L643.0 629.9 L643.0 631.6 L640.5 631.6 L640.5 631.5 L638.0 631.5 L638.0 632.9 L636.0 632.9 L636.0 636.3 L634.5 636.3 L634.5 634.2 L633.0 634.2 L633.0 637.2 L631.0 637.2 L631.0 637.7 L628.0 637.7 L628.0 641.7 L625.5 641.7 L625.5 642.1 L623.0 642.1 L623.0 644.3 L620.5 644.3 L620.5 650.1 L617.0 650.1 L617.0 657.4 L613.5 657.4 L613.5 662.7 L611.5 662.7 L611.5 666.4 L608.5 666.4 L608.5 665.1 L607.0 665.1 L607.0 665.9 L603.5 665.9 L603.5 666.8 L600.0 666.8 L600.0 668.9 L597.0 668.9 L597.0 675.1 L593.5 675.1 L593.5 678.7 L590.5 678.7 L590.5 683.7 L589.0 683.7 L589.0 682.0 L586.0 682.0 L586.0 688.4 L582.5 688.4 L582.5 689.8 L581.0 689.8 L581.0 689.6 L578.5 689.6 L578.5 691.9 L576.5 691.9 L576.5 694.0 L573.5 694.0 L573.5 699.4 L572.0 699.4 L572.0 690.5 L568.5 690.5 L568.5 696.6 L567.0 696.6 L567.0 705.7 L564.5 705.7 L564.5 691.1 L562.5 691.1 L562.5 691.3 L559.5 691.3 L559.5 694.0 L558.0 694.0 L558.0 687.7 L556.0 687.7 L556.0 684.6 L553.0 684.6 L553.0 681.5 L550.0 681.5 L550.0 684.4 L548.0 684.4 L548.0 687.0 L544.5 687.0 L544.5 688.8 L542.5 688.8 L542.5 688.5 L541.0 688.5 L541.0 688.9 L538.0 688.9 L538.0 693.5 L535.0 693.5 L535.0 692.0 L532.0 692.0 L532.0 694.9 L529.5 694.9 L529.5 694.7 L527.5 694.7 L527.5 699.4 L524.0 699.4 L524.0 700.9 L520.5 700.9 L520.5 699.7 L518.0 699.7 L518.0 701.8 L515.0 701.8 L515.0 702.3 L512.5 702.3 L512.5 705.4 L511.0 705.4 L511.0 706.1 L508.5 706.1 L508.5 705.4 L506.5 705.4 L506.5 710.7 L504.0 710.7 L504.0 709.6 L502.5 709.6 L502.5 714.1 L500.0 714.1 L500.0 714.1 L496.5 714.1 L496.5 715.7 L494.0 715.7 L494.0 717.1 L492.5 717.1 L492.5 716.6 L489.0 716.6 L489.0 720.9 L487.0 720.9 L487.0 722.2 L484.0 722.2 L484.0 723.6 L482.0 723.6 L482.0 725.3 L480.0 725.3 L480.0 722.9 L478.0 722.9 L478.0 728.0 L474.5 728.0 L474.5 726.8 L473.0 726.8 L473.0 725.0 L471.0 725.0 L471.0 726.2 L468.0 726.2 L468.0 729.9 L464.5 729.9 L464.5 733.0 L463.0 733.0 L463.0 727.1 L459.5 727.1 L459.5 729.7 L456.5 729.7 L456.5 726.9 L454.0 726.9 L454.0 725.3 L450.5 725.3 L450.5 726.2 L448.0 726.2 L448.0 730.1 L446.0 730.1 L446.0 727.2 L443.5 727.2 L443.5 730.2 L442.0 730.2 L442.0 730.5 L439.5 730.5 L439.5 735.1 L437.5 735.1 L437.5 738.0 L434.0 738.0 L434.0 740.1 L431.0 740.1 L431.0 740.3 L428.5 740.3 L428.5 745.1 L426.5 745.1 L426.5 748.5 L425.0 748.5 L425.0 752.5 L423.5 752.5 L423.5 745.6 L420.0 745.6 L401.6 794.0 L392.2 841.0 L386.4 864.0 L382.9 888.0 L379.4 934.0 L365.0 988.0 L351.2 990.0 L351.2 1019.0Z" fill="#ffff00"/>
<path d="M345.6 1237.0 L345.6 1138.0 L348.3 1100.0 L350.0 1060.0 L351.0 1040.0 L352.4 981.0 L354.7 934.0 L358.3 887.5 L360.6 840.6 L364.0 817.2 L371.0 770.3 L374.7 754.0 L382.9 723.4 L392.7 710.8 L400.0 697.8 L403.5 697.8 L403.5 692.5 L407.0 692.5 L407.0 686.2 L408.5 686.2 L408.5 683.3 L410.0 683.3 L410.0 682.7 L413.5 682.7 L413.5 678.9 L415.5 678.9 L415.5 674.8 L419.0 674.8 L419.0 671.3 L420.5 671.3 L420.5 667.5 L423.5 667.5 L423.5 664.0 L425.0 664.0 L425.0 661.4 L428.5 661.4 L428.5 656.3 L431.5 656.3 L431.5 651.4 L435.0 651.4 L435.0 651.7 L438.5 651.7 L438.5 646.4 L442.0 646.4 L442.0 643.9 L445.5 643.9 L445.5 640.5 L449.0 640.5 L449.0 639.3 L450.5 639.3 L450.5 638.3 L454.0 638.3 L454.0 637.4 L457.0 637.4 L457.0 634.5 L459.5 634.5 L459.5 630.2 L461.0 630.2 L461.0 634.4 L462.5 634.4 L462.5 633.0 L464.5 633.0 L464.5 632.2 L467.5 632.2 L467.5 627.8 L469.0 627.8 L469.0 630.4 L471.0 630.4 L471.0 631.0 L473.5 631.0 L473.5 627.3 L477.0 627.3 L477.0 629.5 L480.5 629.5 L480.5 627.0 L483.5 627.0 L483.5 624.6 L485.0 624.6 L485.0 626.2 L488.0 626.2 L488.0 624.2 L491.5 624.2 L491.5 623.4 L493.5 623.4 L493.5 624.2 L496.0 624.2 L496.0 621.7 L499.5 621.7 L499.5 622.6 L501.0 622.6 L501.0 619.1 L504.5 619.1 L504.5 618.5 L507.0 618.5 L507.0 615.7 L509.0 615.7 L509.0 614.0 L511.5 614.0 L511.5 615.7 L513.0 615.7 L513.0 611.6 L516.0 611.6 L516.0 608.7 L519.0 608.7 L519.0 606.2 L522.5 606.2 L522.5 605.1 L524.5 605.1 L524.5 603.9 L526.0 603.9 L526.0 605.5 L529.5 605.5 L529.5 608.1 L531.0 608.1 L531.0 605.6 L534.5 605.6 L534.5 607.3 L536.5 607.3 L536.5 608.5 L538.5 608.5 L538.5 608.1 L540.0 608.1 L540.0 609.1 L543.5 609.1 L543.5 608.9 L546.5 608.9 L546.5 607.0 L548.0 607.0 L548.0 605.2 L549.5 605.2 L549.5 604.5 L552.0 604.5 L552.0 605.7 L553.5 605.7 L553.5 604.9 L556.5 604.9 L556.5 600.1 L559.5 600.1 L559.5 597.3 L561.0 597.3 L561.0 600.1 L563.0 600.1 L563.0 598.8 L566.0 598.8 L566.0 595.8 L567.5 595.8 L567.5 597.4 L569.5 597.4 L569.5 595.6 L572.0 595.6 L572.0 593.6 L575.0 593.6 L575.0 593.9 L578.0 593.9 L578.0 591.7 L579.5 591.7 L579.5 590.8 L581.5 590.8 L581.5 591.7 L584.0 591.7 L584.0 589.0 L587.5 589.0 L587.5 590.8 L589.5 590.8 L589.5 591.0 L593.0 591.0 L593.0 589.9 L595.5 589.9 L595.5 591.7 L597.0 591.7 L597.0 589.8 L599.0 589.8 L599.0 588.1 L600.5 588.1 L600.5 588.8 L602.5 588.8 L602.5 587.3 L606.0 587.3 L606.0 590.9 L608.0 590.9 L608.0 590.1 L610.0 590.1 L610.0 588.5 L612.5 588.5 L612.5 589.4 L616.0 589.4 L616.0 590.2 L617.5 590.2 L617.5 587.3 L621.0 587.3 L621.0 588.9 L624.5 588.9 L624.5 588.7 L628.0 588.7 L628.0 589.5 L631.0 589.5 L631.0 586.8 L632.5 586.8 L632.5 590.2 L635.5 590.2 L635.5 586.7 L637.0 586.7 L637.0 588.2 L638.5 588.2 L638.5 589.2 L641.0 589.2 L641.0 586.9 L644.0 586.9 L644.0 587.7 L645.5 587.7 L645.5 589.0 L648.0 589.0 L648.0 589.5 L650.0 589.5 L650.0 587.8 L652.5 587.8 L652.5 589.9 L654.0 589.9 L654.0 586.9 L657.0 586.9 L657.0 588.2 L659.0 588.2 L659.0 588.1 L662.5 588.1 L662.5 587.6 L664.0 587.6 L664.0 589.3 L667.5 589.3 L667.5 589.3 L671.0 589.3 L671.0 591.1 L673.0 591.1 L673.0 588.9 L674.5 588.9 L674.5 588.2 L677.5 588.2 L677.5 592.2 L679.5 592.2 L679.5 591.2 L681.5 591.2 L681.5 590.5 L683.5 590.5 L683.5 589.9 L685.0 589.9 L685.0 591.3 L687.5 591.3 L687.5 590.6 L690.5 590.6 L690.5 589.6 L692.0 589.6 L692.0 591.7 L694.0 591.7 L694.0 590.0 L696.5 590.0 L696.5 588.9 L699.5 588.9 L699.5 586.4 L702.5 586.4 L702.5 585.9 L705.0 585.9 L705.0 587.6 L707.0 587.6 L707.0 589.1 L708.5 589.1 L708.5 588.3 L711.0 588.3 L711.0 591.0 L713.5 591.0 L713.5 591.0 L715.5 591.0 L715.5 592.4 L717.5 592.4 L717.5 589.1 L719.5 589.1 L719.5 587.8 L722.0 587.8 L722.0 587.3 L725.5 587.3 L725.5 586.2 L728.5 586.2 L728.5 584.0 L731.5 584.0 L731.5 584.0 L733.0 584.0 L733.0 584.3 L734.5 584.3 L734.5 580.2 L736.5 580.2 L736.5 579.5 L738.0 579.5 L738.0 581.3 L741.0 581.3 L741.0 580.6 L744.5 580.6 L744.5 580.5 L748.0 580.5 L748.0 580.5 L751.5 580.5 L751.5 581.3 L755.0 581.3 L755.0 575.2 L756.5 575.2 L756.5 581.3 L758.0 581.3 L758.0 578.1 L760.0 578.1 L760.0 580.6 L762.5 580.6 L762.5 580.0 L765.5 580.0 L765.5 580.8 L767.5 580.8 L767.5 578.9 L771.0 578.9 L771.0 577.7 L773.0 577.7 L773.0 579.3 L774.5 579.3 L774.5 579.2 L776.5 579.2 L776.5 581.1 L780.0 581.1 L780.0 578.1 L783.0 578.1 L783.0 575.5 L785.5 575.5 L785.5 574.7 L787.0 574.7 L787.0 573.7 L790.5 573.7 L790.5 572.4 L793.0 572.4 L793.0 570.6 L794.5 570.6 L794.5 570.4 L796.0 570.4 L796.0 571.6 L797.5 571.6 L797.5 571.7 L800.0 571.7 L800.0 571.1 L801.5 571.1 L801.5 570.8 L803.5 570.8 L803.5 570.6 L805.0 570.6 L805.0 570.2 L807.0 570.2 L807.0 568.6 L808.5 568.6 L808.5 569.1 L810.5 569.1 L810.5 570.4 L814.0 570.4 L814.0 568.0 L817.5 568.0 L817.5 570.8 L820.0 570.8 L820.0 568.6 L823.0 568.6 L823.0 568.9 L825.5 568.9 L825.5 567.8 L828.0 567.8 L828.0 570.1 L830.0 570.1 L830.0 567.3 L833.5 567.3 L833.5 567.0 L835.0 567.0 L835.0 567.2 L838.5 567.2 L838.5 564.7 L840.5 564.7 L840.5 565.0 L842.0 565.0 L842.0 564.6 L845.5 564.6 L845.5 563.7 L848.0 563.7 L848.0 566.1 L851.0 566.1 L851.0 563.5 L852.5 563.5 L852.5 565.2 L854.5 565.2 L854.5 563.3 L858.0 563.3 L858.0 562.7 L861.0 562.7 L861.0 561.7 L863.5 561.7 L863.5 564.6 L867.0 564.6 L867.0 562.6 L869.0 562.6 L869.0 561.4 L871.0 561.4 L871.0 560.9 L872.5 560.9 L872.5 561.1 L874.0 561.1 L874.0 561.9 L876.0 561.9 L876.0 561.8 L877.5 561.8 L877.5 562.8 L879.0 562.8 L879.0 561.4 L882.0 561.4 L882.0 562.0 L885.5 562.0 L885.5 561.6 L887.0 561.6 L887.0 563.2 L889.5 563.2 L889.5 560.2 L891.0 560.2 L891.0 561.1 L894.0 561.1 L894.0 559.6 L897.5 559.6 L897.5 562.2 L901.0 562.2 L901.0 559.8 L904.0 559.8 L904.0 558.9 L906.0 558.9 L906.0 558.7 L909.0 558.7 L909.0 559.9 L911.0 559.9 L911.0 561.4 L913.5 561.4 L913.5 560.7 L916.0 560.7 L916.0 557.5 L918.5 557.5 L918.5 560.5 L921.0 560.5 L921.0 559.6 L922.5 559.6 L922.5 558.8 L924.0 558.8 L924.0 559.8 L927.0 559.8 L927.0 560.2 L929.0 560.2 L929.0 557.1 L932.5 557.1 L932.5 557.1 L935.5 557.1 L935.5 556.7 L939.0 556.7 L939.0 559.4 L942.5 559.4 L942.5 554.7 L944.0 554.7 L944.0 559.4 L945.5 559.4 L945.5 557.7 L947.0 557.7 L947.0 556.8 L950.5 556.8 L950.5 555.9 L953.5 555.9 L953.5 558.3 L955.5 558.3 L955.5 558.9 L957.5 558.9 L957.5 557.3 L960.5 557.3 L960.5 558.6 L963.0 558.6 L963.0 558.3 L965.0 558.3 L965.0 556.7 L967.5 556.7 L967.5 556.8 L971.0 556.8 L971.0 558.0 L973.5 558.0 L973.5 557.0 L975.5 557.0 L975.5 558.5 L978.0 558.5 L978.0 557.6 L981.5 557.6 L981.5 556.9 L983.5 556.9 L983.5 558.8 L986.0 558.8 L986.0 556.5 L988.0 556.5 L988.0 556.1 L990.0 556.1 L990.0 557.1 L992.5 557.1 L992.5 557.5 L994.0 557.5 L994.0 557.8 L997.5 557.8 L997.5 557.8 L1000.0 557.8 L1000.0 555.7 L1002.5 555.7 L1002.5 557.1 L1004.0 557.1 L1004.0 556.6 L1007.5 556.6 L1007.5 555.3 L1011.0 555.3 L1011.0 556.9 L1014.0 556.9 L1014.0 559.9 L1016.0 559.9 L1016.0 558.2 L1018.0 558.2 L1018.0 559.1 L1021.5 559.1 L1021.5 558.2 L1023.5 558.2 L1023.5 559.4 L1025.0 559.4 L1025.0 560.9 L1027.5 560.9 L1027.5 559.9 L1030.5 559.9 L1030.5 561.2 L1032.5 561.2 L1032.5 561.7 L1036.0 561.7 L1036.0 561.3 L1039.0 561.3 L1039.0 560.2 L1041.5 560.2 L1041.5 562.2 L1043.5 562.2 L1043.5 562.4 L1045.0 562.4 L1045.0 563.4 L1048.5 563.4 L1048.5 561.3 L1052.0 561.3 L1052.0 562.0 L1054.5 562.0 L1054.5 562.3 L1057.5 562.3 L1057.5 561.6 L1061.0 561.6 L1061.0 561.8 L1064.5 561.8 L1064.5 562.8 L1067.5 562.8 L1067.5 563.3 L1071.0 563.3 L1071.0 561.3 L1074.0 561.3 L1074.0 563.2 L1075.5 563.2 L1075.5 561.5 L1079.0 561.5 L1079.0 561.7 L1082.5 561.7 L1082.5 563.3 L1084.0 563.3 L1084.0 561.5 L1085.5 561.5 L1085.5 560.7 L1087.0 560.7 L1087.0 560.4 L1089.0 560.4 L1089.0 562.2 L1091.5 562.2 L1091.5 561.5 L1093.0 561.5 L1093.0 560.5 L1096.5 560.5 L1096.5 561.1 L1098.5 561.1 L1098.5 561.4 L1101.5 561.4 L1101.5 559.1 L1104.0 559.1 L1104.0 559.8 L1106.5 559.8 L1106.5 560.2 L1109.0 560.2 L1109.0 560.1 L1112.5 560.1 L1112.5 560.4 L1114.5 560.4 L1114.5 561.5 L1116.0 561.5 L1116.0 560.3 L1118.5 560.3 L1118.5 560.6 L1120.5 560.6 L1120.5 558.2 L1124.0 558.2 L1124.0 560.5 L1126.0 560.5 L1126.0 559.9 L1129.0 559.9 L1129.0 557.5 L1132.5 557.5 L1132.5 556.6 L1135.5 556.6 L1135.5 558.0 L1137.5 558.0 L1137.5 556.1 L1141.0 556.1 L1141.0 557.1 L1143.5 557.1 L1143.5 559.5 L1145.0 559.5 L1145.0 557.7 L1146.5 557.7 L1146.5 555.4 L1148.0 555.4 L1148.0 559.0 L1150.5 559.0 L1150.5 559.9 L1153.5 559.9 L1153.5 558.6 L1155.0 558.6 L1155.0 560.5 L1158.0 560.5 L1158.0 559.7 L1161.0 559.7 L1161.0 557.3 L1162.5 557.3 L1162.5 560.0 L1165.5 560.0 L1165.5 560.9 L1169.0 560.9 L1169.0 561.9 L1172.5 561.9 L1172.5 559.6 L1174.0 559.6 L1174.0 558.1 L1175.5 558.1 L1175.5 560.7 L1177.0 560.7 L1177.0 562.7 L1180.0 562.7 L1180.0 561.7 L1182.5 561.7 L1182.5 561.6 L1184.0 561.6 L1184.0 562.1 L1187.5 562.1 L1187.5 564.6 L1189.5 564.6 L1189.5 564.3 L1193.0 564.3 L1193.0 563.9 L1196.5 563.9 L1196.5 562.9 L1200.0 562.9 L1200.0 562.6 L1203.5 562.6 L1203.5 559.3 L1205.0 559.3 L1205.0 560.6 L1206.5 560.6 L1206.5 561.4 L1209.0 561.4 L1209.0 559.3 L1210.5 559.3 L1210.5 555.6 L1212.0 555.6 L1212.0 559.9 L1215.5 559.9 L1215.5 558.8 L1219.0 558.8 L1219.0 557.5 L1220.5 557.5 L1220.5 559.1 L1224.0 559.1 L1224.0 559.1 L1226.0 559.1 L1226.0 557.4 L1229.5 557.4 L1229.5 555.8 L1232.0 555.8 L1232.0 556.2 L1235.5 556.2 L1235.5 557.1 L1237.0 557.1 L1237.0 556.5 L1238.5 556.5 L1238.5 557.7 L1241.5 557.7 L1241.5 555.8 L1243.5 555.8 L1243.5 556.0 L1246.5 556.0 L1246.5 557.2 L1248.5 557.2 L1248.5 558.7 L1251.5 558.7 L1251.5 558.3 L1254.0 558.3 L1254.0 556.2 L1256.0 556.2 L1256.0 556.0 L1259.5 556.0 L1259.5 554.1 L1261.0 554.1 L1261.0 557.1 L1264.5 557.1 L1264.5 555.4 L1267.0 555.4 L1267.0 555.9 L1269.0 555.9 L1269.0 558.0 L1272.5 558.0 L1272.5 556.3 L1275.0 556.3 L1275.0 555.0 L1277.0 555.0 L1277.0 553.0 L1280.0 553.0 L1280.0 554.0 L1283.5 554.0 L1283.5 551.4 L1287.0 551.4 L1287.0 551.3 L1289.0 551.3 L1289.0 548.7 L1292.0 548.7 L1292.0 551.6 L1294.0 551.6 L1294.0 549.5 L1296.5 549.5 L1296.5 548.6 L1299.5 548.6 L1299.5 551.1 L1301.5 551.1 L1301.5 548.9 L1304.5 548.9 L1304.5 548.7 L1306.5 548.7 L1306.5 548.0 L1309.5 548.0 L1309.5 550.5 L1313.0 550.5 L1313.0 549.1 L1315.5 549.1 L1315.5 548.1 L1317.5 548.1 L1317.5 551.6 L1320.5 551.6 L1320.5 551.1 L1322.5 551.1 L1322.5 550.6 L1325.5 550.6 L1325.5 549.6 L1328.0 549.6 L1328.0 551.0 L1330.0 551.0 L1330.0 550.3 L1333.0 550.3 L1333.0 549.8 L1334.5 549.8 L1334.5 549.0 L1337.5 549.0 L1337.5 549.4 L1339.0 549.4 L1339.0 549.8 L1341.5 549.8 L1341.5 552.4 L1344.0 552.4 L1344.0 550.8 L1347.0 550.8 L1347.0 551.3 L1350.0 551.3 L1350.0 547.8 L1352.5 547.8 L1352.5 547.7 L1355.0 547.7 L1355.0 549.0 L1357.0 549.0 L1357.0 545.6 L1360.5 545.6 L1360.5 546.0 L1362.5 546.0 L1362.5 542.8 L1364.0 542.8 L1364.0 545.3 L1365.5 545.3 L1365.5 543.4 L1368.5 543.4 L1368.5 543.4 L1370.5 543.4 L1370.5 545.2 L1372.0 545.2 L1372.0 544.2 L1375.0 544.2 L1375.0 544.1 L1377.0 544.1 L1377.0 542.1 L1380.5 542.1 L1380.5 541.2 L1384.0 541.2 L1384.0 540.0 L1386.5 540.0 L1386.5 538.8 L1390.0 538.8 L1390.0 534.5 L1391.5 534.5 L1391.5 538.5 L1393.5 538.5 L1393.5 534.4 L1396.0 534.4 L1396.0 535.0 L1399.0 535.0 L1399.0 534.9 L1401.0 534.9 L1401.0 533.5 L1404.0 533.5 L1404.0 531.9 L1407.0 531.9 L1407.0 530.5 L1408.5 530.5 L1408.5 531.9 L1410.0 531.9 L1410.0 531.4 L1413.0 531.4 L1413.0 534.9 L1415.0 534.9 L1415.0 533.3 L1418.0 533.3 L1418.0 536.3 L1420.5 536.3 L1420.5 534.1 L1424.0 534.1 L1424.0 536.3 L1426.0 536.3 L1426.0 538.1 L1428.0 538.1 L1428.0 537.9 L1431.0 537.9 L1431.0 537.0 L1434.0 537.0 L1434.0 538.9 L1435.5 538.9 L1435.5 538.5 L1437.0 538.5 L1437.0 536.3 L1439.5 536.3 L1439.5 537.6 L1441.5 537.6 L1441.5 538.9 L1443.5 538.9 L1443.5 536.8 L1445.0 536.8 L1445.0 536.3 L1446.5 536.3 L1446.5 538.7 L1449.0 538.7 L1449.0 540.1 L1452.0 540.1 L1452.0 537.0 L1453.5 537.0 L1453.5 541.0 L1457.0 541.0 L1457.0 540.0 L1459.0 540.0 L1459.0 540.2 L1462.0 540.2 L1462.0 537.8 L1464.5 537.8 L1464.5 541.3 L1467.5 541.3 L1467.5 539.9 L1470.5 539.9 L1470.5 541.8 L1472.5 541.8 L1472.5 540.9 L1475.5 540.9 L1475.5 540.8 L1478.0 540.8 L1478.0 538.6 L1481.0 538.6 L1481.0 542.3 L1483.0 542.3 L1483.0 540.0 L1485.0 540.0 L1485.0 542.4 L1487.5 542.4 L1487.5 541.6 L1491.0 541.6 L1491.0 542.0 L1493.0 542.0 L1493.0 535.2 L1494.5 535.2 L1494.5 542.8 L1498.0 542.8 L1498.0 540.8 L1501.5 540.8 L1501.5 541.0 L1505.0 541.0 L1505.0 542.0 L1507.5 542.0 L1507.5 541.4 L1510.5 541.4 L1510.5 545.3 L1513.5 545.3 L1513.5 544.4 L1516.5 544.4 L1516.5 545.7 L1519.0 545.7 L1519.0 542.8 L1521.0 542.8 L1521.0 546.6 L1522.5 546.6 L1522.5 545.7 L1524.0 545.7 L1524.0 546.9 L1526.5 546.9 L1526.5 543.6 L1528.5 543.6 L1528.5 546.5 L1532.0 546.5 L1532.0 545.8 L1534.0 545.8 L1534.0 544.0 L1537.5 544.0 L1537.5 543.7 L1540.5 543.7 L1540.5 540.2 L1544.0 540.2 L1544.0 542.1 L1545.5 542.1 L1545.5 540.1 L1547.0 540.1 L1547.0 538.7 L1550.0 538.7 L1550.0 541.5 L1552.0 541.5 L1552.0 538.3 L1553.5 538.3 L1553.5 538.4 L1555.5 538.4 L1555.5 535.9 L1557.0 535.9 L1557.0 540.7 L1559.5 540.7 L1559.5 539.8 L1562.5 539.8 L1562.5 539.4 L1565.0 539.4 L1565.0 539.7 L1568.0 539.7 L1568.0 537.9 L1570.5 537.9 L1570.5 541.3 L1572.0 541.3 L1572.0 540.3 L1573.5 540.3 L1573.5 541.4 L1575.5 541.4 L1575.5 539.1 L1577.0 539.1 L1577.0 543.1 L1580.5 543.1 L1580.5 541.7 L1582.5 541.7 L1582.5 541.4 L1586.0 541.4 L1586.0 542.3 L1589.0 542.3 L1589.0 544.3 L1592.0 544.3 L1592.0 545.8 L1595.5 545.8 L1595.5 546.5 L1597.0 546.5 L1597.0 547.5 L1600.0 547.5 L1600.0 546.3 L1603.5 546.3 L1603.5 546.3 L1606.5 546.3 L1606.5 545.7 L1608.0 545.7 L1608.0 546.3 L1611.5 546.3 L1611.5 547.2 L1613.5 547.2 L1613.5 546.1 L1616.0 546.1 L1616.0 547.4 L1619.5 547.4 L1619.5 544.4 L1623.0 544.4 L1623.0 547.3 L1625.5 547.3 L1625.5 545.7 L1629.0 545.7 L1629.0 545.0 L1632.5 545.0 L1632.5 543.2 L1635.5 543.2 L1635.5 542.4 L1638.0 542.4 L1638.0 543.3 L1641.0 543.3 L1641.0 540.0 L1643.0 540.0 L1643.0 542.4 L1644.5 542.4 L1644.5 541.9 L1647.5 541.9 L1647.5 541.6 L1650.0 541.6 L1650.0 539.9 L1652.5 539.9 L1652.5 538.2 L1654.0 538.2 L1654.0 542.2 L1655.5 542.2 L1655.5 539.3 L1659.0 539.3 L1659.0 540.1 L1660.5 540.1 L1660.5 542.2 L1663.0 542.2 L1663.0 539.8 L1666.0 539.8 L1666.0 541.2 L1668.5 541.2 L1668.5 536.6 L1670.0 536.6 L1670.0 541.2 L1672.0 541.2 L1672.0 540.5 L1675.5 540.5 L1675.5 539.9 L1678.0 539.9 L1678.0 538.5 L1681.5 538.5 L1681.5 540.3 L1683.0 540.3 L1683.0 539.7 L1685.5 539.7 L1685.5 538.2 L1689.0 538.2 L1689.0 540.4 L1691.0 540.4 L1691.0 541.7 L1693.5 541.7 L1693.5 540.3 L1697.0 540.3 L1697.0 539.3 L1699.5 539.3 L1699.5 541.2 L1701.0 541.2 L1701.0 541.9 L1703.0 541.9 L1703.0 542.6 L1706.0 542.6 L1706.0 539.3 L1708.0 539.3 L1708.0 540.7 L1711.0 540.7 L1711.0 539.7 L1713.0 539.7 L1713.0 542.2 L1715.0 542.2 L1715.0 543.0 L1716.5 543.0 L1716.5 542.2 L1719.5 542.2 L1719.5 542.3 L1721.5 542.3 L1721.5 539.8 L1723.5 539.8 L1723.5 541.4 L1727.0 541.4 L1727.0 541.2 L1730.5 541.2 L1730.5 540.8 L1733.0 540.8 L1733.0 540.3 L1736.0 540.3 L1736.0 540.7 L1738.5 540.7 L1738.5 541.3 L1742.0 541.3 L1742.0 538.8 L1745.0 538.8 L1745.0 539.8 L1747.0 539.8 L1747.0 541.8 L1750.5 541.8 L1750.5 538.4 L1754.0 538.4 L1754.0 540.6 L1756.0 540.6 L1756.0 538.8 L1759.0 538.8 L1759.0 539.3 L1761.5 539.3 L1761.5 538.4 L1763.0 538.4 L1763.0 537.8 L1764.5 537.8 L1764.5 538.7 L1768.0 538.7 L1768.0 535.6 L1771.5 535.6 L1771.5 535.4 L1774.0 535.4 L1774.0 535.4 L1775.5 535.4 L1775.5 533.3 L1777.5 533.3 L1777.5 536.3 L1779.0 536.3 L1779.0 533.2 L1780.5 533.2 L1780.5 532.7 L1783.0 532.7 L1783.0 534.1 L1785.5 534.1 L1785.5 533.7 L1787.0 533.7 L1787.0 534.2 L1788.5 534.2 L1788.5 532.5 L1792.0 532.5 L1792.0 533.8 L1794.0 533.8 L1794.0 534.5 L1797.5 534.5 L1797.5 534.0 L1799.0 534.0 L1799.0 528.7 L1800.5 528.7 L1800.5 533.8 L1803.5 533.8 L1803.5 535.6 L1805.0 535.6 L1805.0 535.2 L1808.0 535.2 L1808.0 536.0 L1810.5 536.0 L1810.5 539.2 L1813.0 539.2 L1813.0 539.0 L1814.5 539.0 L1814.5 536.5 L1816.0 536.5 L1816.0 539.3 L1818.0 539.3 L1818.0 539.7 L1819.5 539.7 L1819.5 540.0 L1822.0 540.0 L1822.0 540.4 L1824.0 540.4 L1824.0 539.1 L1827.0 539.1 L1827.0 538.9 L1828.5 538.9 L1828.5 537.8 L1831.5 537.8 L1831.5 539.3 L1834.0 539.3 L1834.0 540.8 L1836.0 540.8 L1836.0 537.4 L1838.5 537.4 L1838.5 540.4 L1841.5 540.4 L1841.5 539.7 L1844.5 539.7 L1844.5 539.9 L1846.0 539.9 L1846.0 539.6 L1848.0 539.6 L1848.0 540.3 L1849.5 540.3 L1849.5 542.1 L1853.0 542.1 L1853.0 539.1 L1855.0 539.1 L1855.0 542.5 L1858.0 542.5 L1858.0 541.6 L1859.5 541.6 L1859.5 542.0 L1863.0 542.0 L1863.0 542.4 L1866.0 542.4 L1866.0 542.9 L1867.5 542.9 L1867.5 539.7 L1869.5 539.7 L1869.5 540.4 L1872.0 540.4 L1872.0 540.3 L1874.5 540.3 L1874.5 539.9 L1876.5 539.9 L1876.5 541.6 L1878.0 541.6 L1878.0 542.9 L1879.5 542.9 L1879.5 542.0 L1882.0 542.0 L1882.0 540.7 L1883.5 540.7 L1883.5 540.7 L1886.0 540.7 L1886.0 541.5 L1889.5 541.5 L1889.5 542.9 L1891.0 542.9 L1891.0 543.5 L1893.0 543.5 L1893.0 542.7 L1895.5 542.7 L1895.5 543.6 L1897.0 543.6 L1897.0 540.6 L1898.5 540.6 L1898.5 539.7 L1900.0 539.7 L1900.0 541.8 L1902.0 541.8 L1902.0 540.8 L1903.5 540.8 L1903.5 539.5 L1906.0 539.5 L1906.0 541.3 L1908.0 541.3 L1908.0 536.1 L1909.5 536.1 L1909.5 539.5 L1912.5 539.5 L1912.5 540.0 L1915.5 540.0 L1915.5 541.2 L1918.5 541.2 L1918.5 541.1 L1922.0 541.1 L1922.0 540.6 L1924.0 540.6 L1924.0 538.9 L1926.0 538.9 L1926.0 540.5 L1928.0 540.5 L1928.0 536.9 L1931.5 536.9 L1931.5 539.1 L1933.0 539.1 L1933.0 537.4 L1936.0 537.4 L1936.0 538.3 L1939.0 538.3 L1939.0 535.6 L1942.5 535.6 L1942.5 537.1 L1944.0 537.1 L1944.0 537.2 L1946.0 537.2 L1946.0 536.7 L1949.0 536.7 L1949.0 534.9 L1951.0 534.9 L1951.0 537.0 L1953.5 537.0 L1953.5 535.0 L1956.5 535.0 L1956.5 534.0 L1960.0 534.0 L1960.0 535.7 L1962.5 535.7 L1962.5 534.4 L1964.0 534.4 L1964.0 536.3 L1966.0 536.3 L1966.0 534.5 L1968.5 534.5 L1968.5 534.9 L1972.0 534.9 L1972.0 535.9 L1975.5 535.9 L1975.5 533.5 L1977.5 533.5 L1977.5 534.1 L1979.5 534.1 L1979.5 536.6 L1982.0 536.6 L1982.0 534.9 L1985.5 534.9 L1985.5 536.1 L1989.0 536.1 L1989.0 534.2 L1992.0 534.2 L1992.0 537.2 L1994.5 537.2 L1994.5 534.1 L1996.5 534.1 L1996.5 536.2 L1999.5 536.2 L1999.5 533.8 L2002.5 533.8 L2002.5 533.4 L2004.5 533.4 L2004.5 535.7 L2007.0 535.7 L2007.0 533.3 L2010.0 533.3 L2010.0 535.4 L2012.5 535.4 L2012.5 536.9 L2015.0 536.9 L2015.0 531.6 L2016.5 531.6 L2016.5 534.1 L2018.5 534.1 L2018.5 535.1 L2022.0 535.1 L2022.0 534.6 L2024.5 534.6 L2024.5 533.0 L2026.0 533.0 L2026.0 534.0 L2028.0 534.0 L2028.0 533.3 L2031.5 533.3 L2031.5 534.8 L2033.0 534.8 L2033.0 536.3 L2035.5 536.3 L2035.5 534.6 L2038.0 534.6 L2038.0 536.3 L2041.5 536.3 L2041.5 535.5 L2045.0 535.5 L2045.0 534.8 L2046.5 534.8 L2046.5 531.7 L2048.0 531.7 L2048.0 534.5 L2049.5 534.5 L2049.5 535.6 L2052.5 535.6 L2052.5 534.0 L2054.5 534.0 L2054.5 532.4 L2056.5 532.4 L2056.5 532.3 L2058.0 532.3 L2058.0 531.5 L2059.5 531.5 L2059.5 534.9 L2061.5 534.9 L2061.5 535.7 L2064.5 535.7 L2064.5 535.5 L2066.5 535.5 L2066.5 535.8 L2068.5 535.8 L2068.5 532.1 L2070.0 532.1 L2070.0 532.2 L2071.5 532.2 L2071.5 534.3 L2074.0 534.3 L2074.0 534.4 L2077.5 534.4 L2077.5 534.2 L2079.0 534.2 L2079.0 534.7 L2080.5 534.7 L2080.5 533.1 L2082.5 533.1 L2082.5 533.7 L2086.0 533.7 L2086.0 530.9 L2088.0 530.9 L2088.0 530.7 L2090.0 530.7 L2090.0 532.5 L2093.5 532.5 L2093.5 529.9 L2097.0 529.9 L2097.0 529.8 L2099.0 529.8 L2099.0 530.5 L2101.5 530.5 L2101.5 532.1 L2104.5 532.1 L2104.5 532.7 L2108.0 532.7 L2108.0 528.7 L2110.5 528.7 L2110.5 530.2 L2113.0 530.2 L2113.0 530.2 L2115.5 530.2 L2115.5 529.6 L2119.0 529.6 L2119.0 528.9 L2122.5 528.9 L2122.5 530.3 L2125.5 530.3 L2125.5 529.3 L2129.0 529.3 L2129.0 527.3 L2130.5 527.3 L2130.5 529.6 L2132.0 529.6 L2132.0 527.7 L2134.5 527.7 L2134.5 528.3 L2136.5 528.3 L2136.5 529.8 L2138.5 529.8 L2138.5 526.3 L2140.0 526.3 L2140.0 526.3 L2143.0 526.3 L2143.0 529.3 L2145.5 529.3 L2145.5 527.5 L2148.5 527.5 L2148.5 528.9 L2151.5 528.9 L2151.5 528.8 L2153.0 528.8 L2153.0 528.1 L2155.5 528.1 L2155.5 526.0 L2157.5 526.0 L2157.5 526.8 L2160.5 526.8 L2160.5 527.6 L2163.0 527.6 L2163.0 527.2 L2166.0 527.2 L2166.0 527.0 L2168.0 527.0 L2168.0 525.5 L2169.5 525.5 L2169.5 527.4 L2171.5 527.4 L2171.5 525.3 L2174.5 525.3 L2174.5 525.0 L2177.0 525.0 L2177.0 524.5 L2178.5 524.5 L2178.5 525.8 L2182.0 525.8 L2182.0 528.0 L2184.0 528.0 L2184.0 524.1 L2185.5 524.1 L2185.5 527.3 L2188.5 527.3 L2188.5 525.0 L2191.5 525.0 L2191.5 524.6 L2195.0 524.6 L2195.0 524.3 L2198.5 524.3 L2198.5 528.0 L2201.0 528.0 L2201.0 526.5 L2203.0 526.5 L2203.0 525.9 L2206.0 525.9 L2206.0 526.5 L2209.0 526.5 L2209.0 527.2 L2212.0 527.2 L2212.0 529.9 L2215.5 529.9 L2215.5 526.9 L2218.0 526.9 L2218.0 527.9 L2221.0 527.9 L2221.0 530.5 L2224.5 530.5 L2224.5 529.0 L2228.0 529.0 L2228.0 530.3 L2230.5 530.3 L2230.5 532.2 L2232.5 532.2 L2232.5 531.8 L2234.0 531.8 L2234.0 531.8 L2237.5 531.8 L2237.5 529.7 L2239.5 529.7 L2239.5 530.0 L2241.0 530.0 L2241.0 528.9 L2243.5 528.9 L2243.5 529.4 L2246.0 529.4 L2246.0 528.7 L2249.5 528.7 L2249.5 529.5 L2252.0 529.5 L2252.0 530.6 L2255.0 530.6 L2255.0 530.6 L2258.0 530.6 L2258.0 527.8 L2260.0 527.8 L2260.0 529.2 L2263.0 529.2 L2263.0 530.4 L2266.5 530.4 L2266.5 529.5 L2268.0 529.5 L2268.0 529.0 L2270.5 529.0 L2270.5 529.2 L2273.0 529.2 L2273.0 526.8 L2276.5 526.8 L2276.5 529.5 L2280.0 529.5 L2280.0 528.4 L2282.5 528.4 L2282.5 527.0 L2286.0 527.0 L2286.0 530.0 L2289.5 530.0 L2289.5 528.2 L2292.5 528.2 L2292.5 529.5 L2294.5 529.5 L2294.5 527.1 L2298.0 527.1 L2298.0 528.1 L2301.5 528.1 L2301.5 527.8 L2303.5 527.8 L2303.5 527.4 L2305.0 527.4 L2305.0 526.6 L2308.0 526.6 L2308.0 526.5 L2310.0 526.5 L2310.0 525.8 L2313.0 525.8 L2313.0 527.1 L2315.5 527.1 L2315.5 527.2 L2318.0 527.2 L2318.0 527.6 L2319.5 527.6 L2319.5 525.4 L2321.5 525.4 L2321.5 525.0 L2324.0 525.0 L2324.0 526.9 L2326.0 526.9 L2326.0 526.7 L2327.5 526.7 L2327.5 526.0 L2330.5 526.0 L2330.5 526.1 L2332.5 526.1 L2332.5 523.6 L2334.5 523.6 L2334.5 523.5 L2337.0 523.5 L2337.0 523.7 L2339.0 523.7 L2339.0 525.6 L2340.5 525.6 L2340.5 523.9 L2343.5 523.9 L2343.5 523.7 L2346.0 523.7 L2346.0 526.4 L2348.0 526.4 L2348.0 523.3 L2351.5 523.3 L2351.5 523.8 L2355.0 523.8 L2355.0 523.5 L2358.0 523.5 L2358.0 523.6 L2360.5 523.6 L2360.5 524.1 L2362.5 524.1 L2362.5 523.5 L2364.5 523.5 L2364.5 525.4 L2368.0 525.4 L2368.0 523.5 L2370.5 523.5 L2370.5 521.7 L2373.5 521.7 L2373.5 522.2 L2376.5 522.2 L2376.5 522.5 L2378.0 522.5 L2378.0 525.1 L2381.0 525.1 L2381.0 525.3 L2384.5 525.3 L2384.5 524.9 L2386.0 524.9 L2386.0 524.9 L2388.0 524.9 L2388.0 527.4 L2391.5 527.4 L2391.5 524.9 L2393.0 524.9 L2393.0 525.5 L2395.5 525.5 L2395.5 528.4 L2398.0 528.4 L2398.0 526.9 L2400.0 526.9 L2400.0 527.7 L2403.0 527.7 L2403.0 526.9 L2404.5 526.9 L2404.5 527.4 L2407.0 527.4 L2407.0 529.7 L2410.5 529.7 L2410.5 530.0 L2413.5 530.0 L2413.5 529.1 L2415.0 529.1 L2415.0 530.1 L2418.0 530.1 L2418.0 531.5 L2419.5 531.5 L2419.5 531.7 L2421.0 531.7 L2421.0 554.2 L2418.5 554.2 L2418.5 558.0 L2415.0 558.0 L2415.0 555.1 L2412.0 555.1 L2412.0 554.9 L2409.5 554.9 L2409.5 555.3 L2407.0 555.3 L2407.0 556.0 L2403.5 556.0 L2403.5 559.0 L2401.5 559.0 L2401.5 559.7 L2399.0 559.7 L2399.0 556.1 L2395.5 556.1 L2395.5 559.2 L2392.0 559.2 L2392.0 558.0 L2390.0 558.0 L2390.0 558.1 L2387.0 558.1 L2387.0 560.3 L2384.0 560.3 L2384.0 558.0 L2381.5 558.0 L2381.5 557.7 L2378.5 557.7 L2378.5 557.8 L2376.0 557.8 L2376.0 557.0 L2374.5 557.0 L2374.5 552.1 L2372.0 552.1 L2372.0 553.8 L2369.0 553.8 L2369.0 553.2 L2367.5 553.2 L2367.5 552.5 L2366.0 552.5 L2366.0 553.1 L2363.5 553.1 L2363.5 555.2 L2362.0 555.2 L2362.0 556.7 L2358.5 556.7 L2358.5 557.3 L2355.0 557.3 L2355.0 557.0 L2352.5 557.0 L2352.5 557.9 L2350.0 557.9 L2350.0 557.1 L2346.5 557.1 L2346.5 558.6 L2345.0 558.6 L2345.0 556.1 L2341.5 556.1 L2341.5 558.0 L2339.5 558.0 L2339.5 558.9 L2337.0 558.9 L2337.0 563.8 L2335.5 563.8 L2335.5 557.2 L2334.0 557.2 L2334.0 557.4 L2331.5 557.4 L2331.5 555.7 L2328.0 555.7 L2328.0 553.8 L2326.5 553.8 L2326.5 554.9 L2324.5 554.9 L2324.5 552.7 L2322.5 552.7 L2322.5 555.6 L2320.5 555.6 L2320.5 552.9 L2318.5 552.9 L2318.5 555.1 L2315.0 555.1 L2315.0 555.4 L2313.5 555.4 L2313.5 554.2 L2312.0 554.2 L2312.0 553.6 L2309.0 553.6 L2309.0 556.4 L2306.0 556.4 L2306.0 554.0 L2304.5 554.0 L2304.5 555.0 L2301.0 555.0 L2301.0 558.3 L2299.0 558.3 L2299.0 557.9 L2297.0 557.9 L2297.0 554.4 L2293.5 554.4 L2293.5 557.8 L2291.5 557.8 L2291.5 556.3 L2288.5 556.3 L2288.5 554.8 L2287.0 554.8 L2287.0 556.2 L2284.5 556.2 L2284.5 555.3 L2283.0 555.3 L2283.0 559.0 L2281.5 559.0 L2281.5 556.3 L2278.0 556.3 L2278.0 553.1 L2275.0 553.1 L2275.0 556.0 L2273.5 556.0 L2273.5 556.4 L2270.5 556.4 L2270.5 553.2 L2267.5 553.2 L2267.5 554.2 L2264.5 554.2 L2264.5 554.5 L2262.0 554.5 L2262.0 554.4 L2260.0 554.4 L2260.0 554.0 L2258.5 554.0 L2258.5 553.2 L2256.5 553.2 L2256.5 552.9 L2254.0 552.9 L2254.0 554.8 L2252.5 554.8 L2252.5 552.9 L2251.0 552.9 L2251.0 555.5 L2249.5 555.5 L2249.5 554.9 L2248.0 554.9 L2248.0 554.8 L2245.0 554.8 L2245.0 556.8 L2241.5 556.8 L2241.5 555.0 L2240.0 555.0 L2240.0 555.4 L2237.5 555.4 L2237.5 555.5 L2235.0 555.5 L2235.0 557.8 L2231.5 557.8 L2231.5 558.9 L2228.0 558.9 L2228.0 558.9 L2226.5 558.9 L2226.5 557.1 L2224.5 557.1 L2224.5 559.8 L2222.5 559.8 L2222.5 558.6 L2221.0 558.6 L2221.0 557.7 L2219.0 557.7 L2219.0 559.7 L2215.5 559.7 L2215.5 560.5 L2213.5 560.5 L2213.5 562.5 L2212.0 562.5 L2212.0 563.0 L2210.0 563.0 L2210.0 562.2 L2207.5 562.2 L2207.5 563.2 L2204.0 563.2 L2204.0 561.2 L2202.5 561.2 L2202.5 561.3 L2199.0 561.3 L2199.0 561.3 L2196.0 561.3 L2196.0 562.1 L2193.0 562.1 L2193.0 562.8 L2190.0 562.8 L2190.0 561.7 L2188.0 561.7 L2188.0 561.5 L2185.0 561.5 L2185.0 560.1 L2181.5 560.1 L2181.5 561.5 L2180.0 561.5 L2180.0 561.2 L2177.0 561.2 L2177.0 559.9 L2173.5 559.9 L2173.5 562.9 L2172.0 562.9 L2172.0 560.5 L2168.5 560.5 L2168.5 562.9 L2166.0 562.9 L2166.0 562.6 L2163.5 562.6 L2163.5 562.6 L2162.0 562.6 L2162.0 564.6 L2159.5 564.6 L2159.5 561.5 L2156.5 561.5 L2156.5 563.3 L2154.5 563.3 L2154.5 564.4 L2151.0 564.4 L2151.0 562.9 L2149.0 562.9 L2149.0 563.2 L2146.5 563.2 L2146.5 565.8 L2144.0 565.8 L2144.0 566.4 L2141.5 566.4 L2141.5 565.9 L2140.0 565.9 L2140.0 565.4 L2138.5 565.4 L2138.5 566.1 L2136.0 566.1 L2136.0 564.8 L2133.5 564.8 L2133.5 563.7 L2131.5 563.7 L2131.5 565.9 L2130.0 565.9 L2130.0 563.5 L2126.5 563.5 L2126.5 565.1 L2124.0 565.1 L2124.0 563.9 L2122.5 563.9 L2122.5 563.6 L2120.0 563.6 L2120.0 563.8 L2117.0 563.8 L2117.0 563.8 L2115.0 563.8 L2115.0 565.2 L2112.0 565.2 L2112.0 563.6 L2109.5 563.6 L2109.5 564.6 L2108.0 564.6 L2108.0 564.7 L2105.0 564.7 L2105.0 563.7 L2103.0 563.7 L2103.0 562.5 L2101.5 562.5 L2101.5 565.0 L2100.0 565.0 L2100.0 566.5 L2096.5 566.5 L2096.5 565.7 L2093.5 565.7 L2093.5 565.1 L2092.0 565.1 L2092.0 569.1 L2089.5 569.1 L2089.5 566.1 L2088.0 566.1 L2088.0 569.3 L2085.0 569.3 L2085.0 566.6 L2081.5 566.6 L2081.5 568.6 L2078.0 568.6 L2078.0 565.2 L2075.0 565.2 L2075.0 568.3 L2072.0 568.3 L2072.0 568.5 L2070.0 568.5 L2070.0 565.5 L2067.5 565.5 L2067.5 566.6 L2064.5 566.6 L2064.5 566.3 L2062.5 566.3 L2062.5 566.0 L2060.5 566.0 L2060.5 565.8 L2058.0 565.8 L2058.0 566.8 L2055.5 566.8 L2055.5 565.1 L2054.0 565.1 L2054.0 567.9 L2050.5 567.9 L2050.5 566.1 L2048.0 566.1 L2048.0 564.1 L2046.0 564.1 L2046.0 567.0 L2042.5 567.0 L2042.5 563.4 L2039.0 563.4 L2039.0 566.3 L2036.5 566.3 L2036.5 564.4 L2033.5 564.4 L2033.5 566.8 L2032.0 566.8 L2032.0 566.4 L2030.0 566.4 L2030.0 565.3 L2028.5 565.3 L2028.5 563.8 L2026.0 563.8 L2026.0 565.6 L2024.0 565.6 L2024.0 565.0 L2022.0 565.0 L2022.0 565.0 L2020.5 565.0 L2020.5 564.6 L2017.5 564.6 L2017.5 562.3 L2014.0 562.3 L2014.0 562.3 L2012.5 562.3 L2012.5 562.6 L2009.5 562.6 L2009.5 564.4 L2008.0 564.4 L2008.0 563.8 L2006.5 563.8 L2006.5 564.1 L2005.0 564.1 L2005.0 563.7 L2003.5 563.7 L2003.5 562.2 L2002.0 562.2 L2002.0 561.4 L1998.5 561.4 L1998.5 563.4 L1997.0 563.4 L1997.0 561.2 L1995.5 561.2 L1995.5 561.7 L1993.5 561.7 L1993.5 561.2 L1990.0 561.2 L1990.0 563.2 L1986.5 563.2 L1986.5 563.2 L1983.0 563.2 L1983.0 563.4 L1981.5 563.4 L1981.5 563.3 L1978.5 563.3 L1978.5 564.3 L1977.0 564.3 L1977.0 564.6 L1974.0 564.6 L1974.0 565.3 L1971.5 565.3 L1971.5 563.6 L1969.0 563.6 L1969.0 567.1 L1967.5 567.1 L1967.5 566.3 L1964.5 566.3 L1964.5 566.3 L1963.0 566.3 L1963.0 565.9 L1959.5 565.9 L1959.5 568.0 L1956.0 568.0 L1956.0 566.8 L1954.5 566.8 L1954.5 569.3 L1952.5 569.3 L1952.5 570.1 L1949.0 570.1 L1949.0 567.2 L1946.5 567.2 L1946.5 567.0 L1943.0 567.0 L1943.0 569.2 L1940.5 569.2 L1940.5 566.9 L1938.0 566.9 L1938.0 567.2 L1936.0 567.2 L1936.0 570.9 L1933.0 570.9 L1933.0 570.7 L1931.5 570.7 L1931.5 568.1 L1929.5 568.1 L1929.5 567.7 L1928.0 567.7 L1928.0 568.6 L1925.5 568.6 L1925.5 570.3 L1923.5 570.3 L1923.5 569.3 L1920.0 569.3 L1920.0 574.1 L1916.5 574.1 L1916.5 574.4 L1913.0 574.4 L1913.0 576.0 L1910.5 576.0 L1910.5 574.7 L1909.0 574.7 L1909.0 577.4 L1905.5 577.4 L1905.5 577.5 L1902.0 577.5 L1902.0 577.8 L1900.0 577.8 L1900.0 579.0 L1897.0 579.0 L1897.0 578.5 L1893.5 578.5 L1893.5 579.1 L1890.0 579.1 L1890.0 580.3 L1888.0 580.3 L1888.0 580.5 L1886.0 580.5 L1886.0 578.5 L1882.5 578.5 L1882.5 579.3 L1881.0 579.3 L1881.0 579.6 L1878.0 579.6 L1878.0 582.3 L1875.0 582.3 L1875.0 580.8 L1873.0 580.8 L1873.0 580.5 L1871.0 580.5 L1871.0 580.6 L1869.0 580.6 L1869.0 579.7 L1867.5 579.7 L1867.5 581.7 L1865.0 581.7 L1865.0 582.5 L1863.5 582.5 L1863.5 580.5 L1861.5 580.5 L1861.5 582.1 L1859.0 582.1 L1859.0 581.7 L1856.0 581.7 L1856.0 582.5 L1852.5 582.5 L1852.5 583.9 L1850.0 583.9 L1850.0 582.9 L1846.5 582.9 L1846.5 583.5 L1844.0 583.5 L1844.0 582.3 L1841.0 582.3 L1841.0 579.3 L1838.5 579.3 L1838.5 578.4 L1835.0 578.4 L1835.0 578.9 L1833.5 578.9 L1833.5 576.9 L1831.5 576.9 L1831.5 576.8 L1828.0 576.8 L1828.0 577.7 L1824.5 577.7 L1824.5 575.4 L1821.5 575.4 L1821.5 574.2 L1818.0 574.2 L1818.0 574.4 L1814.5 574.4 L1814.5 571.1 L1813.0 571.1 L1813.0 570.0 L1810.0 570.0 L1810.0 570.9 L1807.0 570.9 L1807.0 571.0 L1805.5 571.0 L1805.5 571.5 L1804.0 571.5 L1804.0 569.7 L1801.0 569.7 L1801.0 571.0 L1798.0 571.0 L1798.0 570.1 L1796.0 570.1 L1796.0 572.8 L1792.5 572.8 L1792.5 572.7 L1789.0 572.7 L1789.0 572.4 L1786.0 572.4 L1786.0 572.2 L1784.5 572.2 L1784.5 574.5 L1782.5 574.5 L1782.5 575.0 L1780.5 575.0 L1780.5 572.4 L1778.0 572.4 L1778.0 575.5 L1776.5 575.5 L1776.5 574.4 L1774.5 574.4 L1774.5 573.9 L1773.0 573.9 L1773.0 573.2 L1770.0 573.2 L1770.0 575.2 L1768.5 575.2 L1768.5 575.3 L1766.5 575.3 L1766.5 575.1 L1764.0 575.1 L1764.0 572.8 L1761.5 572.8 L1761.5 574.2 L1758.5 574.2 L1758.5 574.6 L1755.0 574.6 L1755.0 572.6 L1752.0 572.6 L1752.0 572.8 L1749.5 572.8 L1749.5 572.9 L1747.5 572.9 L1747.5 575.2 L1745.0 575.2 L1745.0 574.3 L1741.5 574.3 L1741.5 575.9 L1740.0 575.9 L1740.0 572.8 L1736.5 572.8 L1736.5 575.1 L1733.5 575.1 L1733.5 575.5 L1730.5 575.5 L1730.5 573.2 L1729.0 573.2 L1729.0 575.5 L1726.5 575.5 L1726.5 575.9 L1723.0 575.9 L1723.0 575.4 L1720.5 575.4 L1720.5 572.8 L1717.5 572.8 L1717.5 572.5 L1716.0 572.5 L1716.0 573.9 L1713.5 573.9 L1713.5 574.9 L1710.5 574.9 L1710.5 572.2 L1708.0 572.2 L1708.0 573.6 L1704.5 573.6 L1704.5 575.2 L1702.0 575.2 L1702.0 572.1 L1699.0 572.1 L1699.0 572.9 L1696.0 572.9 L1696.0 574.5 L1693.5 574.5 L1693.5 574.0 L1691.5 574.0 L1691.5 572.1 L1689.5 572.1 L1689.5 572.0 L1688.0 572.0 L1688.0 572.2 L1685.5 572.2 L1685.5 575.0 L1684.0 575.0 L1684.0 571.9 L1682.0 571.9 L1682.0 574.7 L1679.0 574.7 L1679.0 572.1 L1676.5 572.1 L1676.5 575.3 L1674.0 575.3 L1674.0 576.9 L1672.0 576.9 L1672.0 577.3 L1670.0 577.3 L1670.0 575.5 L1667.5 575.5 L1667.5 575.9 L1664.5 575.9 L1664.5 576.0 L1662.0 576.0 L1662.0 576.9 L1659.0 576.9 L1659.0 578.1 L1657.5 578.1 L1657.5 577.5 L1654.0 577.5 L1654.0 577.3 L1651.5 577.3 L1651.5 580.6 L1649.0 580.6 L1649.0 578.2 L1647.5 578.2 L1647.5 580.8 L1646.0 580.8 L1646.0 578.5 L1644.5 578.5 L1644.5 578.7 L1642.0 578.7 L1642.0 581.2 L1640.0 581.2 L1640.0 579.6 L1637.0 579.6 L1637.0 582.4 L1634.5 582.4 L1634.5 580.8 L1631.0 580.8 L1631.0 579.7 L1629.0 579.7 L1629.0 582.7 L1625.5 582.7 L1625.5 580.6 L1622.5 580.6 L1622.5 579.6 L1620.5 579.6 L1620.5 579.4 L1617.5 579.4 L1617.5 580.3 L1616.0 580.3 L1616.0 577.9 L1613.0 577.9 L1613.0 585.4 L1611.5 585.4 L1611.5 578.4 L1609.5 578.4 L1609.5 579.2 L1607.0 579.2 L1607.0 578.1 L1605.5 578.1 L1605.5 578.1 L1603.0 578.1 L1603.0 577.6 L1601.5 577.6 L1601.5 578.1 L1599.5 578.1 L1599.5 578.0 L1597.0 578.0 L1597.0 575.9 L1594.0 575.9 L1594.0 578.3 L1592.0 578.3 L1592.0 578.3 L1590.0 578.3 L1590.0 576.4 L1588.0 576.4 L1588.0 575.5 L1585.5 575.5 L1585.5 574.6 L1582.0 574.6 L1582.0 575.1 L1579.0 575.1 L1579.0 576.7 L1577.5 576.7 L1577.5 574.6 L1574.0 574.6 L1574.0 574.3 L1571.5 574.3 L1571.5 574.4 L1569.5 574.4 L1569.5 575.4 L1566.0 575.4 L1566.0 575.3 L1564.0 575.3 L1564.0 575.9 L1561.0 575.9 L1561.0 574.1 L1559.0 574.1 L1559.0 576.6 L1557.5 576.6 L1557.5 577.7 L1554.0 577.7 L1554.0 575.3 L1550.5 575.3 L1550.5 575.4 L1548.5 575.4 L1548.5 577.1 L1545.5 577.1 L1545.5 579.7 L1542.5 579.7 L1542.5 578.6 L1539.0 578.6 L1539.0 578.1 L1536.0 578.1 L1536.0 578.3 L1532.5 578.3 L1532.5 580.9 L1531.0 580.9 L1531.0 580.3 L1528.5 580.3 L1528.5 580.8 L1525.5 580.8 L1525.5 581.0 L1522.5 581.0 L1522.5 581.9 L1519.5 581.9 L1519.5 581.7 L1516.0 581.7 L1516.0 581.5 L1513.5 581.5 L1513.5 582.0 L1512.0 582.0 L1512.0 579.2 L1509.0 579.2 L1509.0 580.6 L1506.5 580.6 L1506.5 580.1 L1504.0 580.1 L1504.0 581.6 L1500.5 581.6 L1500.5 580.5 L1498.5 580.5 L1498.5 577.9 L1497.0 577.9 L1497.0 580.5 L1495.5 580.5 L1495.5 577.8 L1493.0 577.8 L1493.0 581.0 L1490.0 581.0 L1490.0 580.3 L1487.5 580.3 L1487.5 577.5 L1484.0 577.5 L1484.0 579.6 L1481.5 579.6 L1481.5 579.8 L1479.0 579.8 L1479.0 580.4 L1475.5 580.4 L1475.5 576.9 L1474.0 576.9 L1474.0 579.4 L1472.5 579.4 L1472.5 577.4 L1470.5 577.4 L1470.5 579.4 L1469.0 579.4 L1469.0 579.3 L1466.0 579.3 L1466.0 577.7 L1464.5 577.7 L1464.5 578.7 L1463.0 578.7 L1463.0 577.9 L1461.0 577.9 L1461.0 579.4 L1458.5 579.4 L1458.5 577.4 L1455.5 577.4 L1455.5 578.3 L1454.0 578.3 L1454.0 577.6 L1451.5 577.6 L1451.5 577.0 L1448.5 577.0 L1448.5 578.7 L1446.5 578.7 L1446.5 579.5 L1444.5 579.5 L1444.5 576.3 L1443.0 576.3 L1443.0 578.8 L1440.0 578.8 L1440.0 577.2 L1436.5 577.2 L1436.5 578.5 L1434.0 578.5 L1434.0 579.0 L1431.0 579.0 L1431.0 578.7 L1428.0 578.7 L1428.0 577.4 L1426.5 577.4 L1426.5 577.2 L1423.5 577.2 L1423.5 578.0 L1420.0 578.0 L1420.0 577.0 L1418.5 577.0 L1418.5 578.0 L1416.0 578.0 L1416.0 576.7 L1414.5 576.7 L1414.5 574.8 L1411.0 574.8 L1411.0 575.6 L1408.0 575.6 L1408.0 574.2 L1405.5 574.2 L1405.5 574.1 L1403.0 574.1 L1403.0 575.7 L1400.5 575.7 L1400.5 576.8 L1397.5 576.8 L1397.5 576.4 L1395.5 576.4 L1395.5 578.6 L1394.0 578.6 L1394.0 578.9 L1390.5 578.9 L1390.5 582.8 L1387.0 582.8 L1387.0 583.7 L1383.5 583.7 L1383.5 583.6 L1382.0 583.6 L1382.0 580.7 L1378.5 580.7 L1378.5 581.6 L1375.0 581.6 L1375.0 584.6 L1371.5 584.6 L1371.5 584.9 L1368.5 584.9 L1368.5 582.3 L1365.5 582.3 L1365.5 583.3 L1362.0 583.3 L1362.0 585.8 L1360.0 585.8 L1360.0 585.6 L1358.5 585.6 L1358.5 586.6 L1355.5 586.6 L1355.5 586.4 L1353.0 586.4 L1353.0 585.5 L1350.5 585.5 L1350.5 584.7 L1347.0 584.7 L1347.0 588.5 L1343.5 588.5 L1343.5 587.7 L1340.5 587.7 L1340.5 587.0 L1337.5 587.0 L1337.5 589.4 L1334.0 589.4 L1334.0 589.6 L1331.0 589.6 L1331.0 587.1 L1328.0 587.1 L1328.0 589.4 L1326.5 589.4 L1326.5 589.0 L1323.5 589.0 L1323.5 587.8 L1321.5 587.8 L1321.5 589.8 L1319.5 589.8 L1319.5 588.6 L1316.5 588.6 L1316.5 592.3 L1314.0 592.3 L1314.0 589.8 L1311.5 589.8 L1311.5 591.1 L1310.0 591.1 L1310.0 592.9 L1307.5 592.9 L1307.5 591.5 L1304.5 591.5 L1304.5 589.2 L1302.0 589.2 L1302.0 591.6 L1299.0 591.6 L1299.0 589.2 L1296.5 589.2 L1296.5 589.9 L1294.0 589.9 L1294.0 589.7 L1292.0 589.7 L1292.0 592.2 L1289.0 592.2 L1289.0 588.7 L1285.5 588.7 L1285.5 591.4 L1284.0 591.4 L1284.0 589.5 L1280.5 589.5 L1280.5 589.7 L1277.0 589.7 L1277.0 588.9 L1275.5 588.9 L1275.5 590.3 L1274.0 590.3 L1274.0 589.5 L1272.5 589.5 L1272.5 591.2 L1270.0 591.2 L1270.0 588.6 L1266.5 588.6 L1266.5 589.3 L1264.0 589.3 L1264.0 590.7 L1260.5 590.7 L1260.5 589.2 L1258.0 589.2 L1258.0 590.3 L1256.5 590.3 L1256.5 591.4 L1254.0 591.4 L1254.0 588.0 L1250.5 588.0 L1250.5 588.5 L1248.5 588.5 L1248.5 590.4 L1245.5 590.4 L1245.5 588.9 L1242.0 588.9 L1242.0 590.3 L1238.5 590.3 L1238.5 590.6 L1236.0 590.6 L1236.0 591.0 L1234.5 591.0 L1234.5 592.4 L1233.0 592.4 L1233.0 591.7 L1230.5 591.7 L1230.5 592.2 L1229.0 592.2 L1229.0 589.6 L1225.5 589.6 L1225.5 591.2 L1223.5 591.2 L1223.5 589.3 L1222.0 589.3 L1222.0 590.5 L1220.5 590.5 L1220.5 590.8 L1217.0 590.8 L1217.0 590.0 L1214.0 590.0 L1214.0 592.3 L1212.0 592.3 L1212.0 591.4 L1208.5 591.4 L1208.5 595.0 L1206.5 595.0 L1206.5 595.1 L1205.0 595.1 L1205.0 594.7 L1203.0 594.7 L1203.0 595.5 L1201.0 595.5 L1201.0 595.9 L1198.5 595.9 L1198.5 602.0 L1197.0 602.0 L1197.0 599.5 L1194.5 599.5 L1194.5 596.6 L1193.0 596.6 L1193.0 596.1 L1189.5 596.1 L1189.5 598.0 L1188.0 598.0 L1188.0 597.5 L1185.0 597.5 L1185.0 596.1 L1182.5 596.1 L1182.5 599.1 L1180.5 599.1 L1180.5 599.9 L1177.5 599.9 L1177.5 596.8 L1176.0 596.8 L1176.0 599.2 L1172.5 599.2 L1172.5 599.7 L1171.0 599.7 L1171.0 598.1 L1167.5 598.1 L1167.5 598.2 L1166.0 598.2 L1166.0 600.0 L1163.0 600.0 L1163.0 600.7 L1160.0 600.7 L1160.0 601.8 L1158.0 601.8 L1158.0 599.4 L1156.5 599.4 L1156.5 602.2 L1153.0 602.2 L1153.0 601.0 L1151.5 601.0 L1151.5 599.2 L1148.5 599.2 L1148.5 601.4 L1146.5 601.4 L1146.5 601.0 L1143.0 601.0 L1143.0 599.7 L1140.0 599.7 L1140.0 602.4 L1136.5 602.4 L1136.5 603.1 L1135.0 603.1 L1135.0 601.7 L1132.0 601.7 L1132.0 599.8 L1129.0 599.8 L1129.0 599.0 L1126.5 599.0 L1126.5 598.6 L1124.5 598.6 L1124.5 601.5 L1121.5 601.5 L1121.5 599.9 L1118.0 599.9 L1118.0 598.4 L1116.5 598.4 L1116.5 601.9 L1115.0 601.9 L1115.0 599.3 L1112.5 599.3 L1112.5 597.1 L1109.0 597.1 L1109.0 596.1 L1106.0 596.1 L1106.0 598.9 L1104.0 598.9 L1104.0 597.1 L1102.0 597.1 L1102.0 598.3 L1098.5 598.3 L1098.5 597.8 L1095.5 597.8 L1095.5 596.8 L1093.0 596.8 L1093.0 595.4 L1091.0 595.4 L1091.0 594.2 L1088.0 594.2 L1088.0 594.9 L1085.0 594.9 L1085.0 595.0 L1082.0 595.0 L1082.0 596.6 L1078.5 596.6 L1078.5 596.1 L1076.0 596.1 L1076.0 593.6 L1074.5 593.6 L1074.5 593.4 L1072.5 593.4 L1072.5 595.1 L1071.0 595.1 L1071.0 593.9 L1069.5 593.9 L1069.5 593.7 L1067.0 593.7 L1067.0 596.0 L1064.0 596.0 L1064.0 596.0 L1062.5 596.0 L1062.5 595.4 L1061.0 595.4 L1061.0 596.8 L1059.5 596.8 L1059.5 594.6 L1056.5 594.6 L1056.5 597.2 L1053.0 597.2 L1053.0 595.8 L1050.0 595.8 L1050.0 596.4 L1048.5 596.4 L1048.5 597.8 L1046.0 597.8 L1046.0 597.1 L1043.5 597.1 L1043.5 596.9 L1041.0 596.9 L1041.0 595.1 L1039.0 595.1 L1039.0 595.8 L1037.0 595.8 L1037.0 597.8 L1034.5 597.8 L1034.5 596.2 L1032.0 596.2 L1032.0 597.6 L1030.5 597.6 L1030.5 594.6 L1028.5 594.6 L1028.5 595.1 L1025.5 595.1 L1025.5 596.3 L1023.5 596.3 L1023.5 596.0 L1022.0 596.0 L1022.0 595.0 L1020.0 595.0 L1020.0 595.7 L1017.5 595.7 L1017.5 596.0 L1015.5 596.0 L1015.5 596.1 L1012.5 596.1 L1012.5 598.4 L1010.0 598.4 L1010.0 598.9 L1006.5 598.9 L1006.5 599.1 L1004.0 599.1 L1004.0 598.4 L1002.0 598.4 L1002.0 597.7 L1000.0 597.7 L1000.0 599.8 L998.5 599.8 L998.5 600.7 L995.0 600.7 L995.0 599.4 L993.5 599.4 L993.5 598.9 L991.0 598.9 L991.0 598.3 L987.5 598.3 L987.5 599.5 L985.0 599.5 L985.0 598.3 L983.5 598.3 L983.5 601.2 L982.0 601.2 L982.0 601.2 L979.5 601.2 L979.5 597.5 L976.5 597.5 L976.5 600.0 L973.5 600.0 L973.5 600.2 L971.0 600.2 L971.0 597.6 L968.5 597.6 L968.5 598.3 L966.0 598.3 L966.0 599.6 L962.5 599.6 L962.5 600.0 L959.5 600.0 L959.5 597.8 L956.0 597.8 L956.0 601.0 L953.5 601.0 L953.5 598.1 L950.0 598.1 L950.0 598.4 L947.0 598.4 L947.0 601.7 L944.5 601.7 L944.5 600.5 L941.0 600.5 L941.0 601.9 L938.5 601.9 L938.5 603.1 L935.0 603.1 L935.0 605.0 L933.5 605.0 L933.5 605.9 L931.5 605.9 L931.5 608.0 L930.0 608.0 L930.0 609.0 L927.5 609.0 L927.5 609.2 L925.5 609.2 L925.5 609.8 L922.5 609.8 L922.5 609.7 L920.5 609.7 L920.5 608.0 L917.0 608.0 L917.0 609.1 L914.0 609.1 L914.0 607.9 L911.5 607.9 L911.5 609.4 L909.0 609.4 L909.0 611.4 L906.0 611.4 L906.0 610.9 L903.0 610.9 L903.0 610.1 L900.0 610.1 L900.0 611.0 L897.5 611.0 L897.5 611.1 L896.0 611.1 L896.0 612.8 L894.0 612.8 L894.0 612.7 L892.5 612.7 L892.5 610.2 L891.0 610.2 L891.0 611.0 L888.0 611.0 L888.0 616.4 L886.5 616.4 L886.5 612.7 L883.0 612.7 L883.0 610.9 L879.5 610.9 L879.5 611.6 L877.0 611.6 L877.0 612.7 L874.5 612.7 L874.5 613.5 L872.5 613.5 L872.5 612.5 L869.5 612.5 L869.5 609.6 L866.0 609.6 L866.0 612.1 L863.0 612.1 L863.0 608.4 L861.0 608.4 L861.0 608.6 L859.5 608.6 L859.5 609.3 L856.0 609.3 L856.0 612.5 L854.5 612.5 L854.5 610.0 L853.0 610.0 L853.0 611.0 L850.5 611.0 L850.5 611.2 L848.0 611.2 L848.0 609.1 L845.0 609.1 L845.0 610.1 L842.0 610.1 L842.0 610.8 L838.5 610.8 L838.5 610.1 L836.0 610.1 L836.0 610.9 L832.5 610.9 L832.5 611.1 L830.0 611.1 L830.0 611.9 L828.0 611.9 L828.0 614.2 L826.5 614.2 L826.5 614.1 L824.5 614.1 L824.5 613.8 L821.0 613.8 L821.0 614.5 L817.5 614.5 L817.5 611.6 L815.0 611.6 L815.0 612.7 L813.0 612.7 L813.0 613.3 L809.5 613.3 L809.5 614.9 L806.5 614.9 L806.5 613.5 L804.0 613.5 L804.0 614.0 L802.0 614.0 L802.0 614.3 L799.5 614.3 L799.5 609.6 L797.5 609.6 L797.5 608.3 L795.0 608.3 L795.0 607.0 L792.5 607.0 L792.5 606.9 L790.5 606.9 L790.5 607.2 L788.5 607.2 L788.5 607.1 L787.0 607.1 L787.0 611.5 L783.5 611.5 L783.5 609.9 L780.0 609.9 L780.0 611.3 L777.5 611.3 L777.5 615.7 L776.0 615.7 L776.0 615.1 L774.0 615.1 L774.0 613.0 L772.0 613.0 L772.0 616.0 L769.5 616.0 L769.5 615.0 L766.5 615.0 L766.5 612.7 L764.0 612.7 L764.0 615.1 L761.5 615.1 L761.5 613.3 L759.0 613.3 L759.0 615.8 L756.5 615.8 L756.5 615.6 L753.5 615.6 L753.5 612.9 L750.5 612.9 L750.5 612.2 L749.0 612.2 L749.0 611.8 L746.0 611.8 L746.0 615.2 L744.5 615.2 L744.5 609.4 L741.5 609.4 L741.5 610.8 L738.5 610.8 L738.5 611.8 L735.0 611.8 L735.0 611.2 L732.5 611.2 L732.5 611.0 L730.5 611.0 L730.5 611.4 L728.5 611.4 L728.5 611.9 L726.0 611.9 L726.0 611.3 L723.0 611.3 L723.0 613.9 L720.0 613.9 L720.0 613.7 L718.5 613.7 L718.5 613.3 L715.0 613.3 L715.0 615.9 L712.0 615.9 L712.0 613.4 L709.5 613.4 L709.5 614.6 L706.0 614.6 L706.0 611.7 L703.0 611.7 L703.0 612.5 L699.5 612.5 L699.5 616.8 L698.0 616.8 L698.0 619.6 L695.5 619.6 L695.5 623.4 L692.5 623.4 L692.5 622.5 L691.0 622.5 L691.0 617.7 L688.0 617.7 L688.0 620.6 L686.5 620.6 L686.5 622.0 L684.0 622.0 L684.0 621.0 L680.5 621.0 L680.5 621.8 L678.5 621.8 L678.5 623.0 L675.5 623.0 L675.5 623.1 L674.0 623.1 L674.0 622.6 L671.5 622.6 L671.5 619.9 L668.0 619.9 L668.0 621.7 L666.0 621.7 L666.0 620.1 L663.5 620.1 L663.5 619.5 L660.0 619.5 L660.0 622.6 L657.5 622.6 L657.5 619.8 L655.5 619.8 L655.5 620.8 L653.5 620.8 L653.5 622.2 L650.5 622.2 L650.5 620.3 L647.0 620.3 L647.0 618.7 L645.0 618.7 L645.0 621.4 L643.5 621.4 L643.5 621.0 L640.5 621.0 L640.5 619.2 L639.0 619.2 L639.0 620.2 L635.5 620.2 L635.5 618.6 L633.5 618.6 L633.5 620.2 L631.5 620.2 L631.5 621.7 L628.5 621.7 L628.5 621.5 L625.5 621.5 L625.5 619.6 L623.5 619.6 L623.5 621.0 L620.0 621.0 L620.0 618.4 L618.5 618.4 L618.5 618.5 L616.0 618.5 L616.0 618.9 L613.5 618.9 L613.5 620.2 L610.5 620.2 L610.5 619.7 L607.0 619.7 L607.0 620.2 L605.5 620.2 L605.5 620.0 L603.5 620.0 L603.5 618.9 L601.5 618.9 L601.5 620.7 L598.0 620.7 L598.0 620.7 L596.5 620.7 L596.5 621.3 L594.5 621.3 L594.5 619.4 L593.0 619.4 L593.0 624.4 L591.5 624.4 L591.5 621.1 L588.5 621.1 L588.5 624.0 L586.5 624.0 L586.5 624.2 L584.5 624.2 L584.5 625.5 L582.0 625.5 L582.0 625.8 L579.0 625.8 L579.0 626.7 L576.5 626.7 L576.5 626.6 L573.5 626.6 L573.5 629.4 L570.0 629.4 L570.0 629.6 L568.5 629.6 L568.5 630.8 L565.5 630.8 L565.5 632.7 L562.0 632.7 L562.0 633.7 L560.0 633.7 L560.0 632.7 L556.5 632.7 L556.5 633.8 L553.0 633.8 L553.0 633.7 L550.5 633.7 L550.5 635.2 L548.5 635.2 L548.5 633.8 L546.0 633.8 L546.0 636.5 L544.5 636.5 L544.5 633.2 L542.0 633.2 L542.0 634.5 L539.5 634.5 L539.5 636.5 L536.5 636.5 L536.5 634.2 L533.5 634.2 L533.5 633.8 L532.0 633.8 L532.0 633.7 L528.5 633.7 L528.5 637.4 L525.5 637.4 L525.5 639.1 L523.5 639.1 L523.5 641.8 L520.0 641.8 L520.0 644.8 L518.5 644.8 L518.5 646.2 L516.0 646.2 L516.0 651.2 L514.0 651.2 L514.0 650.9 L512.0 650.9 L512.0 651.6 L508.5 651.6 L508.5 649.2 L506.5 649.2 L506.5 649.1 L505.0 649.1 L505.0 650.5 L503.0 650.5 L503.0 648.8 L501.0 648.8 L501.0 649.7 L499.0 649.7 L499.0 650.7 L497.0 650.7 L497.0 647.8 L495.0 647.8 L495.0 647.2 L493.5 647.2 L493.5 650.0 L490.0 650.0 L490.0 646.2 L488.5 646.2 L488.5 649.1 L485.0 649.1 L485.0 650.4 L481.5 650.4 L481.5 650.2 L479.5 650.2 L479.5 653.1 L478.0 653.1 L478.0 653.8 L475.5 653.8 L475.5 653.9 L472.0 653.9 L472.0 657.4 L469.0 657.4 L469.0 660.5 L465.5 660.5 L465.5 660.0 L464.0 660.0 L464.0 666.3 L460.5 666.3 L460.5 668.0 L457.0 668.0 L457.0 670.0 L455.0 670.0 L455.0 672.6 L453.5 672.6 L453.5 672.6 L452.0 672.6 L452.0 675.4 L448.5 675.4 L448.5 676.7 L446.0 676.7 L446.0 679.0 L442.5 679.0 L442.5 679.5 L441.0 679.5 L441.0 676.4 L437.5 676.4 L437.5 677.8 L434.5 677.8 L434.5 685.3 L431.0 685.3 L431.0 696.6 L428.0 696.6 L428.0 701.3 L425.0 701.3 L425.0 706.9 L423.5 706.9 L423.5 707.4 L422.0 707.4 L422.0 706.6 L420.0 706.6 L420.0 709.7 L417.0 709.7 L417.0 713.9 L414.5 713.9 L414.5 716.0 L413.0 716.0 L413.0 719.2 L409.5 719.2 L409.5 722.3 L408.0 722.3 L408.0 726.5 L406.5 726.5 L406.5 732.5 L403.5 732.5 L403.5 742.9 L400.0 742.9 L397.0 755.0 L386.4 756.0 L380.5 770.3 L372.3 817.2 L368.8 840.6 L365.3 887.5 L361.8 934.0 L359.4 981.0 L356.7 1040.0 L354.0 1060.0 L351.0 1100.0 L348.3 1138.0 L348.3 1237.0Z" fill="#ff0000"/>
<rect x="345.6" y="1085" width="2.8" height="148" fill="#8a1414"/>
<rect x="345.6" y="1256" width="2.8" height="106" fill="#1e3c78"/>
<rect x="345.6" y="1362" width="2.8" height="336" fill="#1f6b1f"/>
<rect x="579.0" y="370.0" width="580.0" height="92.0" fill="#ffffff" stroke="#ffff00" stroke-width="10.5"/>
<text x="864.5" y="433.0" text-anchor="middle" class="lg" style="font-size:51.3px">steel 12Kh18N10T</text>
<rect x="1560.0" y="417.5" width="580.0" height="93.5" fill="#ffffff" stroke="#ff0000" stroke-width="10.5"/>
<text x="1848.9" y="481.5" text-anchor="middle" class="lg" style="font-size:52.5px">three-layer coating</text>
<rect x="1357.0" y="690.0" width="494.5" height="95.0" fill="#ffffff" stroke="#4472c4" stroke-width="11.0"/>
<text x="1604.0" y="756.3" text-anchor="middle" class="lg" style="font-size:52.5px">six-layer coating</text>
<rect x="1143.0" y="968.0" width="706.5" height="92.0" fill="#ffffff" stroke="#00b050" stroke-width="9.5"/>
<text x="1495.0" y="1031.3" text-anchor="middle" class="lg" style="font-size:52.2px">five-layer gradient coating</text>
<defs>
<linearGradient id="side" x1="1520.5" y1="0" x2="2163.5" y2="0" gradientUnits="userSpaceOnUse">
<stop offset="0" stop-color="#6a6a6e"/>
<stop offset="0.015" stop-color="#3c3c40"/>
<stop offset="0.09" stop-color="#55555a"/>
<stop offset="0.17" stop-color="#78787c"/>
<stop offset="0.235" stop-color="#a5a5a8"/>
<stop offset="0.31" stop-color="#d0d0d2"/>
<stop offset="0.36" stop-color="#eaeaec"/>
<stop offset="0.62" stop-color="#ececee"/>
<stop offset="0.66" stop-color="#d8d8da"/>
<stop offset="0.70" stop-color="#b0b0b3"/>
<stop offset="0.75" stop-color="#909094"/>
<stop offset="0.85" stop-color="#6a6a6e"/>
<stop offset="0.94" stop-color="#48484c"/>
<stop offset="0.985" stop-color="#3c3c40"/>
<stop offset="1" stop-color="#6a6a6e"/>
</linearGradient>
</defs>
<line x1="1839.5" y1="1064" x2="1839.5" y2="1299" stroke="#8c8c8c" stroke-width="3"/>
<line x1="1596.5" y1="1109" x2="1596.5" y2="1300" stroke="#9a9a9a" stroke-width="3"/>
<line x1="1610" y1="1186.8" x2="1839.5" y2="1186.8" stroke="#8a8a8a" stroke-width="3"/>
<polygon points="1599,1186.8 1617,1179 1617,1194.6" fill="#1a1a1a"/>
<text x="1707" y="1179" class="it" font-size="44">R</text>
<path d="M1520.5 1299 L1520.5 1414 A321.5 56 0 0 0 2163.5 1414 L2163.5 1299 Z" fill="url(#side)" stroke="#777" stroke-width="1.5"/>
<ellipse cx="1842.0" cy="1299" rx="321.5" ry="56" fill="#e3e3e6" stroke="#6e6e6e" stroke-width="2.2"/>
<ellipse cx="1840.5" cy="1300.7" rx="246" ry="36" fill="none" stroke="#111" stroke-width="3.8"/>
<line x1="1839.5" y1="1240" x2="1839.5" y2="1299" stroke="#8c8c8c" stroke-width="3"/>
<circle cx="2050.5" cy="1228.2" r="61.5" fill="#c5c5c9" stroke="#707070" stroke-width="3"/>
<line x1="2050.9" y1="1231.6" x2="2166.4" y2="1148.4" stroke="#808080" stroke-width="2.6"/>
<polygon points="2088,1205 2073.7,1209.2 2079.6,1217.2" fill="#111"/>
<text x="2178" y="1157" class="it" font-size="44">r</text>
<text x="2049" y="1052.5" class="it" font-size="44">F</text>
<line x1="2054.3" y1="1061.8" x2="2054.3" y2="1145" stroke="#8a8a8a" stroke-width="3"/>
<polygon points="2054.3,1157.8 2046,1140.8 2062.6,1140.8" fill="#111"/>
<line x1="1839.7" y1="1471" x2="1839.7" y2="1634.5" stroke="#9a9a9a" stroke-width="3"/>
<path d="M1807.4 1516.2 A98.8 43.9 0 1 0 1893.7 1520.7" fill="none" stroke="#8a8a8a" stroke-width="2.6"/>
<polygon points="1876.4,1518.4 1893.7,1510.5 1893.7,1527.8" fill="#1a1a1a"/>
<text x="1921" y="1617" class="sf" font-size="53">&#969;</text>
<text y="102.0" text-anchor="end" class="tk"><tspan x="190.9" y="102.0">1</tspan><tspan x="215.8" y="105.0" class="dot">.</tspan><tspan x="291.0" y="102.0">20</tspan></text>
<text y="269.4" text-anchor="end" class="tk"><tspan x="190.9" y="269.4">1</tspan><tspan x="215.8" y="272.4" class="dot">.</tspan><tspan x="291.0" y="269.4">05</tspan></text>
<text y="436.9" text-anchor="end" class="tk"><tspan x="190.9" y="436.9">0</tspan><tspan x="215.8" y="439.9" class="dot">.</tspan><tspan x="291.0" y="436.9">90</tspan></text>
<text y="604.3" text-anchor="end" class="tk"><tspan x="190.9" y="604.3">0</tspan><tspan x="215.8" y="607.3" class="dot">.</tspan><tspan x="291.0" y="604.3">75</tspan></text>
<text y="771.8" text-anchor="end" class="tk"><tspan x="190.9" y="771.8">0</tspan><tspan x="215.8" y="774.8" class="dot">.</tspan><tspan x="291.0" y="771.8">60</tspan></text>
<text y="939.2" text-anchor="end" class="tk"><tspan x="190.9" y="939.2">0</tspan><tspan x="215.8" y="942.2" class="dot">.</tspan><tspan x="291.0" y="939.2">45</tspan></text>
<text y="1106.7" text-anchor="end" class="tk"><tspan x="190.9" y="1106.7">0</tspan><tspan x="215.8" y="1109.7" class="dot">.</tspan><tspan x="291.0" y="1106.7">30</tspan></text>
<text y="1274.1" text-anchor="end" class="tk"><tspan x="190.9" y="1274.1">0</tspan><tspan x="215.8" y="1277.1" class="dot">.</tspan><tspan x="291.0" y="1274.1">15</tspan></text>
<text y="1441.6" text-anchor="end" class="tk"><tspan x="190.9" y="1441.6">0</tspan><tspan x="215.8" y="1444.6" class="dot">.</tspan><tspan x="291.0" y="1441.6">00</tspan></text>
<text y="1609.0" text-anchor="end" class="tk"><tspan x="149.3" y="1605.3" class="mn" textLength="62.3" lengthAdjust="spacingAndGlyphs">&#8212;</tspan><tspan x="190.9" y="1609.0">0</tspan><tspan x="215.8" y="1612.0" class="dot">.</tspan><tspan x="291.0" y="1609.0">15</tspan></text>
<text x="345.9" y="1811" text-anchor="middle" class="tk">0</text>
<text x="643.0" y="1811" text-anchor="middle" class="tk">10</text>
<text x="940.0" y="1811" text-anchor="middle" class="tk">20</text>
<text x="1237.1" y="1811" text-anchor="middle" class="tk">30</text>
<text x="1534.1" y="1811" text-anchor="middle" class="tk">40</text>
<text x="1831.2" y="1811" text-anchor="middle" class="tk">50</text>
<text x="2128.2" y="1811" text-anchor="middle" class="tk">60</text>
<text x="2425.3" y="1811" text-anchor="middle" class="tk">70</text>
<text x="1130" y="1924.3" class="ttl" style="font-size:88px">Distance, m</text>
<text transform="translate(99.5 1252) rotate(-90)" class="ttl">Friction coefficient,&#956;</text>
</svg>
</body></html>
